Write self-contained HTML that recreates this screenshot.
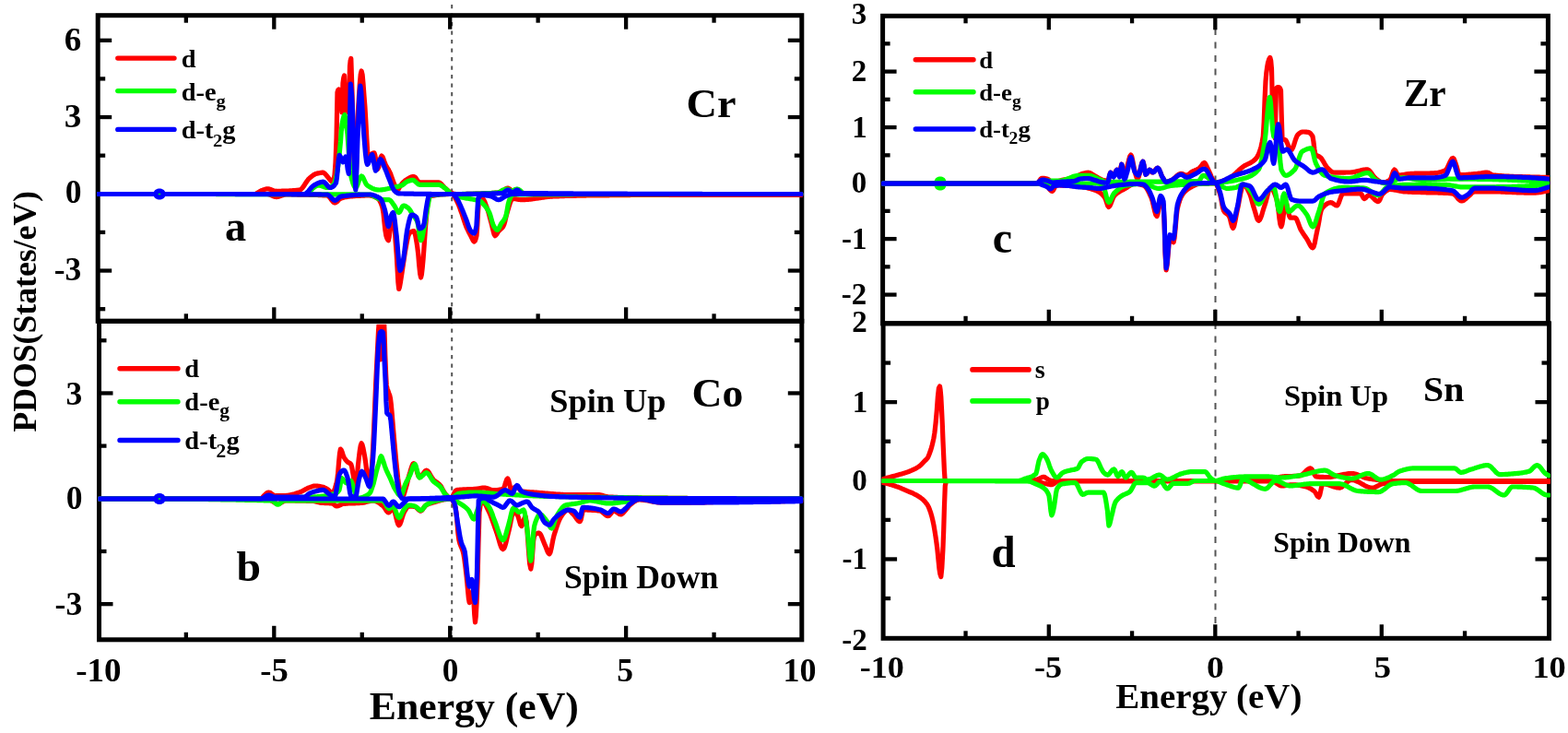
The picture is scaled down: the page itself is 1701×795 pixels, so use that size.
<!DOCTYPE html>
<html><head><meta charset="utf-8"><title>PDOS</title><style>html,body{margin:0;padding:0;background:#fff;}svg{display:block;}</style></head><body>
<svg width="1701" height="795" viewBox="0 0 1701 795" font-family="'Liberation Serif', serif" font-weight="bold">
<rect width="1701" height="795" fill="#fff"/>
<line x1="490.20" y1="5.00" x2="490.20" y2="694.00" stroke="#555" stroke-width="2.00" stroke-linecap="butt" stroke-dasharray="4.2,5.3"/>
<line x1="1318.50" y1="31.00" x2="1318.50" y2="692.00" stroke="#555" stroke-width="2.00" stroke-linecap="butt" stroke-dasharray="7,7.5"/>
<rect x="106.20" y="16.70" width="763.60" height="331.60" fill="none" stroke="#000" stroke-width="5.00"/>
<rect x="107.50" y="348.30" width="762.30" height="345.50" fill="none" stroke="#000" stroke-width="5.00"/>
<rect x="957.60" y="17.30" width="721.80" height="333.50" fill="none" stroke="#000" stroke-width="5.00"/>
<rect x="958.10" y="350.80" width="722.40" height="341.50" fill="none" stroke="#000" stroke-width="5.00"/>
<line x1="297.30" y1="16.70" x2="297.30" y2="31.70" stroke="#000" stroke-width="4.30" stroke-linecap="butt"/>
<line x1="297.30" y1="348.30" x2="297.30" y2="333.30" stroke="#000" stroke-width="4.30" stroke-linecap="butt"/>
<line x1="488.20" y1="16.70" x2="488.20" y2="31.70" stroke="#000" stroke-width="4.30" stroke-linecap="butt"/>
<line x1="488.20" y1="348.30" x2="488.20" y2="333.30" stroke="#000" stroke-width="4.30" stroke-linecap="butt"/>
<line x1="679.10" y1="16.70" x2="679.10" y2="31.70" stroke="#000" stroke-width="4.30" stroke-linecap="butt"/>
<line x1="679.10" y1="348.30" x2="679.10" y2="333.30" stroke="#000" stroke-width="4.30" stroke-linecap="butt"/>
<line x1="201.85" y1="16.70" x2="201.85" y2="24.70" stroke="#000" stroke-width="4.30" stroke-linecap="butt"/>
<line x1="201.85" y1="348.30" x2="201.85" y2="340.30" stroke="#000" stroke-width="4.30" stroke-linecap="butt"/>
<line x1="392.75" y1="16.70" x2="392.75" y2="24.70" stroke="#000" stroke-width="4.30" stroke-linecap="butt"/>
<line x1="392.75" y1="348.30" x2="392.75" y2="340.30" stroke="#000" stroke-width="4.30" stroke-linecap="butt"/>
<line x1="583.65" y1="16.70" x2="583.65" y2="24.70" stroke="#000" stroke-width="4.30" stroke-linecap="butt"/>
<line x1="583.65" y1="348.30" x2="583.65" y2="340.30" stroke="#000" stroke-width="4.30" stroke-linecap="butt"/>
<line x1="774.55" y1="16.70" x2="774.55" y2="24.70" stroke="#000" stroke-width="4.30" stroke-linecap="butt"/>
<line x1="774.55" y1="348.30" x2="774.55" y2="340.30" stroke="#000" stroke-width="4.30" stroke-linecap="butt"/>
<line x1="106.20" y1="43.80" x2="121.20" y2="43.80" stroke="#000" stroke-width="4.30" stroke-linecap="butt"/>
<line x1="869.80" y1="43.80" x2="854.80" y2="43.80" stroke="#000" stroke-width="4.30" stroke-linecap="butt"/>
<line x1="106.20" y1="127.05" x2="121.20" y2="127.05" stroke="#000" stroke-width="4.30" stroke-linecap="butt"/>
<line x1="869.80" y1="127.05" x2="854.80" y2="127.05" stroke="#000" stroke-width="4.30" stroke-linecap="butt"/>
<line x1="106.20" y1="210.30" x2="121.20" y2="210.30" stroke="#000" stroke-width="4.30" stroke-linecap="butt"/>
<line x1="869.80" y1="210.30" x2="854.80" y2="210.30" stroke="#000" stroke-width="4.30" stroke-linecap="butt"/>
<line x1="106.20" y1="293.55" x2="121.20" y2="293.55" stroke="#000" stroke-width="4.30" stroke-linecap="butt"/>
<line x1="869.80" y1="293.55" x2="854.80" y2="293.55" stroke="#000" stroke-width="4.30" stroke-linecap="butt"/>
<line x1="106.20" y1="85.43" x2="114.20" y2="85.43" stroke="#000" stroke-width="4.30" stroke-linecap="butt"/>
<line x1="869.80" y1="85.43" x2="861.80" y2="85.43" stroke="#000" stroke-width="4.30" stroke-linecap="butt"/>
<line x1="106.20" y1="168.68" x2="114.20" y2="168.68" stroke="#000" stroke-width="4.30" stroke-linecap="butt"/>
<line x1="869.80" y1="168.68" x2="861.80" y2="168.68" stroke="#000" stroke-width="4.30" stroke-linecap="butt"/>
<line x1="106.20" y1="251.93" x2="114.20" y2="251.93" stroke="#000" stroke-width="4.30" stroke-linecap="butt"/>
<line x1="869.80" y1="251.93" x2="861.80" y2="251.93" stroke="#000" stroke-width="4.30" stroke-linecap="butt"/>
<line x1="106.20" y1="335.18" x2="114.20" y2="335.18" stroke="#000" stroke-width="4.30" stroke-linecap="butt"/>
<line x1="869.80" y1="335.18" x2="861.80" y2="335.18" stroke="#000" stroke-width="4.30" stroke-linecap="butt"/>
<line x1="297.30" y1="693.80" x2="297.30" y2="678.80" stroke="#000" stroke-width="4.30" stroke-linecap="butt"/>
<line x1="488.20" y1="693.80" x2="488.20" y2="678.80" stroke="#000" stroke-width="4.30" stroke-linecap="butt"/>
<line x1="679.10" y1="693.80" x2="679.10" y2="678.80" stroke="#000" stroke-width="4.30" stroke-linecap="butt"/>
<line x1="201.85" y1="693.80" x2="201.85" y2="685.80" stroke="#000" stroke-width="4.30" stroke-linecap="butt"/>
<line x1="392.75" y1="693.80" x2="392.75" y2="685.80" stroke="#000" stroke-width="4.30" stroke-linecap="butt"/>
<line x1="583.65" y1="693.80" x2="583.65" y2="685.80" stroke="#000" stroke-width="4.30" stroke-linecap="butt"/>
<line x1="774.55" y1="693.80" x2="774.55" y2="685.80" stroke="#000" stroke-width="4.30" stroke-linecap="butt"/>
<line x1="107.50" y1="426.44" x2="122.50" y2="426.44" stroke="#000" stroke-width="4.30" stroke-linecap="butt"/>
<line x1="869.80" y1="426.44" x2="854.80" y2="426.44" stroke="#000" stroke-width="4.30" stroke-linecap="butt"/>
<line x1="107.50" y1="540.80" x2="122.50" y2="540.80" stroke="#000" stroke-width="4.30" stroke-linecap="butt"/>
<line x1="869.80" y1="540.80" x2="854.80" y2="540.80" stroke="#000" stroke-width="4.30" stroke-linecap="butt"/>
<line x1="107.50" y1="655.16" x2="122.50" y2="655.16" stroke="#000" stroke-width="4.30" stroke-linecap="butt"/>
<line x1="869.80" y1="655.16" x2="854.80" y2="655.16" stroke="#000" stroke-width="4.30" stroke-linecap="butt"/>
<line x1="107.50" y1="369.26" x2="115.50" y2="369.26" stroke="#000" stroke-width="4.30" stroke-linecap="butt"/>
<line x1="869.80" y1="369.26" x2="861.80" y2="369.26" stroke="#000" stroke-width="4.30" stroke-linecap="butt"/>
<line x1="107.50" y1="483.62" x2="115.50" y2="483.62" stroke="#000" stroke-width="4.30" stroke-linecap="butt"/>
<line x1="869.80" y1="483.62" x2="861.80" y2="483.62" stroke="#000" stroke-width="4.30" stroke-linecap="butt"/>
<line x1="107.50" y1="597.98" x2="115.50" y2="597.98" stroke="#000" stroke-width="4.30" stroke-linecap="butt"/>
<line x1="869.80" y1="597.98" x2="861.80" y2="597.98" stroke="#000" stroke-width="4.30" stroke-linecap="butt"/>
<line x1="1137.80" y1="17.30" x2="1137.80" y2="32.30" stroke="#000" stroke-width="4.30" stroke-linecap="butt"/>
<line x1="1137.80" y1="350.80" x2="1137.80" y2="335.80" stroke="#000" stroke-width="4.30" stroke-linecap="butt"/>
<line x1="1318.30" y1="17.30" x2="1318.30" y2="32.30" stroke="#000" stroke-width="4.30" stroke-linecap="butt"/>
<line x1="1318.30" y1="350.80" x2="1318.30" y2="335.80" stroke="#000" stroke-width="4.30" stroke-linecap="butt"/>
<line x1="1498.80" y1="17.30" x2="1498.80" y2="32.30" stroke="#000" stroke-width="4.30" stroke-linecap="butt"/>
<line x1="1498.80" y1="350.80" x2="1498.80" y2="335.80" stroke="#000" stroke-width="4.30" stroke-linecap="butt"/>
<line x1="1047.55" y1="17.30" x2="1047.55" y2="25.30" stroke="#000" stroke-width="4.30" stroke-linecap="butt"/>
<line x1="1047.55" y1="350.80" x2="1047.55" y2="342.80" stroke="#000" stroke-width="4.30" stroke-linecap="butt"/>
<line x1="1228.05" y1="17.30" x2="1228.05" y2="25.30" stroke="#000" stroke-width="4.30" stroke-linecap="butt"/>
<line x1="1228.05" y1="350.80" x2="1228.05" y2="342.80" stroke="#000" stroke-width="4.30" stroke-linecap="butt"/>
<line x1="1408.55" y1="17.30" x2="1408.55" y2="25.30" stroke="#000" stroke-width="4.30" stroke-linecap="butt"/>
<line x1="1408.55" y1="350.80" x2="1408.55" y2="342.80" stroke="#000" stroke-width="4.30" stroke-linecap="butt"/>
<line x1="1589.05" y1="17.30" x2="1589.05" y2="25.30" stroke="#000" stroke-width="4.30" stroke-linecap="butt"/>
<line x1="1589.05" y1="350.80" x2="1589.05" y2="342.80" stroke="#000" stroke-width="4.30" stroke-linecap="butt"/>
<line x1="957.60" y1="77.60" x2="972.60" y2="77.60" stroke="#000" stroke-width="4.30" stroke-linecap="butt"/>
<line x1="1679.40" y1="77.60" x2="1664.40" y2="77.60" stroke="#000" stroke-width="4.30" stroke-linecap="butt"/>
<line x1="957.60" y1="138.10" x2="972.60" y2="138.10" stroke="#000" stroke-width="4.30" stroke-linecap="butt"/>
<line x1="1679.40" y1="138.10" x2="1664.40" y2="138.10" stroke="#000" stroke-width="4.30" stroke-linecap="butt"/>
<line x1="957.60" y1="198.60" x2="972.60" y2="198.60" stroke="#000" stroke-width="4.30" stroke-linecap="butt"/>
<line x1="1679.40" y1="198.60" x2="1664.40" y2="198.60" stroke="#000" stroke-width="4.30" stroke-linecap="butt"/>
<line x1="957.60" y1="259.10" x2="972.60" y2="259.10" stroke="#000" stroke-width="4.30" stroke-linecap="butt"/>
<line x1="1679.40" y1="259.10" x2="1664.40" y2="259.10" stroke="#000" stroke-width="4.30" stroke-linecap="butt"/>
<line x1="957.60" y1="319.60" x2="972.60" y2="319.60" stroke="#000" stroke-width="4.30" stroke-linecap="butt"/>
<line x1="1679.40" y1="319.60" x2="1664.40" y2="319.60" stroke="#000" stroke-width="4.30" stroke-linecap="butt"/>
<line x1="957.60" y1="47.35" x2="965.60" y2="47.35" stroke="#000" stroke-width="4.30" stroke-linecap="butt"/>
<line x1="1679.40" y1="47.35" x2="1671.40" y2="47.35" stroke="#000" stroke-width="4.30" stroke-linecap="butt"/>
<line x1="957.60" y1="107.85" x2="965.60" y2="107.85" stroke="#000" stroke-width="4.30" stroke-linecap="butt"/>
<line x1="1679.40" y1="107.85" x2="1671.40" y2="107.85" stroke="#000" stroke-width="4.30" stroke-linecap="butt"/>
<line x1="957.60" y1="168.35" x2="965.60" y2="168.35" stroke="#000" stroke-width="4.30" stroke-linecap="butt"/>
<line x1="1679.40" y1="168.35" x2="1671.40" y2="168.35" stroke="#000" stroke-width="4.30" stroke-linecap="butt"/>
<line x1="957.60" y1="228.85" x2="965.60" y2="228.85" stroke="#000" stroke-width="4.30" stroke-linecap="butt"/>
<line x1="1679.40" y1="228.85" x2="1671.40" y2="228.85" stroke="#000" stroke-width="4.30" stroke-linecap="butt"/>
<line x1="957.60" y1="289.35" x2="965.60" y2="289.35" stroke="#000" stroke-width="4.30" stroke-linecap="butt"/>
<line x1="1679.40" y1="289.35" x2="1671.40" y2="289.35" stroke="#000" stroke-width="4.30" stroke-linecap="butt"/>
<line x1="1137.80" y1="692.30" x2="1137.80" y2="677.30" stroke="#000" stroke-width="4.30" stroke-linecap="butt"/>
<line x1="1318.30" y1="692.30" x2="1318.30" y2="677.30" stroke="#000" stroke-width="4.30" stroke-linecap="butt"/>
<line x1="1498.80" y1="692.30" x2="1498.80" y2="677.30" stroke="#000" stroke-width="4.30" stroke-linecap="butt"/>
<line x1="1047.55" y1="692.30" x2="1047.55" y2="684.30" stroke="#000" stroke-width="4.30" stroke-linecap="butt"/>
<line x1="1228.05" y1="692.30" x2="1228.05" y2="684.30" stroke="#000" stroke-width="4.30" stroke-linecap="butt"/>
<line x1="1408.55" y1="692.30" x2="1408.55" y2="684.30" stroke="#000" stroke-width="4.30" stroke-linecap="butt"/>
<line x1="1589.05" y1="692.30" x2="1589.05" y2="684.30" stroke="#000" stroke-width="4.30" stroke-linecap="butt"/>
<line x1="958.10" y1="436.14" x2="973.10" y2="436.14" stroke="#000" stroke-width="4.30" stroke-linecap="butt"/>
<line x1="1680.50" y1="436.14" x2="1665.50" y2="436.14" stroke="#000" stroke-width="4.30" stroke-linecap="butt"/>
<line x1="958.10" y1="521.30" x2="973.10" y2="521.30" stroke="#000" stroke-width="4.30" stroke-linecap="butt"/>
<line x1="1680.50" y1="521.30" x2="1665.50" y2="521.30" stroke="#000" stroke-width="4.30" stroke-linecap="butt"/>
<line x1="958.10" y1="606.46" x2="973.10" y2="606.46" stroke="#000" stroke-width="4.30" stroke-linecap="butt"/>
<line x1="1680.50" y1="606.46" x2="1665.50" y2="606.46" stroke="#000" stroke-width="4.30" stroke-linecap="butt"/>
<line x1="958.10" y1="393.56" x2="966.10" y2="393.56" stroke="#000" stroke-width="4.30" stroke-linecap="butt"/>
<line x1="1680.50" y1="393.56" x2="1672.50" y2="393.56" stroke="#000" stroke-width="4.30" stroke-linecap="butt"/>
<line x1="958.10" y1="478.72" x2="966.10" y2="478.72" stroke="#000" stroke-width="4.30" stroke-linecap="butt"/>
<line x1="1680.50" y1="478.72" x2="1672.50" y2="478.72" stroke="#000" stroke-width="4.30" stroke-linecap="butt"/>
<line x1="958.10" y1="563.88" x2="966.10" y2="563.88" stroke="#000" stroke-width="4.30" stroke-linecap="butt"/>
<line x1="1680.50" y1="563.88" x2="1672.50" y2="563.88" stroke="#000" stroke-width="4.30" stroke-linecap="butt"/>
<line x1="958.10" y1="649.04" x2="966.10" y2="649.04" stroke="#000" stroke-width="4.30" stroke-linecap="butt"/>
<line x1="1680.50" y1="649.04" x2="1672.50" y2="649.04" stroke="#000" stroke-width="4.30" stroke-linecap="butt"/>
<defs><clipPath id="ca"><rect x="105.2" y="19" width="766.3" height="327"/></clipPath><clipPath id="cb"><rect x="106.5" y="351.8" width="765" height="340"/></clipPath><clipPath id="cc"><rect x="956" y="19.5" width="725" height="329"/></clipPath><clipPath id="cd"><rect x="956.5" y="353" width="725.5" height="337"/></clipPath></defs>
<g clip-path="url(#ca)">
<polyline points="107.0,210.5 276.0,210.5 277.2,210.3 278.3,209.8 279.5,209.1 280.7,208.3 281.8,207.6 283.0,207.0 284.2,206.5 285.3,206.0 286.5,205.6 287.7,205.2 288.8,204.9 290.0,204.8 291.1,204.9 292.2,205.1 293.3,205.4 294.4,205.8 295.6,206.3 296.7,206.7 297.8,207.0 298.9,207.2 300.0,207.3 301.2,207.3 302.4,207.3 303.6,207.3 304.8,207.3 306.0,207.2 307.1,207.2 308.3,207.2 309.5,207.1 310.7,207.1 311.9,207.0 313.1,207.0 314.3,206.9 315.5,206.8 316.7,206.8 317.9,206.7 319.0,206.6 320.2,206.5 321.4,206.4 322.6,206.3 323.8,206.1 325.0,206.0 326.2,205.6 327.3,204.6 328.5,203.2 329.7,201.6 330.8,199.8 332.0,198.0 333.2,196.2 334.3,194.7 335.5,193.5 336.6,192.6 337.6,191.7 338.7,190.8 339.8,190.0 340.9,189.3 341.9,188.8 343.0,188.4 344.1,188.1 345.2,187.9 346.3,187.7 347.3,187.5 348.4,187.3 349.5,187.2 350.6,187.2 351.6,187.6 352.6,188.5 353.7,189.7 354.7,191.0 355.7,192.2 356.7,193.4 357.7,194.7 358.7,195.9 359.7,196.8 360.7,197.2 361.9,195.2 363.0,190.0 364.0,176.1 365.0,150.0 366.0,100.0 366.8,97.7 367.5,97.0 368.5,118.0 369.5,98.0 370.2,110.0 371.0,122.0 372.0,90.0 372.8,84.2 373.5,82.0 374.2,101.0 375.0,120.0 375.8,108.0 376.5,96.0 377.2,109.0 378.0,122.0 378.8,99.0 379.5,72.0 380.1,66.0 380.8,63.5 382.0,100.0 382.8,131.4 383.5,160.0 384.5,186.8 385.5,200.0 386.5,183.0 387.5,148.2 388.5,120.0 389.4,104.8 390.3,91.0 391.2,80.9 392.1,77.0 393.1,80.8 394.0,90.5 394.9,103.0 395.9,115.5 396.8,131.0 397.8,150.2 398.8,166.4 399.7,173.3 400.9,170.9 402.0,168.0 403.0,167.1 404.0,166.4 405.0,166.0 406.0,165.8 406.9,168.6 407.9,174.6 408.8,180.6 409.7,183.4 410.8,181.2 411.9,176.2 412.9,171.2 414.0,169.0 415.0,170.0 416.0,172.5 417.0,175.4 418.0,178.0 419.1,180.1 420.2,182.1 421.4,184.0 422.5,186.1 423.6,188.4 424.7,191.5 425.9,194.9 427.0,198.0 428.0,200.6 429.1,203.2 430.1,205.2 431.1,206.0 432.1,205.3 433.1,203.7 434.2,201.9 435.2,200.3 436.2,199.1 437.2,198.0 438.3,197.0 439.3,196.0 440.3,195.3 441.4,194.6 442.5,193.9 443.6,193.3 444.6,192.7 445.7,192.2 446.8,191.8 447.9,191.6 449.0,191.5 450.1,192.0 451.1,193.1 452.1,194.6 453.2,196.2 454.2,197.3 455.3,197.8 456.4,197.8 457.5,197.8 458.7,197.8 459.8,197.8 460.9,197.8 462.0,197.8 463.2,197.8 464.3,197.8 465.4,197.8 466.5,197.8 467.6,197.8 468.8,197.8 469.9,197.8 471.0,197.8 472.1,197.8 473.3,197.8 474.4,197.8 475.5,197.8 476.6,198.0 477.6,198.7 478.7,199.6 479.8,200.8 480.9,202.0 481.9,203.1 483.0,204.1 484.1,205.0 485.1,206.0 486.1,206.9 487.2,207.8 488.2,208.6 489.3,209.1 490.4,209.5 491.6,209.9 492.7,210.2 493.9,210.4 495.0,210.5 496.2,210.5 497.4,210.5 498.6,210.5 499.7,210.5 500.9,210.5 502.1,210.5 503.3,210.5 504.5,210.5 505.7,210.4 506.8,210.4 508.0,210.4 509.2,210.4 510.4,210.4 511.6,210.3 512.8,210.3 513.9,210.3 515.1,210.3 516.3,210.2 517.5,210.2 518.7,210.2 519.9,210.1 521.1,210.1 522.2,210.0 523.4,210.0 524.6,209.9 525.8,209.9 527.0,209.8 528.2,209.8 529.3,209.7 530.5,209.6 531.7,209.6 532.9,209.5 534.1,209.4 535.3,209.3 536.4,209.3 537.6,209.2 538.8,209.1 540.0,209.0 541.0,208.8 542.0,208.4 543.0,208.0 544.0,207.5 545.0,207.0 546.2,206.4 547.4,205.6 548.5,204.9 549.7,204.3 550.9,204.1 551.9,204.4 552.9,205.1 554.0,206.0 555.0,206.7 556.0,207.0 557.0,206.8 558.0,206.4 559.0,205.9 560.0,205.5 561.0,205.3 562.0,205.7 563.0,206.5 564.0,207.5 565.0,208.5 566.0,209.0 567.2,209.2 568.3,209.5 569.5,209.7 570.7,209.8 571.8,210.0 573.0,210.1 574.2,210.2 575.3,210.3 576.5,210.4 577.7,210.5 578.8,210.5 580.0,210.5 869.0,210.5" fill="none" stroke="#ff0000" stroke-width="5.20" stroke-linejoin="round" stroke-linecap="round"/>
</g>
<g clip-path="url(#ca)">
<polyline points="107.0,210.5 290.0,210.5 291.1,210.6 292.2,210.9 293.3,211.3 294.4,211.8 295.6,212.3 296.7,212.8 297.8,213.2 298.9,213.5 300.0,213.6 301.1,213.5 302.2,213.3 303.3,212.9 304.4,212.5 305.6,212.1 306.7,211.7 307.8,211.3 308.9,211.1 310.0,211.0 311.2,211.0 312.4,211.0 313.6,211.0 314.7,211.0 315.9,211.0 317.1,211.0 318.3,211.0 319.5,211.0 320.7,211.0 321.8,211.0 323.0,211.1 324.2,211.1 325.4,211.1 326.6,211.1 327.8,211.1 328.9,211.1 330.1,211.1 331.3,211.2 332.5,211.2 333.7,211.2 334.9,211.2 336.1,211.3 337.2,211.3 338.4,211.3 339.6,211.4 340.8,211.4 342.0,211.4 343.2,211.5 344.3,211.5 345.5,211.6 346.7,211.6 347.9,211.7 349.1,211.7 350.3,211.8 351.4,211.8 352.6,211.9 353.8,211.9 355.0,212.0 356.2,212.5 357.3,213.7 358.5,215.2 359.7,216.9 360.9,218.4 362.0,219.6 363.2,220.0 364.3,219.7 365.5,218.9 366.6,217.8 367.7,216.6 368.9,215.6 370.0,215.0 371.1,214.7 372.2,214.3 373.3,214.1 374.4,213.8 375.6,213.6 376.7,213.4 377.8,213.2 378.9,213.1 380.0,213.0 381.2,212.9 382.4,212.8 383.5,212.7 384.7,212.6 385.9,212.5 387.1,212.5 388.2,212.4 389.4,212.3 390.6,212.3 391.8,212.2 392.9,212.1 394.1,212.1 395.3,212.1 396.5,212.0 397.6,212.0 398.8,212.0 400.0,212.0 401.1,212.0 402.2,212.2 403.3,212.4 404.4,212.7 405.6,213.1 406.7,213.6 407.8,214.1 408.9,214.7 410.0,215.4 411.0,216.3 412.0,217.8 413.0,219.9 414.0,222.4 415.0,225.5 416.0,231.5 416.9,240.7 417.9,249.9 418.9,255.7 419.7,258.1 420.6,260.0 421.4,260.7 422.2,256.9 423.1,249.1 423.9,243.0 424.7,239.5 425.6,236.7 426.4,235.5 427.3,239.6 428.3,249.7 429.2,262.8 430.2,275.8 431.0,290.2 431.9,306.1 432.7,313.5 433.5,311.3 434.4,306.3 435.2,301.0 436.2,294.8 437.2,287.8 438.3,280.7 439.3,273.9 440.3,268.2 441.2,263.4 442.1,258.8 443.1,255.1 444.0,253.1 445.0,252.2 446.0,251.6 447.0,251.0 448.0,250.7 449.0,250.6 449.9,252.3 450.9,256.5 451.9,262.2 452.8,268.2 453.8,276.5 454.7,287.5 455.7,296.9 456.6,301.0 457.4,297.7 458.3,289.8 459.1,280.8 459.9,270.0 460.8,257.1 461.6,245.6 462.5,235.5 463.3,226.5 464.2,220.4 465.0,216.8 465.9,214.1 466.7,212.9 467.9,212.6 469.1,212.3 470.3,212.1 471.5,211.9 472.7,211.7 473.9,211.5 475.1,211.3 476.3,211.2 477.5,211.0 478.6,210.9 479.8,210.8 481.0,210.7 482.2,210.7 483.4,210.6 484.6,210.6 485.8,210.6 487.0,210.5 488.2,210.5 489.4,210.5 490.6,210.5 491.6,211.0 492.6,212.2 493.6,214.0 494.6,216.0 495.6,218.0 496.6,220.1 497.6,222.4 498.6,225.0 499.6,227.8 500.6,230.5 501.6,233.4 502.6,236.6 503.7,239.8 504.7,242.9 505.7,245.6 506.7,247.9 507.7,250.0 508.7,252.0 509.7,253.9 510.7,255.7 511.6,257.7 512.6,259.7 513.5,261.3 514.5,262.0 515.3,261.2 516.2,258.9 517.0,255.7 517.8,244.6 518.7,227.5 519.5,218.0 520.5,216.8 521.4,216.0 522.3,215.6 523.3,215.4 524.3,216.0 525.3,217.7 526.3,220.1 527.3,222.8 528.3,225.5 529.3,228.4 530.3,231.9 531.3,235.6 532.3,239.4 533.3,243.0 534.2,246.8 535.2,251.0 536.1,254.3 537.1,255.7 538.0,255.1 539.0,253.7 540.0,252.0 540.9,250.6 541.9,249.6 542.9,248.8 543.9,247.9 544.9,246.9 545.9,245.6 546.9,243.2 547.9,239.7 548.9,235.5 549.9,231.4 550.9,228.0 551.9,224.8 552.9,221.4 554.0,218.4 555.0,216.2 556.0,215.4 557.1,215.4 558.2,215.6 559.3,215.7 560.4,215.9 561.6,216.2 562.7,216.4 563.8,216.5 564.9,216.7 566.0,216.7 567.2,216.7 568.3,216.7 569.5,216.6 570.7,216.5 571.9,216.4 573.0,216.3 574.2,216.2 575.4,216.1 576.6,215.9 577.7,215.8 578.9,215.6 580.1,215.5 581.2,215.3 582.4,215.1 583.6,214.9 584.8,214.8 585.9,214.6 587.1,214.4 588.3,214.2 589.4,214.1 590.6,213.9 591.8,213.7 593.0,213.6 594.1,213.5 595.3,213.3 596.5,213.2 597.7,213.1 598.8,213.1 600.0,213.0 601.2,213.0 602.4,212.9 603.5,212.9 604.7,212.8 605.9,212.8 607.1,212.7 608.2,212.7 609.4,212.7 610.6,212.6 611.8,212.6 612.9,212.5 614.1,212.5 615.3,212.5 616.5,212.4 617.6,212.4 618.8,212.4 620.0,212.4 621.2,212.3 622.4,212.3 623.5,212.3 624.7,212.3 625.9,212.2 627.1,212.2 628.2,212.2 629.4,212.2 630.6,212.1 631.8,212.1 632.9,212.1 634.1,212.1 635.3,212.1 636.5,212.0 637.6,212.0 638.8,212.0 640.0,212.0 641.2,212.0 642.4,212.0 643.6,212.0 644.8,211.9 646.0,211.9 647.2,211.9 648.4,211.9 649.6,211.9 650.8,211.9 652.0,211.8 653.2,211.8 654.4,211.8 655.6,211.8 656.8,211.8 658.0,211.8 659.2,211.8 660.4,211.8 661.6,211.7 662.8,211.7 664.0,211.7 665.2,211.7 666.4,211.7 667.6,211.7 668.8,211.7 670.0,211.7 671.2,211.6 672.4,211.6 673.6,211.6 674.8,211.6 676.0,211.6 677.2,211.6 678.4,211.6 679.6,211.6 680.8,211.6 682.0,211.6 683.2,211.6 684.4,211.5 685.6,211.5 686.8,211.5 688.0,211.5 689.2,211.5 690.4,211.5 691.6,211.5 692.8,211.5 694.0,211.5 695.2,211.5 696.4,211.5 697.6,211.5 698.8,211.5 700.0,211.5 869.0,211.5" fill="none" stroke="#ff0000" stroke-width="5.20" stroke-linejoin="round" stroke-linecap="round"/>
</g>
<g clip-path="url(#ca)">
<polyline points="107.0,210.5 330.0,210.5 331.1,210.4 332.2,210.0 333.3,209.4 334.5,208.6 335.6,207.7 336.7,206.8 337.8,205.8 338.9,204.7 340.0,203.8 341.1,202.9 342.3,202.1 343.4,201.5 344.5,201.1 345.6,201.0 346.8,201.1 348.0,201.4 349.1,201.8 350.3,202.2 351.5,202.7 352.6,203.1 353.8,203.4 355.0,203.5 356.2,203.4 357.3,203.1 358.5,202.6 359.7,201.9 360.8,201.0 362.0,200.0 363.0,198.1 364.0,194.7 365.0,190.2 366.0,185.0 367.2,176.7 368.3,165.5 369.5,153.2 370.2,143.2 371.0,135.0 372.0,129.7 373.0,125.9 374.0,124.5 374.8,128.4 375.5,135.0 376.2,139.9 377.0,145.7 378.0,160.0 379.0,175.0 379.9,184.5 380.8,191.0 381.8,195.0 382.8,198.5 383.8,201.2 384.8,202.9 385.8,203.5 386.9,202.6 387.9,200.3 389.0,197.2 390.0,194.2 391.1,191.9 392.1,191.0 393.2,191.6 394.2,193.3 395.2,195.5 396.3,197.8 397.3,199.8 398.4,201.0 399.5,201.8 400.7,202.5 401.8,203.1 403.0,203.8 404.1,204.3 405.3,204.8 406.4,205.2 407.6,205.6 408.7,205.8 409.9,205.9 411.0,206.0 412.2,206.0 413.3,205.9 414.5,205.8 415.6,205.6 416.8,205.5 417.9,205.2 419.1,205.0 420.2,204.8 421.4,204.5 422.5,204.3 423.7,204.0 424.8,203.7 426.0,203.5 427.1,203.3 428.2,203.1 429.3,202.8 430.4,202.6 431.6,202.4 432.7,202.1 433.8,201.8 434.9,201.4 436.0,201.0 437.0,200.4 438.1,199.6 439.1,198.7 440.2,197.8 441.2,197.2 442.3,196.7 443.4,196.3 444.5,195.9 445.6,195.6 446.7,195.4 447.8,195.3 448.9,195.6 449.9,196.3 451.0,197.3 452.1,198.3 453.2,199.3 454.2,200.0 455.3,200.3 475.5,200.3 476.6,200.4 477.7,200.8 478.8,201.3 479.9,202.0 481.0,202.8 482.1,203.6 483.2,204.5 484.3,205.3 485.4,206.4 486.6,207.7 487.7,209.1 488.9,210.1 490.0,210.5 491.2,210.5 492.4,210.5 493.6,210.5 494.8,210.5 496.0,210.5 497.1,210.5 498.3,210.5 499.5,210.5 500.7,210.5 501.9,210.4 503.1,210.4 504.3,210.4 505.5,210.4 506.7,210.4 507.9,210.4 509.0,210.3 510.2,210.3 511.4,210.3 512.6,210.3 513.8,210.2 515.0,210.2 516.2,210.2 517.4,210.1 518.6,210.1 519.8,210.1 521.0,210.0 522.1,210.0 523.3,209.9 524.5,209.9 525.7,209.8 526.9,209.8 528.1,209.7 529.3,209.7 530.5,209.6 531.7,209.5 532.9,209.5 534.0,209.4 535.2,209.3 536.4,209.2 537.6,209.2 538.8,209.1 540.0,209.0 541.2,208.7 542.4,208.1 543.6,207.3 544.8,206.5 546.0,206.0 547.0,205.7 548.0,205.3 549.0,205.1 550.0,205.0 551.0,205.2 552.0,205.7 553.0,206.3 554.0,206.8 555.0,207.0 556.2,206.8 557.4,206.3 558.6,205.7 559.8,205.2 561.0,205.0 562.1,205.2 563.2,205.9 564.4,206.7 565.5,207.8 566.6,208.8 567.8,209.6 568.9,210.3 570.0,210.5 869.0,210.5" fill="none" stroke="#00ff00" stroke-width="5.20" stroke-linejoin="round" stroke-linecap="round"/>
</g>
<g clip-path="url(#ca)">
<polyline points="107.0,210.5 108.2,210.5 109.4,210.5 110.6,210.5 111.8,210.5 113.0,210.5 114.2,210.5 115.4,210.5 116.6,210.5 117.8,210.5 119.0,210.5 120.2,210.5 121.4,210.5 122.5,210.5 123.7,210.5 124.9,210.5 126.1,210.5 127.3,210.5 128.5,210.5 129.7,210.5 130.9,210.5 132.1,210.5 133.3,210.5 134.5,210.5 135.7,210.5 136.9,210.5 138.1,210.5 139.3,210.5 140.5,210.5 141.7,210.5 142.9,210.5 144.1,210.5 145.3,210.5 146.5,210.5 147.7,210.5 148.9,210.5 150.1,210.5 151.2,210.5 152.4,210.5 153.6,210.5 154.8,210.5 156.0,210.5 157.2,210.5 158.4,210.5 159.6,210.5 160.8,210.5 162.0,210.5 163.2,210.5 164.4,210.5 165.6,210.5 166.8,210.5 168.0,210.5 169.2,210.5 170.4,210.5 171.6,210.5 172.8,210.5 174.0,210.5 175.2,210.5 176.4,210.5 177.6,210.5 178.8,210.5 180.0,210.5 181.1,210.5 182.3,210.5 183.5,210.5 184.7,210.5 185.9,210.5 187.1,210.5 188.3,210.5 189.5,210.5 190.7,210.5 191.9,210.5 193.1,210.5 194.3,210.5 195.5,210.5 196.7,210.5 197.9,210.5 199.1,210.5 200.3,210.5 201.5,210.5 202.7,210.5 203.9,210.5 205.1,210.5 206.3,210.5 207.5,210.5 208.7,210.5 209.8,210.5 211.0,210.5 212.2,210.5 213.4,210.5 214.6,210.5 215.8,210.5 217.0,210.5 218.2,210.5 219.4,210.5 220.6,210.5 221.8,210.5 223.0,210.5 224.2,210.5 225.4,210.5 226.6,210.5 227.8,210.5 229.0,210.5 230.2,210.5 231.4,210.5 232.6,210.5 233.8,210.5 235.0,210.6 236.2,210.6 237.4,210.6 238.6,210.6 239.7,210.6 240.9,210.6 242.1,210.6 243.3,210.6 244.5,210.6 245.7,210.6 246.9,210.6 248.1,210.6 249.3,210.6 250.5,210.6 251.7,210.6 252.9,210.6 254.1,210.6 255.3,210.6 256.5,210.6 257.7,210.6 258.9,210.6 260.1,210.6 261.3,210.6 262.5,210.6 263.7,210.6 264.9,210.6 266.1,210.6 267.3,210.6 268.4,210.6 269.6,210.6 270.8,210.6 272.0,210.6 273.2,210.6 274.4,210.6 275.6,210.6 276.8,210.6 278.0,210.6 279.2,210.6 280.4,210.6 281.6,210.6 282.8,210.6 284.0,210.6 285.2,210.6 286.4,210.6 287.6,210.6 288.8,210.6 290.0,210.6 291.2,210.6 292.4,210.6 293.6,210.6 294.8,210.6 296.0,210.6 297.2,210.6 298.3,210.7 299.5,210.7 300.7,210.7 301.9,210.7 303.1,210.7 304.3,210.7 305.5,210.7 306.7,210.7 307.9,210.7 309.1,210.7 310.3,210.7 311.5,210.7 312.7,210.7 313.9,210.7 315.1,210.7 316.3,210.7 317.5,210.7 318.7,210.7 319.9,210.7 321.1,210.7 322.3,210.7 323.5,210.7 324.7,210.7 325.9,210.7 327.0,210.7 328.2,210.7 329.4,210.7 330.6,210.7 331.8,210.7 333.0,210.7 334.2,210.7 335.4,210.7 336.6,210.8 337.8,210.8 339.0,210.8 340.2,210.8 341.4,210.8 342.6,210.8 343.8,210.8 345.0,210.8 346.2,210.8 347.4,210.8 348.6,210.8 349.8,210.8 351.0,210.8 352.2,210.8 353.4,210.8 354.6,210.8 355.8,210.8 356.9,210.8 358.1,210.8 359.3,210.8 360.5,210.8 361.7,210.8 362.9,210.8 364.1,210.8 365.3,210.9 366.5,210.9 367.7,210.9 368.9,210.9 370.1,210.9 371.3,210.9 372.5,210.9 373.7,210.9 374.9,210.9 376.1,210.9 377.3,210.9 378.5,210.9 379.7,210.9 380.9,210.9 382.1,210.9 383.3,210.9 384.5,210.9 385.6,210.9 386.8,210.9 388.0,210.9 389.2,210.9 390.4,211.0 391.6,211.0 392.8,211.0 394.0,211.0 395.2,211.0 396.4,211.0 397.6,211.0 398.8,211.0 400.0,211.0 401.2,211.1 402.3,211.4 403.5,211.8 404.6,212.3 405.8,212.9 406.9,213.5 408.1,214.2 409.2,214.8 410.4,215.4 411.5,215.9 412.7,216.3 413.8,216.6 415.0,216.7 416.2,216.7 417.3,216.7 418.5,216.7 419.7,216.7 420.8,216.7 422.0,216.7 423.1,217.1 424.3,218.2 425.4,219.7 426.6,221.4 427.7,223.0 428.7,224.6 429.7,226.6 430.7,228.5 431.7,229.9 432.7,230.5 433.7,229.7 434.7,227.9 435.7,225.6 436.7,223.8 437.7,223.0 438.7,223.1 439.7,223.5 440.8,224.1 441.8,224.8 442.8,225.5 443.8,226.5 444.8,227.9 445.8,229.6 446.8,231.4 447.8,233.0 448.8,234.4 449.8,235.6 450.8,236.9 451.8,238.5 452.8,240.6 453.8,245.0 454.7,251.8 455.7,258.0 456.6,260.7 457.6,259.2 458.5,255.4 459.4,250.5 460.4,245.6 461.3,240.4 462.3,234.4 463.2,228.4 464.2,223.0 465.0,218.3 465.9,214.0 466.7,212.0 467.9,211.8 469.1,211.6 470.3,211.5 471.5,211.3 472.7,211.2 473.9,211.1 475.1,211.0 476.3,210.9 477.5,210.8 478.6,210.7 479.8,210.7 481.0,210.6 482.2,210.6 483.4,210.6 484.6,210.5 485.8,210.5 487.0,210.5 488.2,210.5 489.4,210.5 490.6,210.5 491.7,210.6 492.8,210.8 493.9,211.2 495.0,211.7 496.2,212.2 497.3,212.7 498.4,213.2 499.5,213.7 500.6,214.0 501.8,214.3 502.9,214.5 504.1,214.7 505.2,214.9 506.4,215.1 507.6,215.3 508.7,215.5 509.9,215.7 511.1,215.8 512.2,216.0 513.4,216.2 514.5,216.5 515.7,216.7 516.9,217.0 518.1,217.2 519.3,217.6 520.5,218.0 521.6,218.6 522.6,219.5 523.7,220.6 524.7,221.8 525.8,223.0 526.8,224.2 527.8,225.5 528.8,227.0 529.8,228.6 530.8,230.5 531.8,233.1 532.8,236.6 533.8,240.2 534.8,243.4 535.8,245.6 536.8,247.0 537.7,248.2 538.6,249.1 539.6,249.4 540.5,248.7 541.5,247.0 542.5,244.9 543.4,243.0 544.4,241.6 545.4,240.3 546.4,239.0 547.4,237.5 548.4,235.5 549.4,232.0 550.3,226.9 551.2,221.7 552.2,218.0 553.2,215.5 554.1,213.3 555.0,211.6 556.0,211.0 557.2,211.0 558.4,211.0 559.6,211.0 560.8,211.0 562.0,211.0 563.2,211.0 564.4,211.0 565.6,211.0 566.8,211.0 568.0,210.9 569.2,210.9 570.4,210.9 571.6,210.9 572.8,210.9 574.0,210.9 575.2,210.9 576.4,210.9 577.6,210.9 578.8,210.9 580.0,210.9 581.2,210.9 582.4,210.9 583.6,210.9 584.8,210.9 586.0,210.9 587.2,210.9 588.4,210.9 589.6,210.9 590.8,210.9 592.0,210.8 593.2,210.8 594.4,210.8 595.6,210.8 596.8,210.8 598.0,210.8 599.2,210.8 600.4,210.8 601.6,210.8 602.8,210.8 604.0,210.8 605.2,210.8 606.4,210.8 607.6,210.8 608.8,210.8 610.0,210.8 611.2,210.8 612.4,210.8 613.6,210.8 614.8,210.8 616.0,210.8 617.2,210.8 618.4,210.8 619.6,210.8 620.8,210.8 622.0,210.7 623.2,210.7 624.4,210.7 625.6,210.7 626.8,210.7 628.0,210.7 629.2,210.7 630.4,210.7 631.6,210.7 632.8,210.7 634.0,210.7 635.1,210.7 636.3,210.7 637.5,210.7 638.7,210.7 639.9,210.7 641.1,210.7 642.3,210.7 643.5,210.7 644.7,210.7 645.9,210.7 647.1,210.7 648.3,210.7 649.5,210.7 650.7,210.7 651.9,210.7 653.1,210.7 654.3,210.7 655.5,210.7 656.7,210.7 657.9,210.7 659.1,210.7 660.3,210.7 661.5,210.6 662.7,210.6 663.9,210.6 665.1,210.6 666.3,210.6 667.5,210.6 668.7,210.6 669.9,210.6 671.1,210.6 672.3,210.6 673.5,210.6 674.7,210.6 675.9,210.6 677.1,210.6 678.3,210.6 679.5,210.6 680.7,210.6 681.9,210.6 683.1,210.6 684.3,210.6 685.5,210.6 686.7,210.6 687.9,210.6 689.1,210.6 690.3,210.6 691.5,210.6 692.7,210.6 693.9,210.6 695.1,210.6 696.3,210.6 697.5,210.6 698.7,210.6 699.9,210.6 701.1,210.6 702.3,210.6 703.5,210.6 704.7,210.6 705.9,210.6 707.1,210.6 708.3,210.6 709.5,210.6 710.7,210.6 711.9,210.6 713.1,210.6 714.3,210.6 715.5,210.6 716.7,210.6 717.9,210.6 719.1,210.6 720.3,210.6 721.5,210.6 722.7,210.6 723.9,210.6 725.1,210.6 726.3,210.5 727.5,210.5 728.7,210.5 729.9,210.5 731.1,210.5 732.3,210.5 733.5,210.5 734.7,210.5 735.9,210.5 737.1,210.5 738.3,210.5 739.5,210.5 740.7,210.5 741.9,210.5 743.1,210.5 744.3,210.5 745.5,210.5 746.7,210.5 747.9,210.5 749.1,210.5 750.3,210.5 751.5,210.5 752.7,210.5 753.9,210.5 755.1,210.5 756.3,210.5 757.5,210.5 758.7,210.5 759.9,210.5 761.1,210.5 762.3,210.5 763.5,210.5 764.7,210.5 765.9,210.5 767.1,210.5 768.3,210.5 769.5,210.5 770.7,210.5 771.9,210.5 773.1,210.5 774.3,210.5 775.5,210.5 776.7,210.5 777.9,210.5 779.1,210.5 780.3,210.5 781.5,210.5 782.7,210.5 783.9,210.5 785.1,210.5 786.3,210.5 787.5,210.5 788.7,210.5 789.9,210.5 791.0,210.5 792.2,210.5 793.4,210.5 794.6,210.5 795.8,210.5 797.0,210.5 798.2,210.5 799.4,210.5 800.6,210.5 801.8,210.5 803.0,210.5 804.2,210.5 805.4,210.5 806.6,210.5 807.8,210.5 809.0,210.5 810.2,210.5 811.4,210.5 812.6,210.5 813.8,210.5 815.0,210.5 816.2,210.5 817.4,210.5 818.6,210.5 819.8,210.5 821.0,210.5 822.2,210.5 823.4,210.5 824.6,210.5 825.8,210.5 827.0,210.5 828.2,210.5 829.4,210.5 830.6,210.5 831.8,210.5 833.0,210.5 834.2,210.5 835.4,210.5 836.6,210.5 837.8,210.5 839.0,210.5 840.2,210.5 841.4,210.5 842.6,210.5 843.8,210.5 845.0,210.5 846.2,210.5 847.4,210.5 848.6,210.5 849.8,210.5 851.0,210.5 852.2,210.5 853.4,210.5 854.6,210.5 855.8,210.5 857.0,210.5 858.2,210.5 859.4,210.5 860.6,210.5 861.8,210.5 863.0,210.5 864.2,210.5 865.4,210.5 866.6,210.5 867.8,210.5 869.0,210.5" fill="none" stroke="#00ff00" stroke-width="5.20" stroke-linejoin="round" stroke-linecap="round"/>
</g>
<g clip-path="url(#ca)">
<polyline points="107.0,210.5 168.0,210.5 169.0,209.4 170.0,208.0 171.0,207.5 172.0,207.1 173.0,207.0 174.0,207.1 175.0,207.5 176.0,208.0 177.0,209.4 178.0,210.5 330.0,210.5 331.2,210.2 332.4,209.5 333.5,208.5 334.7,207.2 335.9,205.7 337.1,204.3 338.2,203.0 339.4,201.8 340.6,201.0 341.7,200.4 342.8,199.8 343.9,199.2 345.0,198.7 346.2,198.2 347.3,197.8 348.4,197.5 349.5,197.3 350.6,197.2 351.7,197.5 352.8,198.4 353.9,199.7 354.9,201.0 356.0,202.3 357.1,203.2 358.2,203.5 359.2,203.4 360.3,202.9 361.4,202.2 362.4,201.3 363.4,200.0 364.5,198.5 365.4,193.0 366.4,182.7 367.3,172.7 368.2,168.3 369.1,169.5 370.1,172.1 371.1,174.6 372.0,175.8 373.0,174.3 374.0,171.5 375.0,170.0 376.1,174.8 377.2,183.6 378.3,188.4 379.3,139.7 380.3,91.0 381.4,100.8 382.5,120.0 383.6,150.7 384.7,187.9 385.8,206.0 386.9,184.1 388.0,150.0 389.0,125.6 389.9,103.0 390.9,93.0 391.8,99.3 392.8,114.2 393.8,131.7 394.7,145.7 395.6,156.4 396.5,167.0 397.5,175.2 398.4,178.4 399.5,177.3 400.6,174.6 401.6,171.4 402.7,168.7 403.8,167.6 404.7,170.4 405.6,176.4 406.6,182.4 407.5,185.2 408.5,183.9 409.5,180.8 410.6,177.0 411.6,173.9 412.6,172.6 413.6,173.3 414.6,175.1 415.6,177.5 416.6,180.2 417.6,182.7 418.6,185.1 419.6,187.6 420.6,190.2 421.6,192.8 422.6,195.3 423.6,197.8 424.6,200.5 425.7,203.0 426.7,205.1 427.7,206.6 428.7,207.6 429.7,208.5 430.7,209.2 431.7,209.7 432.7,209.9 433.9,209.9 435.1,210.0 436.3,210.0 437.5,210.0 438.7,210.1 439.9,210.1 441.1,210.1 442.2,210.1 443.4,210.2 444.6,210.2 445.8,210.2 447.0,210.2 448.2,210.2 449.4,210.3 450.6,210.3 451.8,210.3 453.0,210.3 454.2,210.3 455.4,210.3 456.6,210.4 457.8,210.4 459.0,210.4 460.2,210.4 461.4,210.4 462.5,210.4 463.7,210.4 464.9,210.4 466.1,210.4 467.3,210.4 468.5,210.5 469.7,210.5 470.9,210.5 472.1,210.5 473.3,210.5 474.5,210.5 475.7,210.5 476.9,210.5 478.1,210.5 479.3,210.5 480.4,210.5 481.6,210.5 482.8,210.5 484.0,210.5 485.2,210.5 486.4,210.5 487.6,210.5 488.8,210.5 490.0,210.5 491.2,210.5 492.4,210.5 493.6,210.5 494.8,210.5 496.0,210.5 497.2,210.5 498.4,210.5 499.6,210.5 500.8,210.5 502.0,210.5 503.2,210.5 504.3,210.5 505.5,210.5 506.7,210.4 507.9,210.4 509.1,210.4 510.3,210.4 511.5,210.4 512.7,210.4 513.9,210.4 515.1,210.4 516.3,210.3 517.5,210.3 518.7,210.3 519.9,210.3 521.1,210.3 522.3,210.2 523.5,210.2 524.7,210.2 525.9,210.2 527.1,210.1 528.3,210.1 529.5,210.1 530.7,210.0 531.8,210.0 533.0,210.0 534.2,209.9 535.4,209.9 536.6,209.8 537.8,209.8 539.0,209.8 540.2,209.7 541.4,209.7 542.6,209.6 543.8,209.6 545.0,209.5 546.2,209.1 547.4,208.2 548.6,207.2 549.8,206.4 551.0,206.0 552.0,206.3 553.0,207.1 554.0,207.9 555.0,208.7 556.0,209.0 557.0,208.7 558.0,207.9 559.0,207.1 560.0,206.3 561.0,206.0 562.0,206.4 563.0,207.2 564.0,208.3 565.0,209.1 566.0,209.5 567.2,209.5 568.4,209.5 569.6,209.5 570.8,209.5 572.0,209.6 573.2,209.6 574.4,209.6 575.6,209.6 576.8,209.6 578.0,209.6 579.2,209.6 580.4,209.6 581.6,209.6 582.8,209.7 584.0,209.7 585.2,209.7 586.4,209.7 587.6,209.7 588.8,209.7 590.0,209.7 591.2,209.7 592.3,209.7 593.5,209.7 594.7,209.8 595.9,209.8 597.1,209.8 598.3,209.8 599.5,209.8 600.7,209.8 601.9,209.8 603.1,209.8 604.3,209.8 605.5,209.8 606.7,209.8 607.9,209.9 609.1,209.9 610.3,209.9 611.5,209.9 612.7,209.9 613.9,209.9 615.1,209.9 616.3,209.9 617.5,209.9 618.7,209.9 619.9,209.9 621.1,209.9 622.3,210.0 623.5,210.0 624.7,210.0 625.9,210.0 627.1,210.0 628.3,210.0 629.5,210.0 630.7,210.0 631.9,210.0 633.1,210.0 634.3,210.0 635.5,210.0 636.7,210.0 637.9,210.0 639.1,210.1 640.3,210.1 641.5,210.1 642.6,210.1 643.8,210.1 645.0,210.1 646.2,210.1 647.4,210.1 648.6,210.1 649.8,210.1 651.0,210.1 652.2,210.1 653.4,210.1 654.6,210.1 655.8,210.1 657.0,210.1 658.2,210.2 659.4,210.2 660.6,210.2 661.8,210.2 663.0,210.2 664.2,210.2 665.4,210.2 666.6,210.2 667.8,210.2 669.0,210.2 670.2,210.2 671.4,210.2 672.6,210.2 673.8,210.2 675.0,210.2 676.2,210.2 677.4,210.2 678.6,210.2 679.8,210.2 681.0,210.3 682.2,210.3 683.4,210.3 684.6,210.3 685.8,210.3 687.0,210.3 688.2,210.3 689.4,210.3 690.6,210.3 691.8,210.3 692.9,210.3 694.1,210.3 695.3,210.3 696.5,210.3 697.7,210.3 698.9,210.3 700.1,210.3 701.3,210.3 702.5,210.3 703.7,210.3 704.9,210.3 706.1,210.3 707.3,210.3 708.5,210.3 709.7,210.3 710.9,210.3 712.1,210.4 713.3,210.4 714.5,210.4 715.7,210.4 716.9,210.4 718.1,210.4 719.3,210.4 720.5,210.4 721.7,210.4 722.9,210.4 724.1,210.4 725.3,210.4 726.5,210.4 727.7,210.4 728.9,210.4 730.1,210.4 731.3,210.4 732.5,210.4 733.7,210.4 734.9,210.4 736.1,210.4 737.3,210.4 738.5,210.4 739.7,210.4 740.9,210.4 742.1,210.4 743.2,210.4 744.4,210.4 745.6,210.4 746.8,210.4 748.0,210.4 749.2,210.4 750.4,210.4 751.6,210.4 752.8,210.4 754.0,210.4 755.2,210.4 756.4,210.4 757.6,210.4 758.8,210.4 760.0,210.4 761.2,210.4 762.4,210.5 763.6,210.5 764.8,210.5 766.0,210.5 767.2,210.5 768.4,210.5 769.6,210.5 770.8,210.5 772.0,210.5 773.2,210.5 774.4,210.5 775.6,210.5 776.8,210.5 778.0,210.5 779.2,210.5 780.4,210.5 781.6,210.5 782.8,210.5 784.0,210.5 785.2,210.5 786.4,210.5 787.6,210.5 788.8,210.5 790.0,210.5 791.2,210.5 792.4,210.5 793.5,210.5 794.7,210.5 795.9,210.5 797.1,210.5 798.3,210.5 799.5,210.5 800.7,210.5 801.9,210.5 803.1,210.5 804.3,210.5 805.5,210.5 806.7,210.5 807.9,210.5 809.1,210.5 810.3,210.5 811.5,210.5 812.7,210.5 813.9,210.5 815.1,210.5 816.3,210.5 817.5,210.5 818.7,210.5 819.9,210.5 821.1,210.5 822.3,210.5 823.5,210.5 824.7,210.5 825.9,210.5 827.1,210.5 828.3,210.5 829.5,210.5 830.7,210.5 831.9,210.5 833.1,210.5 834.3,210.5 835.5,210.5 836.7,210.5 837.9,210.5 839.1,210.5 840.3,210.5 841.5,210.5 842.7,210.5 843.8,210.5 845.0,210.5 846.2,210.5 847.4,210.5 848.6,210.5 849.8,210.5 851.0,210.5 852.2,210.5 853.4,210.5 854.6,210.5 855.8,210.5 857.0,210.5 858.2,210.5 859.4,210.5 860.6,210.5 861.8,210.5 863.0,210.5 864.2,210.5 865.4,210.5 866.6,210.5 867.8,210.5 869.0,210.5" fill="none" stroke="#0000ff" stroke-width="5.20" stroke-linejoin="round" stroke-linecap="round"/>
</g>
<g clip-path="url(#ca)">
<polyline points="107.0,210.5 168.0,210.5 169.0,211.6 170.0,213.0 171.0,213.5 172.0,213.9 173.0,214.0 174.0,213.9 175.0,213.5 176.0,213.0 177.0,211.6 178.0,210.5 179.2,210.5 180.4,210.5 181.6,210.5 182.8,210.5 184.0,210.5 185.2,210.5 186.4,210.5 187.6,210.5 188.8,210.5 190.0,210.5 191.2,210.5 192.4,210.5 193.5,210.5 194.7,210.5 195.9,210.5 197.1,210.5 198.3,210.5 199.5,210.5 200.7,210.5 201.9,210.5 203.1,210.5 204.3,210.5 205.5,210.5 206.7,210.5 207.9,210.5 209.1,210.5 210.3,210.5 211.5,210.5 212.7,210.5 213.9,210.5 215.1,210.5 216.3,210.5 217.5,210.5 218.7,210.5 219.9,210.5 221.1,210.5 222.2,210.5 223.4,210.5 224.6,210.5 225.8,210.5 227.0,210.5 228.2,210.5 229.4,210.5 230.6,210.5 231.8,210.5 233.0,210.5 234.2,210.5 235.4,210.5 236.6,210.5 237.8,210.5 239.0,210.5 240.2,210.5 241.4,210.5 242.6,210.5 243.8,210.5 245.0,210.5 246.2,210.5 247.4,210.5 248.6,210.5 249.8,210.5 251.0,210.5 252.1,210.5 253.3,210.5 254.5,210.5 255.7,210.6 256.9,210.6 258.1,210.6 259.3,210.6 260.5,210.6 261.7,210.6 262.9,210.6 264.1,210.6 265.3,210.6 266.5,210.6 267.7,210.6 268.9,210.6 270.1,210.6 271.3,210.6 272.5,210.6 273.7,210.6 274.9,210.6 276.1,210.6 277.3,210.6 278.5,210.6 279.7,210.6 280.9,210.6 282.0,210.6 283.2,210.6 284.4,210.6 285.6,210.6 286.8,210.6 288.0,210.6 289.2,210.6 290.4,210.6 291.6,210.6 292.8,210.6 294.0,210.7 295.2,210.7 296.4,210.7 297.6,210.7 298.8,210.7 300.0,210.7 301.2,210.7 302.4,210.7 303.6,210.7 304.8,210.7 306.0,210.7 307.2,210.7 308.4,210.7 309.6,210.7 310.8,210.7 311.9,210.7 313.1,210.7 314.3,210.7 315.5,210.7 316.7,210.8 317.9,210.8 319.1,210.8 320.3,210.8 321.5,210.8 322.7,210.8 323.9,210.8 325.1,210.8 326.3,210.8 327.5,210.8 328.7,210.8 329.9,210.8 331.1,210.8 332.3,210.8 333.5,210.8 334.7,210.9 335.9,210.9 337.1,210.9 338.3,210.9 339.5,210.9 340.6,210.9 341.8,210.9 343.0,210.9 344.2,210.9 345.4,210.9 346.6,210.9 347.8,210.9 349.0,211.0 350.2,211.0 351.4,211.0 352.6,211.0 353.8,211.0 355.0,211.0 356.2,211.4 357.3,212.3 358.5,213.5 359.7,214.9 360.9,216.1 362.0,217.0 363.2,217.4 364.3,217.1 365.5,216.3 366.6,215.3 367.7,214.3 368.9,213.4 370.0,213.0 371.2,212.8 372.4,212.7 373.6,212.5 374.8,212.4 376.0,212.2 377.2,212.1 378.4,212.0 379.6,211.9 380.8,211.8 382.0,211.7 383.2,211.6 384.4,211.5 385.6,211.4 386.8,211.3 388.0,211.3 389.2,211.2 390.4,211.2 391.6,211.1 392.8,211.1 394.0,211.1 395.2,211.0 396.4,211.0 397.6,211.0 398.8,211.0 400.0,211.0 401.1,211.0 402.3,211.1 403.4,211.3 404.6,211.6 405.7,211.9 406.9,212.3 408.0,212.8 409.2,213.3 410.3,214.0 411.5,214.6 412.6,215.4 413.6,216.6 414.6,218.7 415.6,221.5 416.6,224.7 417.6,228.0 418.6,232.5 419.5,238.4 420.4,243.4 421.4,245.6 422.2,243.5 423.1,239.1 423.9,235.5 424.7,233.2 425.6,231.3 426.4,230.5 427.3,233.0 428.3,239.3 429.2,247.5 430.2,255.7 431.1,265.8 432.1,278.3 433.1,288.9 434.0,293.4 434.9,292.3 435.9,289.3 436.8,285.2 437.7,280.8 438.6,274.4 439.6,265.8 440.6,257.1 441.5,250.6 442.5,245.6 443.5,240.8 444.5,236.8 445.5,234.0 446.5,233.0 447.5,233.1 448.5,233.4 449.6,234.0 450.6,234.7 451.6,235.5 452.5,237.9 453.5,242.2 454.4,246.2 455.3,248.0 456.2,247.8 457.2,247.3 458.2,246.6 459.1,245.6 460.1,242.4 461.0,236.2 461.9,229.1 462.9,223.0 463.7,218.2 464.6,213.7 465.4,211.6 466.5,211.5 467.7,211.4 468.8,211.2 470.0,211.1 471.1,211.1 472.3,211.0 473.4,210.9 474.6,210.8 475.7,210.8 476.9,210.7 478.0,210.7 479.1,210.6 480.3,210.6 481.4,210.6 482.6,210.6 483.7,210.5 484.9,210.5 486.0,210.5 487.2,210.5 488.3,210.5 489.5,210.5 490.6,210.5 491.6,210.8 492.6,211.6 493.6,212.7 494.6,214.0 495.6,215.4 496.6,216.9 497.6,218.8 498.6,221.0 499.6,223.2 500.6,225.5 501.6,227.8 502.6,230.3 503.7,232.9 504.7,235.4 505.7,238.0 506.7,240.7 507.7,243.7 508.7,246.6 509.7,249.0 510.7,250.6 511.6,251.5 512.6,252.3 513.5,252.9 514.5,253.1 515.7,250.8 516.9,245.0 517.8,229.3 518.7,215.4 519.8,213.6 520.9,212.4 521.9,211.7 523.0,211.5 524.1,211.5 525.2,211.6 526.3,211.7 527.4,211.9 528.6,212.1 529.7,212.3 530.8,212.5 531.9,212.7 533.0,213.0 534.1,213.4 535.3,214.0 536.4,214.7 537.5,215.4 538.6,216.1 539.8,216.5 540.9,216.7 542.0,216.5 543.0,216.1 544.1,215.5 545.2,214.8 546.3,214.1 547.3,213.4 548.4,212.9 549.5,212.5 550.6,212.0 551.7,211.5 552.7,211.1 553.8,210.8 554.9,210.6 556.0,210.5 869.0,210.5" fill="none" stroke="#0000ff" stroke-width="5.20" stroke-linejoin="round" stroke-linecap="round"/>
</g>
<g clip-path="url(#cb)">
<polyline points="108.0,541.0 283.0,541.0 284.1,540.4 285.2,539.0 286.3,537.7 287.3,536.8 288.3,535.8 289.3,534.9 290.3,534.2 291.3,534.0 292.4,534.2 293.5,534.7 294.6,535.5 295.6,536.2 296.7,537.0 297.8,537.5 298.9,537.7 300.0,537.7 301.1,537.7 302.2,537.7 303.3,537.7 304.4,537.6 305.6,537.6 306.7,537.6 307.8,537.6 308.9,537.5 310.0,537.5 311.2,537.4 312.4,537.3 313.6,537.1 314.7,536.9 315.9,536.6 317.1,536.3 318.3,536.0 319.5,535.7 320.7,535.3 321.8,534.9 323.0,534.5 324.2,534.1 325.4,533.7 326.5,533.3 327.6,532.8 328.7,532.2 329.8,531.6 330.9,531.0 332.0,530.4 333.1,529.9 334.2,529.3 335.3,528.9 336.4,528.5 337.4,528.1 338.5,527.7 339.5,527.3 340.6,527.1 341.6,527.0 342.7,527.0 343.8,527.1 344.9,527.2 346.0,527.4 347.1,527.6 348.2,527.8 349.3,528.0 350.4,528.3 351.4,528.6 352.4,529.1 353.5,529.6 354.5,530.2 355.5,530.8 356.5,531.6 357.5,532.6 358.5,533.5 359.5,534.3 360.5,534.6 361.5,533.9 362.6,531.9 363.6,529.0 364.7,525.3 365.7,521.1 366.6,513.6 367.5,502.2 368.5,491.7 369.4,487.1 370.3,488.2 371.3,490.7 372.2,493.7 373.2,496.0 374.1,497.5 375.1,498.9 376.1,500.1 377.0,501.0 377.9,501.6 378.9,502.1 379.9,502.6 380.8,503.5 381.6,506.2 382.5,511.0 383.3,516.0 384.1,522.0 385.0,528.3 385.8,531.2 386.6,526.2 387.5,515.5 388.3,506.0 389.2,497.7 390.2,489.5 391.2,483.3 392.1,480.8 393.0,482.3 394.0,486.1 394.9,491.0 395.8,496.0 396.8,502.6 397.7,511.0 398.7,518.1 399.6,521.1 400.6,520.0 401.5,516.8 402.4,512.1 403.4,506.0 404.4,490.6 405.5,468.0 406.5,444.3 407.5,420.0 408.5,399.1 409.5,380.0 410.6,357.7 411.6,345.0 412.3,367.5 413.0,390.0 414.2,345.0 415.3,345.0 416.4,345.0 417.1,360.6 417.8,385.0 418.6,405.0 419.3,418.0 420.1,421.6 421.0,424.0 421.8,426.4 422.7,428.7 423.5,432.0 424.3,438.6 425.2,448.3 426.0,458.2 426.9,469.0 427.9,480.3 428.9,491.3 429.8,501.0 430.8,510.1 431.7,519.0 432.7,526.5 433.6,531.2 434.7,534.6 435.9,537.0 437.0,538.0 438.0,536.6 439.0,533.4 440.0,530.0 441.0,526.5 442.0,522.5 443.0,518.5 444.0,515.0 445.0,511.8 445.9,508.5 446.9,505.5 447.8,503.4 448.8,502.6 449.9,503.7 450.9,506.5 452.0,510.2 453.0,513.8 454.1,516.6 455.1,517.7 456.2,517.3 457.2,516.2 458.3,514.7 459.4,513.2 460.5,511.7 461.5,510.6 462.6,510.2 463.7,510.6 464.8,511.8 465.9,513.4 466.9,515.2 468.0,517.2 469.1,518.9 470.2,520.3 471.3,521.3 472.3,522.1 473.4,522.9 474.5,523.7 475.6,524.5 476.6,525.4 477.7,526.5 478.7,528.0 479.7,529.9 480.8,531.9 481.8,533.8 482.8,535.3 483.8,536.5 484.9,537.7 485.9,538.7 486.9,539.6 488.0,540.2 489.0,540.4 490.1,539.8 491.1,538.2 492.1,536.1 493.2,534.0 494.2,532.4 495.3,531.6 496.5,531.4 497.7,531.3 498.9,531.2 500.1,531.1 501.2,531.0 502.4,530.9 503.6,530.9 504.8,530.8 506.0,530.8 507.2,530.7 508.4,530.7 509.6,530.6 510.7,530.6 511.9,530.5 513.1,530.5 514.3,530.4 515.5,530.3 516.6,530.2 517.7,530.0 518.8,529.9 519.9,529.7 521.1,529.5 522.2,529.3 523.3,529.2 524.4,529.1 525.5,529.1 526.6,529.2 527.7,529.4 528.9,529.7 530.0,530.1 531.1,530.6 532.2,531.0 533.4,531.3 534.5,531.5 535.6,531.6 536.7,531.6 537.8,531.5 539.0,531.5 540.1,531.4 541.2,531.2 542.3,531.0 543.5,530.8 544.6,530.6 545.7,530.3 546.7,529.0 547.7,526.1 548.7,522.8 549.7,520.1 550.7,519.0 551.7,520.8 552.6,524.7 553.5,528.5 554.5,530.3 555.5,530.1 556.6,529.7 557.6,529.0 558.7,528.4 559.8,528.0 560.8,527.8 561.8,528.3 562.8,529.5 563.8,530.9 564.8,532.2 565.8,532.8 567.0,533.0 568.1,533.2 569.3,533.3 570.4,533.4 571.6,533.5 572.8,533.6 573.9,533.7 575.1,533.8 576.3,533.8 577.4,533.9 578.6,533.9 579.7,534.0 580.9,534.1 582.1,534.2 583.3,534.3 584.5,534.4 585.6,534.5 586.8,534.6 588.0,534.7 589.2,534.8 590.4,534.9 591.6,535.0 592.7,535.1 593.9,535.2 595.1,535.3 596.3,535.4 597.5,535.5 598.7,535.6 599.9,535.7 601.0,535.8 602.2,535.9 603.4,536.0 604.6,536.1 605.8,536.2 607.0,536.2 608.2,536.3 609.3,536.4 610.5,536.4 611.7,536.5 612.9,536.6 614.1,536.6 615.3,536.6 616.4,536.7 617.6,536.7 618.8,536.7 620.0,536.7 650.0,536.7 651.1,536.8 652.2,537.0 653.3,537.3 654.4,537.6 655.6,538.0 656.7,538.3 657.8,538.6 658.9,538.9 660.0,539.0 661.2,539.1 662.4,539.1 663.5,539.2 664.7,539.2 665.9,539.3 667.1,539.3 668.2,539.4 669.4,539.4 670.6,539.5 671.8,539.5 672.9,539.5 674.1,539.6 675.3,539.6 676.5,539.6 677.6,539.7 678.8,539.7 680.0,539.7 681.2,539.7 682.4,539.8 683.5,539.8 684.7,539.8 685.9,539.8 687.1,539.8 688.2,539.9 689.4,539.9 690.6,539.9 691.8,539.9 692.9,539.9 694.1,539.9 695.3,539.9 696.5,540.0 697.6,540.0 698.8,540.0 700.0,540.0 701.2,540.0 702.4,540.0 703.6,540.0 704.8,540.1 706.0,540.1 707.2,540.1 708.4,540.1 709.6,540.1 710.8,540.1 712.0,540.1 713.2,540.1 714.4,540.2 715.6,540.2 716.8,540.2 718.0,540.2 719.2,540.2 720.4,540.2 721.6,540.2 722.8,540.2 724.0,540.2 725.2,540.3 726.4,540.3 727.6,540.3 728.8,540.3 730.0,540.3 731.2,540.3 732.4,540.3 733.6,540.3 734.8,540.3 736.0,540.4 737.2,540.4 738.4,540.4 739.6,540.4 740.8,540.4 742.0,540.4 743.1,540.4 744.3,540.4 745.5,540.4 746.7,540.5 747.9,540.5 749.1,540.5 750.3,540.5 751.5,540.5 752.7,540.5 753.9,540.5 755.1,540.5 756.3,540.5 757.5,540.5 758.7,540.6 759.9,540.6 761.1,540.6 762.3,540.6 763.5,540.6 764.7,540.6 765.9,540.6 767.1,540.6 768.3,540.6 769.5,540.6 770.7,540.6 771.9,540.6 773.1,540.7 774.3,540.7 775.5,540.7 776.7,540.7 777.9,540.7 779.1,540.7 780.3,540.7 781.5,540.7 782.7,540.7 783.9,540.7 785.1,540.7 786.3,540.7 787.5,540.7 788.7,540.8 789.9,540.8 791.1,540.8 792.3,540.8 793.5,540.8 794.7,540.8 795.9,540.8 797.1,540.8 798.3,540.8 799.5,540.8 800.7,540.8 801.9,540.8 803.1,540.8 804.3,540.8 805.5,540.8 806.7,540.9 807.9,540.9 809.1,540.9 810.3,540.9 811.5,540.9 812.7,540.9 813.9,540.9 815.1,540.9 816.3,540.9 817.5,540.9 818.7,540.9 819.9,540.9 821.1,540.9 822.3,540.9 823.5,540.9 824.7,540.9 825.9,540.9 827.0,540.9 828.2,540.9 829.4,540.9 830.6,540.9 831.8,540.9 833.0,540.9 834.2,541.0 835.4,541.0 836.6,541.0 837.8,541.0 839.0,541.0 840.2,541.0 841.4,541.0 842.6,541.0 843.8,541.0 845.0,541.0 846.2,541.0 847.4,541.0 848.6,541.0 849.8,541.0 851.0,541.0 852.2,541.0 853.4,541.0 854.6,541.0 855.8,541.0 857.0,541.0 858.2,541.0 859.4,541.0 860.6,541.0 861.8,541.0 863.0,541.0 864.2,541.0 865.4,541.0 866.6,541.0 867.8,541.0 869.0,541.0" fill="none" stroke="#ff0000" stroke-width="5.20" stroke-linejoin="round" stroke-linecap="round"/>
</g>
<g clip-path="url(#cb)">
<polyline points="108.0,541.0 290.0,541.0 291.0,541.2 292.0,541.6 293.1,542.2 294.1,542.8 295.1,543.4 296.2,544.0 297.2,544.7 298.2,545.3 299.3,545.9 300.3,546.3 301.4,546.5 302.5,546.3 303.5,546.0 304.6,545.4 305.7,544.8 306.8,544.1 307.9,543.5 308.9,543.2 310.0,543.0 311.2,543.0 312.4,543.0 313.6,543.0 314.8,543.0 316.0,543.0 317.2,543.0 318.4,543.0 319.6,543.0 320.8,543.1 322.0,543.1 323.2,543.1 324.4,543.1 325.6,543.1 326.8,543.1 328.0,543.2 329.2,543.2 330.4,543.2 331.6,543.2 332.8,543.3 334.0,543.3 335.2,543.3 336.4,543.4 337.6,543.4 338.8,543.5 340.0,543.5 341.1,543.6 342.3,543.9 343.4,544.2 344.5,544.5 345.6,544.8 346.8,545.1 347.9,545.3 349.0,545.4 350.1,545.5 351.2,545.5 352.3,545.6 353.4,545.6 354.5,545.6 355.6,545.7 356.7,545.7 357.8,545.8 358.9,545.9 360.0,546.0 361.1,546.4 362.2,547.1 363.3,548.0 364.4,548.7 365.5,549.0 366.6,548.8 367.7,548.4 368.8,547.8 369.8,547.3 370.9,546.8 372.0,546.5 373.2,546.4 374.4,546.3 375.5,546.2 376.7,546.1 377.9,546.0 379.1,546.0 380.2,545.9 381.4,545.9 382.6,545.8 383.8,545.8 385.0,545.8 386.1,545.7 387.3,545.7 388.5,545.6 389.7,545.6 390.8,545.5 392.0,545.4 393.2,545.3 394.4,545.1 395.6,544.9 396.7,544.6 397.9,544.3 399.1,544.0 400.3,543.7 401.5,543.4 402.6,543.2 403.8,543.1 405.0,543.0 406.1,543.1 407.2,543.3 408.2,543.8 409.3,544.3 410.4,544.9 411.5,545.7 412.6,546.4 413.6,547.3 414.7,548.1 415.8,549.0 416.9,550.3 418.1,552.1 419.2,554.0 420.4,555.4 421.5,556.0 422.5,555.5 423.5,554.5 424.5,553.1 425.5,552.1 426.5,551.6 427.6,552.9 428.6,556.3 429.6,560.7 430.7,565.1 431.8,568.5 432.8,569.8 433.9,568.6 435.1,565.6 436.2,561.8 437.4,558.0 438.5,555.3 439.5,553.6 440.5,551.9 441.5,550.4 442.5,549.4 443.5,549.0 444.6,549.0 445.7,549.1 446.8,549.1 447.8,549.2 448.9,549.4 450.0,549.5 451.1,550.0 452.1,550.9 453.2,552.0 454.3,553.0 455.3,553.9 456.4,554.2 457.5,553.7 458.6,552.3 459.8,550.6 460.9,549.1 462.0,548.0 463.1,547.4 464.3,546.9 465.4,546.4 466.6,546.0 467.7,545.7 468.9,545.3 470.0,545.0 471.2,544.7 472.4,544.3 473.6,544.0 474.8,543.6 475.9,543.3 477.1,543.0 478.3,542.6 479.5,542.3 480.7,542.1 481.9,541.8 483.1,541.6 484.2,541.4 485.4,541.2 486.6,541.1 487.8,541.0 489.0,541.0 490.0,541.5 491.0,542.8 492.1,544.8 493.1,547.3 494.1,550.4 495.1,556.8 496.0,567.3 496.9,578.3 497.9,585.7 498.9,589.5 499.9,592.2 500.9,594.5 501.9,597.1 502.9,600.8 503.8,606.4 504.8,614.0 505.8,622.5 506.7,631.0 507.5,640.0 508.4,649.3 509.2,653.6 510.1,651.6 511.1,647.3 512.0,643.0 513.0,641.0 513.8,649.8 514.7,666.2 515.5,675.0 516.3,668.1 517.2,651.4 518.0,631.0 519.0,589.1 520.0,555.5 521.0,548.7 522.0,544.5 523.0,543.0 524.1,543.4 525.2,544.6 526.3,546.3 527.3,548.4 528.4,550.8 529.5,553.2 530.6,555.5 531.7,557.9 532.7,560.6 533.8,563.5 534.9,566.5 536.0,569.6 537.0,572.7 538.1,575.6 539.2,578.8 540.3,582.5 541.4,586.3 542.4,589.9 543.5,592.9 544.6,594.9 545.7,595.7 546.8,594.7 547.8,592.2 548.9,588.5 549.9,584.1 551.0,579.7 552.0,575.6 553.0,571.2 554.0,566.0 555.0,560.9 556.0,557.0 557.0,555.5 558.0,555.7 559.0,556.3 560.0,557.1 561.0,558.0 562.2,560.6 563.4,564.9 564.6,568.9 565.8,570.6 566.8,568.9 567.9,565.3 569.0,561.7 570.0,560.0 571.2,565.9 572.3,580.1 573.5,597.0 574.6,611.2 575.8,617.1 576.8,611.6 577.7,599.3 578.6,586.8 579.6,580.6 580.6,579.7 581.6,579.0 582.7,578.5 583.7,578.2 584.7,578.1 585.8,578.7 586.8,580.4 587.9,582.8 588.9,585.6 590.0,588.3 591.0,590.7 592.0,593.0 593.0,595.7 594.0,598.2 595.0,600.1 596.0,600.8 597.0,599.2 598.0,595.2 599.0,590.0 600.0,584.8 601.0,580.6 602.1,577.1 603.2,573.7 604.3,570.4 605.3,567.4 606.4,564.7 607.5,562.3 608.6,560.5 609.7,558.9 610.7,557.4 611.8,556.0 612.9,554.8 614.0,553.9 615.0,553.2 616.1,553.0 617.3,553.3 618.5,554.2 619.6,555.4 620.8,556.8 622.0,558.0 623.0,559.1 624.1,560.5 625.1,562.0 626.1,563.4 627.1,564.6 628.2,565.4 629.2,565.7 630.2,563.7 631.1,559.3 632.0,555.0 633.0,553.0 634.2,553.0 635.3,553.0 636.5,553.0 637.7,553.1 638.9,553.1 640.0,553.2 641.2,553.2 642.4,553.3 643.6,553.4 644.7,553.4 645.9,553.5 647.1,553.6 648.3,553.8 649.4,553.9 650.6,554.0 651.7,554.3 652.9,555.0 654.0,555.9 655.2,556.9 656.3,557.9 657.4,558.8 658.6,559.4 659.7,559.6 660.8,559.2 661.8,558.1 662.9,556.8 663.9,555.5 665.0,554.4 666.0,554.0 667.1,554.2 668.1,554.8 669.2,555.6 670.3,556.4 671.4,557.2 672.4,557.8 673.5,558.0 674.6,557.6 675.8,556.6 676.9,555.3 678.0,554.0 679.0,552.9 680.1,551.6 681.1,550.3 682.1,549.1 683.2,547.9 684.2,547.0 685.4,546.1 686.5,545.2 687.6,544.4 688.8,543.6 690.0,543.0 691.1,542.5 692.2,542.1 693.4,542.0 694.6,542.0 695.7,542.1 696.9,542.2 698.0,542.3 699.2,542.4 700.4,542.6 701.5,542.8 702.7,543.0 703.9,543.2 705.0,543.4 706.2,543.7 707.3,543.9 708.5,544.1 709.7,544.3 710.8,544.5 712.0,544.7 713.2,544.8 714.3,544.9 715.5,545.0 716.6,545.1 717.8,545.1 742.3,545.1 743.5,545.1 744.7,545.1 745.8,545.1 747.0,545.1 748.2,545.1 749.4,545.1 750.5,545.0 751.7,545.0 752.9,545.0 754.1,545.0 755.3,545.0 756.4,545.0 757.6,544.9 758.8,544.9 760.0,544.9 761.1,544.9 762.3,544.8 763.5,544.8 764.7,544.8 765.9,544.8 767.0,544.7 768.2,544.7 769.4,544.7 770.6,544.6 771.7,544.6 772.9,544.6 774.1,544.5 775.3,544.5 776.4,544.5 777.6,544.5 778.8,544.4 780.0,544.4 781.2,544.4 782.3,544.3 783.5,544.3 784.7,544.3 785.9,544.3 787.0,544.2 788.2,544.2 789.4,544.2 790.6,544.1 791.8,544.1 792.9,544.1 794.1,544.1 795.3,544.1 796.5,544.0 797.6,544.0 798.8,544.0 800.0,544.0 801.2,544.0 802.4,544.0 803.6,544.0 804.8,543.9 805.9,543.9 807.1,543.9 808.3,543.9 809.5,543.9 810.7,543.9 811.9,543.9 813.1,543.9 814.3,543.9 815.5,543.8 816.7,543.8 817.8,543.8 819.0,543.8 820.2,543.8 821.4,543.8 822.6,543.8 823.8,543.8 825.0,543.7 826.2,543.7 827.4,543.7 828.6,543.7 829.7,543.7 830.9,543.7 832.1,543.7 833.3,543.7 834.5,543.7 835.7,543.7 836.9,543.6 838.1,543.6 839.3,543.6 840.4,543.6 841.6,543.6 842.8,543.6 844.0,543.6 845.2,543.6 846.4,543.6 847.6,543.6 848.8,543.6 850.0,543.6 851.2,543.6 852.3,543.5 853.5,543.5 854.7,543.5 855.9,543.5 857.1,543.5 858.3,543.5 859.5,543.5 860.7,543.5 861.9,543.5 863.1,543.5 864.2,543.5 865.4,543.5 866.6,543.5 867.8,543.5 869.0,543.5" fill="none" stroke="#ff0000" stroke-width="5.20" stroke-linejoin="round" stroke-linecap="round"/>
</g>
<g clip-path="url(#cb)">
<polyline points="108.0,541.0 283.0,541.0 284.2,541.0 285.4,541.0 286.6,540.9 287.8,540.9 289.0,540.8 290.2,540.7 291.4,540.6 292.6,540.5 293.8,540.4 295.0,540.4 296.2,540.3 297.4,540.2 298.6,540.1 299.8,540.1 301.0,540.0 302.2,540.0 303.4,539.9 304.5,539.9 305.7,539.8 306.9,539.8 308.1,539.8 309.3,539.8 310.5,539.7 311.6,539.7 312.8,539.7 314.0,539.7 315.2,539.6 316.4,539.6 317.5,539.6 318.7,539.6 319.9,539.6 321.1,539.5 322.3,539.5 323.5,539.5 324.6,539.5 325.8,539.5 327.0,539.4 328.2,539.4 329.4,539.4 330.5,539.3 331.7,539.3 332.9,539.3 334.1,539.2 335.3,539.2 336.5,539.2 337.6,539.1 338.8,539.1 340.0,539.0 341.2,538.9 342.4,538.9 343.6,538.8 344.8,538.7 346.0,538.6 347.2,538.5 348.4,538.3 349.6,538.2 350.8,538.0 352.0,537.9 353.2,537.7 354.4,537.5 355.6,537.2 356.8,537.0 358.0,536.7 359.2,536.4 360.4,536.1 361.6,535.8 362.8,535.4 364.0,535.0 365.0,534.5 366.0,533.8 367.0,532.8 368.0,531.4 368.9,527.4 369.8,521.6 370.7,518.6 371.5,519.1 372.3,520.3 373.1,521.4 374.1,522.5 375.0,523.5 376.0,524.0 377.1,523.6 378.3,522.7 379.5,521.8 380.6,521.4 381.7,523.3 382.9,527.3 384.0,531.0 385.1,533.9 386.1,537.0 387.1,539.3 388.2,540.3 389.3,540.3 390.5,540.1 391.6,539.9 392.8,539.6 393.9,539.2 395.1,538.7 396.2,538.2 397.4,537.6 398.5,536.9 399.7,536.1 400.8,535.2 401.9,533.7 402.9,531.3 403.9,528.3 405.0,525.0 406.1,520.7 407.3,515.7 408.4,511.0 409.2,508.2 410.0,505.6 410.8,503.0 411.7,499.6 412.6,496.2 413.5,494.7 414.2,495.9 415.0,498.0 416.2,501.4 417.3,505.1 418.5,508.5 419.5,510.8 420.5,512.9 421.4,514.9 422.4,516.8 423.4,518.9 424.4,521.2 425.4,523.7 426.4,526.1 427.4,528.4 428.4,530.2 429.4,531.9 430.5,533.6 431.5,535.2 432.6,536.5 433.6,537.4 434.7,537.7 435.7,536.8 436.7,534.4 437.7,531.2 438.7,527.9 439.7,525.2 440.7,523.0 441.7,521.0 442.8,519.1 443.8,517.2 444.8,515.1 445.8,512.5 446.9,509.4 447.9,506.5 449.0,504.4 450.0,503.5 451.0,505.0 452.0,508.6 453.1,512.9 454.1,516.5 455.1,518.0 456.2,517.7 457.2,516.9 458.3,515.9 459.4,514.8 460.5,513.8 461.5,513.0 462.6,512.7 463.7,513.1 464.8,514.1 465.9,515.6 466.9,517.3 468.0,519.1 469.1,520.7 470.2,522.0 471.3,523.0 472.3,523.8 473.4,524.5 474.5,525.3 475.6,526.1 476.6,527.0 477.7,528.0 478.8,529.4 479.8,531.1 480.9,533.0 481.9,534.7 483.0,536.0 484.2,537.2 485.4,538.4 486.6,539.4 487.8,540.1 489.0,540.4 490.1,540.2 491.2,539.7 492.3,538.9 493.4,538.0 494.6,537.1 495.7,536.3 496.8,535.6 497.9,535.3 499.0,535.1 500.2,535.0 501.3,534.8 502.5,534.7 503.6,534.6 504.7,534.5 505.9,534.4 507.0,534.3 508.2,534.2 509.3,534.2 510.4,534.1 511.6,534.1 512.7,534.0 513.9,534.0 515.0,534.0 516.2,534.0 517.4,534.0 518.6,534.1 519.8,534.1 521.0,534.2 522.2,534.2 523.4,534.3 524.6,534.4 525.8,534.5 527.0,534.5 528.2,534.6 529.4,534.7 530.6,534.8 531.8,535.0 533.0,535.1 534.2,535.2 535.4,535.3 536.6,535.4 537.8,535.5 539.0,535.6 540.2,535.7 541.4,535.8 542.6,535.9 543.8,535.9 545.0,536.0 546.2,536.1 547.4,536.1 548.6,536.2 549.8,536.3 551.0,536.3 552.2,536.4 553.4,536.5 554.6,536.5 555.8,536.6 557.0,536.7 558.2,536.7 559.3,536.8 560.5,536.9 561.7,536.9 562.9,537.0 564.1,537.1 565.3,537.1 566.5,537.2 567.7,537.3 568.9,537.3 570.1,537.4 571.3,537.4 572.5,537.5 573.7,537.6 574.9,537.6 576.1,537.7 577.3,537.7 578.5,537.8 579.7,537.8 580.9,537.9 582.1,537.9 583.3,538.0 584.5,538.0 585.7,538.1 586.8,538.1 588.0,538.2 589.2,538.2 590.4,538.3 591.6,538.3 592.8,538.3 594.0,538.4 595.2,538.4 596.4,538.4 597.6,538.5 598.8,538.5 600.0,538.5 601.2,538.5 602.4,538.5 603.6,538.6 604.8,538.6 606.0,538.6 607.2,538.6 608.4,538.6 609.6,538.7 610.8,538.7 612.0,538.7 613.2,538.7 614.3,538.8 615.5,538.8 616.7,538.8 617.9,538.8 619.1,538.8 620.3,538.9 621.5,538.9 622.7,538.9 623.9,538.9 625.1,538.9 626.3,539.0 627.5,539.0 628.7,539.0 629.9,539.0 631.1,539.0 632.3,539.1 633.5,539.1 634.7,539.1 635.9,539.1 637.1,539.1 638.3,539.1 639.5,539.2 640.6,539.2 641.8,539.2 643.0,539.2 644.2,539.2 645.4,539.3 646.6,539.3 647.8,539.3 649.0,539.3 650.2,539.3 651.4,539.3 652.6,539.4 653.8,539.4 655.0,539.4 656.2,539.4 657.4,539.4 658.6,539.5 659.8,539.5 661.0,539.5 662.2,539.5 663.4,539.5 664.6,539.5 665.8,539.6 667.0,539.6 668.1,539.6 669.3,539.6 670.5,539.6 671.7,539.6 672.9,539.7 674.1,539.7 675.3,539.7 676.5,539.7 677.7,539.7 678.9,539.7 680.1,539.7 681.3,539.8 682.5,539.8 683.7,539.8 684.9,539.8 686.1,539.8 687.3,539.8 688.5,539.9 689.7,539.9 690.9,539.9 692.1,539.9 693.3,539.9 694.4,539.9 695.6,539.9 696.8,540.0 698.0,540.0 699.2,540.0 700.4,540.0 701.6,540.0 702.8,540.0 704.0,540.0 705.2,540.1 706.4,540.1 707.6,540.1 708.8,540.1 710.0,540.1 711.2,540.1 712.4,540.1 713.6,540.1 714.8,540.2 716.0,540.2 717.2,540.2 718.4,540.2 719.6,540.2 720.8,540.2 721.9,540.2 723.1,540.2 724.3,540.3 725.5,540.3 726.7,540.3 727.9,540.3 729.1,540.3 730.3,540.3 731.5,540.3 732.7,540.3 733.9,540.4 735.1,540.4 736.3,540.4 737.5,540.4 738.7,540.4 739.9,540.4 741.1,540.4 742.3,540.4 743.5,540.4 744.7,540.4 745.9,540.5 747.1,540.5 748.2,540.5 749.4,540.5 750.6,540.5 751.8,540.5 753.0,540.5 754.2,540.5 755.4,540.5 756.6,540.5 757.8,540.6 759.0,540.6 760.2,540.6 761.4,540.6 762.6,540.6 763.8,540.6 765.0,540.6 766.2,540.6 767.4,540.6 768.6,540.6 769.8,540.6 771.0,540.7 772.2,540.7 773.4,540.7 774.6,540.7 775.7,540.7 776.9,540.7 778.1,540.7 779.3,540.7 780.5,540.7 781.7,540.7 782.9,540.7 784.1,540.7 785.3,540.7 786.5,540.8 787.7,540.8 788.9,540.8 790.1,540.8 791.3,540.8 792.5,540.8 793.7,540.8 794.9,540.8 796.1,540.8 797.3,540.8 798.5,540.8 799.7,540.8 800.9,540.8 802.0,540.8 803.2,540.8 804.4,540.8 805.6,540.9 806.8,540.9 808.0,540.9 809.2,540.9 810.4,540.9 811.6,540.9 812.8,540.9 814.0,540.9 815.2,540.9 816.4,540.9 817.6,540.9 818.8,540.9 820.0,540.9 821.2,540.9 822.4,540.9 823.6,540.9 824.8,540.9 826.0,540.9 827.2,540.9 828.4,540.9 829.5,540.9 830.7,540.9 831.9,541.0 833.1,541.0 834.3,541.0 835.5,541.0 836.7,541.0 837.9,541.0 839.1,541.0 840.3,541.0 841.5,541.0 842.7,541.0 843.9,541.0 845.1,541.0 846.3,541.0 847.5,541.0 848.7,541.0 849.9,541.0 851.1,541.0 852.3,541.0 853.5,541.0 854.7,541.0 855.8,541.0 857.0,541.0 858.2,541.0 859.4,541.0 860.6,541.0 861.8,541.0 863.0,541.0 864.2,541.0 865.4,541.0 866.6,541.0 867.8,541.0 869.0,541.0" fill="none" stroke="#00ff00" stroke-width="5.20" stroke-linejoin="round" stroke-linecap="round"/>
</g>
<g clip-path="url(#cb)">
<polyline points="108.0,541.0 109.2,541.0 110.4,541.0 111.6,541.0 112.8,541.0 114.0,541.0 115.2,541.0 116.4,541.0 117.6,541.0 118.8,541.0 120.0,541.0 121.2,541.0 122.4,541.0 123.6,541.0 124.8,541.0 126.0,541.0 127.2,541.0 128.4,541.0 129.6,541.0 130.8,541.0 132.0,541.0 133.2,541.0 134.4,541.0 135.6,541.0 136.8,541.0 138.0,541.0 139.2,541.0 140.4,541.0 141.6,541.0 142.8,541.0 144.0,541.0 145.2,541.0 146.4,541.0 147.6,541.0 148.8,541.0 150.0,541.0 151.2,541.0 152.4,541.0 153.6,541.0 154.8,541.0 155.9,541.1 157.1,541.1 158.3,541.1 159.5,541.1 160.7,541.1 161.9,541.1 163.1,541.1 164.3,541.1 165.5,541.1 166.7,541.1 167.9,541.1 169.1,541.1 170.3,541.1 171.5,541.1 172.7,541.1 173.9,541.1 175.1,541.1 176.3,541.1 177.5,541.1 178.7,541.1 179.9,541.1 181.1,541.2 182.3,541.2 183.5,541.2 184.7,541.2 185.9,541.2 187.1,541.2 188.3,541.2 189.5,541.2 190.7,541.2 191.9,541.2 193.1,541.2 194.3,541.2 195.5,541.2 196.7,541.3 197.9,541.3 199.1,541.3 200.3,541.3 201.5,541.3 202.7,541.3 203.9,541.3 205.1,541.3 206.3,541.3 207.5,541.3 208.7,541.4 209.9,541.4 211.1,541.4 212.3,541.4 213.5,541.4 214.7,541.4 215.9,541.4 217.1,541.4 218.3,541.5 219.5,541.5 220.7,541.5 221.9,541.5 223.1,541.5 224.3,541.5 225.5,541.5 226.7,541.6 227.9,541.6 229.1,541.6 230.3,541.6 231.5,541.6 232.7,541.6 233.9,541.7 235.1,541.7 236.3,541.7 237.5,541.7 238.7,541.7 239.9,541.8 241.1,541.8 242.3,541.8 243.5,541.8 244.7,541.8 245.9,541.9 247.1,541.9 248.2,541.9 249.4,541.9 250.6,541.9 251.8,542.0 253.0,542.0 254.2,542.0 255.4,542.0 256.6,542.1 257.8,542.1 259.0,542.1 260.2,542.1 261.4,542.1 262.6,542.2 263.8,542.2 265.0,542.2 266.2,542.3 267.4,542.3 268.6,542.3 269.8,542.3 271.0,542.4 272.2,542.4 273.4,542.4 274.6,542.4 275.8,542.5 277.0,542.5 278.2,542.5 279.4,542.6 280.6,542.6 281.8,542.6 283.0,542.7 284.2,542.7 285.4,542.7 286.6,542.8 287.8,542.8 289.0,542.8 290.2,542.9 291.4,542.9 292.6,542.9 293.8,543.0 295.0,543.0 296.1,543.3 297.1,544.1 298.2,545.1 299.3,546.1 300.3,546.9 301.4,547.2 302.5,546.9 303.6,546.1 304.7,545.1 305.8,544.1 306.9,543.3 308.0,543.0 415.0,543.0 416.2,543.6 417.4,545.2 418.6,547.3 419.7,549.4 420.9,551.0 422.1,551.6 423.2,551.2 424.3,550.3 425.4,549.4 426.5,549.0 427.6,549.9 428.6,552.3 429.6,555.3 430.7,558.3 431.8,560.7 432.8,561.6 433.9,560.8 435.1,558.8 436.2,556.3 437.4,553.8 438.5,552.0 439.5,550.9 440.5,549.8 441.5,548.9 442.5,548.2 443.5,548.0 444.6,548.0 445.7,548.1 446.8,548.3 447.8,548.5 448.9,548.7 450.0,549.0 451.1,549.5 452.2,550.4 453.4,551.5 454.5,552.5 455.6,553.2 456.7,553.5 457.8,553.0 458.8,551.9 459.9,550.5 460.9,549.0 462.0,548.0 463.1,547.2 464.3,546.5 465.4,545.9 466.6,545.3 467.7,544.8 468.9,544.3 470.0,544.0 471.2,543.7 472.4,543.4 473.6,543.1 474.8,542.8 475.9,542.6 477.1,542.3 478.3,542.1 479.5,541.9 480.7,541.7 481.9,541.5 483.1,541.4 484.2,541.2 485.4,541.1 486.6,541.1 487.8,541.0 489.0,541.0 490.1,541.1 491.2,541.4 492.3,541.9 493.4,542.5 494.6,543.2 495.7,544.0 496.8,544.7 497.9,545.4 499.0,546.1 500.1,546.8 501.2,547.5 502.3,548.2 503.5,549.0 504.6,549.9 505.7,550.9 506.8,551.9 507.9,553.0 508.9,554.5 510.0,556.6 511.1,558.8 512.1,560.9 513.2,562.4 514.2,563.0 515.2,561.8 516.1,559.1 517.0,555.8 518.0,553.0 519.0,550.5 520.0,547.8 521.0,545.4 522.0,543.7 523.0,543.0 524.1,543.2 525.2,543.8 526.3,544.7 527.3,545.8 528.4,547.1 529.5,548.5 530.6,550.0 531.6,551.8 532.7,554.2 533.8,556.9 534.8,559.9 535.9,562.8 536.9,565.5 538.0,568.4 539.1,571.6 540.2,575.0 541.3,578.2 542.4,581.1 543.5,583.5 544.6,585.1 545.7,585.7 546.8,584.8 547.8,582.6 548.9,579.3 549.9,575.5 551.0,571.6 552.0,568.0 553.0,564.3 554.0,559.8 555.0,555.5 556.0,552.3 557.0,551.0 558.0,551.3 559.1,552.2 560.1,553.2 561.2,554.3 562.2,555.2 563.3,555.5 564.5,555.1 565.6,554.2 566.8,553.4 568.0,553.0 569.0,555.2 570.0,560.8 571.1,568.1 572.1,575.6 573.0,584.3 574.0,595.1 574.9,604.4 575.8,608.3 576.8,603.0 577.7,591.1 578.6,578.4 579.6,570.6 580.6,567.1 581.7,564.0 582.8,561.5 583.8,559.6 584.9,558.4 585.9,558.0 587.0,558.3 588.1,558.9 589.2,560.0 590.2,561.3 591.3,562.7 592.4,564.1 593.5,565.5 594.5,567.1 595.5,569.0 596.5,571.0 597.5,572.5 598.5,573.1 599.5,572.1 600.5,569.5 601.5,566.2 602.5,562.9 603.5,560.5 604.6,558.6 605.7,556.7 606.9,554.8 608.0,553.2 609.1,551.6 610.2,550.3 611.4,549.2 612.5,548.4 613.6,547.9 614.7,547.6 615.9,547.4 617.0,547.2 618.1,547.0 619.2,546.9 620.4,546.7 621.5,546.6 622.6,546.5 623.7,546.3 624.9,546.2 626.0,546.0 627.2,545.8 628.3,545.5 629.5,545.2 630.7,544.9 631.8,544.5 633.0,544.2 634.2,543.9 635.3,543.6 636.5,543.4 637.7,543.2 638.8,543.0 640.0,543.0 641.2,543.0 642.3,543.1 643.5,543.2 644.6,543.4 645.8,543.6 647.0,543.8 648.1,544.1 649.3,544.3 650.4,544.6 651.6,544.8 652.7,545.1 653.9,545.3 655.1,545.5 656.2,545.7 657.4,545.8 658.5,545.9 659.7,545.9 660.9,545.9 662.1,545.9 663.3,545.8 664.5,545.8 665.7,545.7 666.9,545.6 668.1,545.5 669.3,545.4 670.4,545.2 671.6,545.1 672.8,545.0 674.0,544.8 675.2,544.6 676.4,544.5 677.6,544.3 678.8,544.2 680.0,544.0 681.2,543.8 682.4,543.5 683.5,543.2 684.7,542.8 685.9,542.5 687.1,542.1 688.3,541.8 689.5,541.5 690.6,541.2 691.8,541.1 693.0,541.0 869.0,541.0" fill="none" stroke="#00ff00" stroke-width="5.20" stroke-linejoin="round" stroke-linecap="round"/>
</g>
<g clip-path="url(#cb)">
<polyline points="108.0,541.0 168.0,541.0 169.0,539.9 170.0,538.5 171.0,538.0 172.0,537.6 173.0,537.5 174.0,537.6 175.0,538.0 176.0,538.5 177.0,539.9 178.0,541.0 283.0,541.0 284.2,540.8 285.4,540.2 286.6,539.5 287.7,538.6 288.9,537.9 290.1,537.3 291.3,537.1 292.4,537.2 293.5,537.6 294.6,538.0 295.8,538.5 296.9,538.9 298.0,539.0 330.0,539.0 331.2,538.7 332.4,537.9 333.6,536.8 334.8,535.8 336.0,535.0 337.1,534.5 338.3,534.1 339.4,533.7 340.6,533.3 341.8,533.0 342.9,532.7 344.0,532.4 345.0,532.2 346.1,531.9 347.2,531.7 348.3,531.6 349.3,531.4 350.4,531.4 351.5,531.6 352.6,532.2 353.7,533.0 354.7,533.9 355.8,534.9 356.9,535.8 358.0,536.5 359.0,537.1 360.0,537.8 361.0,538.4 362.0,538.8 363.0,539.0 364.0,536.8 365.0,531.6 366.0,525.0 367.0,518.9 368.0,515.0 368.9,513.2 369.8,511.9 370.7,511.0 371.5,510.5 372.3,510.1 373.1,510.0 374.1,510.7 375.0,512.4 375.9,514.8 376.9,517.6 377.8,522.2 378.8,528.8 379.7,534.8 380.6,537.7 381.6,538.2 382.6,538.5 383.7,538.8 384.7,538.9 385.7,539.0 386.6,536.7 387.5,531.2 388.5,524.9 389.4,520.1 390.5,516.1 391.5,512.7 392.6,511.3 393.7,512.1 394.8,514.0 395.9,516.5 397.0,518.9 397.9,521.3 398.9,524.2 399.9,526.7 400.8,527.7 401.8,524.9 402.8,517.5 403.7,507.4 404.7,496.0 405.6,481.8 406.5,462.6 407.5,441.2 408.4,420.5 409.4,395.3 410.5,375.0 411.4,365.8 412.2,361.0 413.1,359.9 414.0,359.5 414.8,359.9 415.5,361.0 416.4,374.1 417.2,395.0 418.2,415.4 418.9,435.4 419.7,448.1 420.8,449.3 421.9,449.7 423.0,450.7 424.0,456.4 425.0,467.2 426.0,478.3 426.9,488.1 427.9,498.4 428.9,508.1 429.8,516.0 430.8,522.5 431.7,528.3 432.7,533.1 433.6,536.2 434.7,538.6 435.9,540.3 437.0,541.0 438.2,541.0 439.4,541.0 440.6,541.0 441.8,541.0 442.9,541.0 444.1,541.0 445.3,540.9 446.5,540.9 447.7,540.9 448.9,540.9 450.1,540.9 451.3,540.9 452.5,540.8 453.6,540.8 454.8,540.8 456.0,540.8 457.2,540.7 458.4,540.7 459.6,540.7 460.8,540.6 462.0,540.6 463.2,540.6 464.3,540.5 465.5,540.5 466.7,540.4 467.9,540.4 469.1,540.4 470.3,540.3 471.5,540.3 472.7,540.2 473.8,540.2 475.0,540.1 476.2,540.1 477.4,540.0 478.6,540.0 479.8,539.9 481.0,539.9 482.2,539.8 483.4,539.8 484.5,539.7 485.7,539.7 486.9,539.6 488.1,539.6 489.3,539.5 490.5,539.4 491.7,539.4 492.9,539.3 494.1,539.3 495.2,539.2 496.4,539.2 497.6,539.1 498.8,539.1 500.0,539.0 501.2,538.9 502.4,538.8 503.6,538.8 504.8,538.6 506.0,538.5 507.2,538.4 508.3,538.3 509.5,538.2 510.7,538.1 511.9,538.0 513.1,538.0 514.3,537.9 515.5,537.9 516.7,537.9 517.9,537.9 519.0,538.0 520.2,538.1 521.4,538.2 522.6,538.2 523.8,538.3 525.0,538.4 526.1,538.6 527.3,538.7 528.5,538.8 529.7,538.8 530.9,538.9 532.1,539.0 533.2,539.1 534.4,539.1 535.6,539.1 536.7,538.9 537.9,538.4 539.0,537.7 540.2,536.8 541.3,535.9 542.5,534.8 543.6,533.9 544.8,533.0 545.9,532.3 547.1,531.8 548.2,531.6 549.3,531.8 550.3,532.3 551.4,533.1 552.5,533.8 553.6,534.6 554.6,535.1 555.7,535.3 556.7,534.4 557.7,532.2 558.8,529.6 559.8,527.4 560.8,526.5 561.8,527.1 562.8,528.5 563.8,530.2 564.8,531.8 565.8,532.8 567.0,533.3 568.1,533.8 569.3,534.2 570.4,534.6 571.6,534.9 572.8,535.2 573.9,535.4 575.1,535.7 576.3,535.9 577.4,536.1 578.6,536.3 579.7,536.4 580.9,536.6 582.1,536.8 583.3,536.9 584.5,537.1 585.7,537.2 586.9,537.4 588.1,537.5 589.3,537.7 590.5,537.8 591.6,537.9 592.8,538.0 594.0,538.1 595.2,538.2 596.4,538.3 597.6,538.4 598.8,538.4 600.0,538.5 601.2,538.5 602.4,538.6 603.5,538.6 604.7,538.7 605.9,538.7 607.1,538.8 608.2,538.8 609.4,538.8 610.6,538.9 611.8,538.9 612.9,538.9 614.1,539.0 615.3,539.0 616.5,539.0 617.6,539.1 618.8,539.1 620.0,539.1 621.2,539.1 622.4,539.2 623.5,539.2 624.7,539.2 625.9,539.2 627.1,539.3 628.2,539.3 629.4,539.3 630.6,539.3 631.8,539.3 632.9,539.4 634.1,539.4 635.3,539.4 636.5,539.4 637.6,539.5 638.8,539.5 640.0,539.5 641.2,539.5 642.4,539.5 643.6,539.6 644.8,539.6 646.0,539.6 647.2,539.6 648.4,539.7 649.6,539.7 650.8,539.7 652.0,539.8 653.2,539.8 654.4,539.8 655.6,539.8 656.8,539.9 658.0,539.9 659.2,539.9 660.4,539.9 661.6,540.0 662.8,540.0 664.0,540.0 665.2,540.0 666.4,540.1 667.6,540.1 668.8,540.1 670.0,540.1 671.2,540.1 672.4,540.2 673.6,540.2 674.8,540.2 676.0,540.2 677.2,540.3 678.4,540.3 679.6,540.3 680.8,540.3 682.0,540.3 683.2,540.3 684.4,540.4 685.6,540.4 686.8,540.4 688.0,540.4 689.2,540.4 690.4,540.4 691.6,540.4 692.8,540.5 694.0,540.5 695.2,540.5 696.4,540.5 697.6,540.5 698.8,540.5 700.0,540.5 701.2,540.5 702.4,540.5 703.6,540.5 704.8,540.5 706.0,540.5 707.2,540.5 708.4,540.5 709.6,540.5 710.8,540.5 712.0,540.5 713.2,540.5 714.4,540.6 715.6,540.6 716.8,540.6 718.0,540.6 719.2,540.6 720.4,540.6 721.6,540.6 722.8,540.6 724.0,540.6 725.2,540.6 726.4,540.6 727.6,540.6 728.8,540.6 730.0,540.6 731.2,540.6 732.4,540.6 733.6,540.6 734.8,540.6 736.0,540.6 737.2,540.6 738.4,540.6 739.6,540.6 740.8,540.6 742.0,540.6 743.1,540.6 744.3,540.6 745.5,540.6 746.7,540.6 747.9,540.6 749.1,540.7 750.3,540.7 751.5,540.7 752.7,540.7 753.9,540.7 755.1,540.7 756.3,540.7 757.5,540.7 758.7,540.7 759.9,540.7 761.1,540.7 762.3,540.7 763.5,540.7 764.7,540.7 765.9,540.7 767.1,540.7 768.3,540.7 769.5,540.7 770.7,540.7 771.9,540.7 773.1,540.7 774.3,540.7 775.5,540.7 776.7,540.7 777.9,540.7 779.1,540.7 780.3,540.7 781.5,540.7 782.7,540.7 783.9,540.7 785.1,540.7 786.3,540.7 787.5,540.7 788.7,540.7 789.9,540.7 791.1,540.7 792.3,540.7 793.5,540.7 794.7,540.7 795.9,540.7 797.1,540.7 798.3,540.7 799.5,540.8 800.7,540.8 801.9,540.8 803.1,540.8 804.3,540.8 805.5,540.8 806.7,540.8 807.9,540.8 809.1,540.8 810.3,540.8 811.5,540.8 812.7,540.8 813.9,540.8 815.1,540.8 816.3,540.8 817.5,540.8 818.7,540.8 819.9,540.8 821.1,540.8 822.3,540.8 823.5,540.8 824.7,540.8 825.9,540.8 827.0,540.8 828.2,540.8 829.4,540.8 830.6,540.8 831.8,540.8 833.0,540.8 834.2,540.8 835.4,540.8 836.6,540.8 837.8,540.8 839.0,540.8 840.2,540.8 841.4,540.8 842.6,540.8 843.8,540.8 845.0,540.8 846.2,540.8 847.4,540.8 848.6,540.8 849.8,540.8 851.0,540.8 852.2,540.8 853.4,540.8 854.6,540.8 855.8,540.8 857.0,540.8 858.2,540.8 859.4,540.8 860.6,540.8 861.8,540.8 863.0,540.8 864.2,540.8 865.4,540.8 866.6,540.8 867.8,540.8 869.0,540.8" fill="none" stroke="#0000ff" stroke-width="5.20" stroke-linejoin="round" stroke-linecap="round"/>
</g>
<g clip-path="url(#cb)">
<polyline points="108.0,541.0 168.0,541.0 169.0,542.1 170.0,543.5 171.0,544.0 172.0,544.4 173.0,544.5 174.0,544.4 175.0,544.0 176.0,543.5 177.0,542.1 178.0,541.0 415.0,541.0 416.2,541.5 417.4,542.9 418.6,544.7 419.7,546.5 420.9,547.9 422.1,548.4 423.2,547.7 424.3,546.2 425.4,544.7 426.5,544.0 427.6,544.4 428.6,545.5 429.6,546.9 430.7,548.2 431.8,549.3 432.8,549.7 433.9,549.4 435.1,548.5 436.2,547.3 437.4,546.1 438.5,545.0 439.5,544.1 440.5,543.0 441.5,542.0 442.5,541.3 443.5,541.0 489.0,541.0 489.9,541.3 490.9,542.3 491.9,543.7 492.8,545.4 493.8,549.0 494.7,555.0 495.7,561.8 496.6,568.0 497.6,573.5 498.5,579.1 499.4,584.2 500.4,588.2 501.3,590.9 502.3,592.9 503.2,595.0 504.2,598.2 505.0,604.3 505.9,613.1 506.7,620.9 507.5,627.5 508.4,633.4 509.2,636.0 510.0,634.0 510.9,630.4 511.7,628.4 512.6,632.3 513.6,641.0 514.5,649.7 515.5,653.6 516.5,643.0 517.5,620.0 518.4,576.4 519.2,542.9 520.4,541.7 521.5,540.9 522.7,540.4 523.8,540.1 525.0,540.0 526.2,540.2 527.3,540.6 528.5,541.2 529.6,542.0 530.8,542.8 531.9,543.5 533.1,544.2 534.2,544.7 535.2,545.3 536.3,545.8 537.4,546.3 538.5,546.8 539.5,547.4 540.6,547.9 541.6,548.5 542.6,549.1 543.7,549.8 544.7,550.2 545.7,550.4 546.8,550.0 547.8,548.9 548.9,547.4 550.0,545.9 551.1,544.4 552.1,543.3 553.2,542.9 554.3,543.2 555.4,543.9 556.5,544.9 557.5,545.9 558.6,546.9 559.7,547.6 560.8,547.9 561.8,547.8 562.9,547.4 563.9,546.9 564.9,546.3 566.0,545.8 567.0,545.4 568.0,545.0 569.0,544.7 570.0,544.3 571.0,544.1 572.0,544.0 573.0,544.5 574.0,545.8 575.1,547.5 576.1,549.2 577.1,550.4 578.2,551.3 579.3,552.0 580.4,552.6 581.4,553.2 582.5,553.8 583.6,554.5 584.7,555.5 585.8,556.9 586.8,559.0 587.9,561.3 588.9,563.6 590.0,565.5 591.0,566.8 592.0,567.5 593.0,568.2 594.0,568.8 595.0,569.2 596.0,569.3 597.0,568.8 598.0,567.6 599.0,565.9 600.0,564.3 601.0,563.0 602.1,561.9 603.2,560.9 604.3,559.9 605.3,559.0 606.4,558.2 607.5,557.4 608.6,556.7 609.7,556.0 610.7,555.3 611.8,554.6 612.9,554.0 614.0,553.5 615.0,553.1 616.1,553.0 617.3,553.1 618.5,553.2 619.6,553.4 620.8,553.7 622.0,554.0 623.0,554.6 624.1,555.7 625.1,557.1 626.1,558.5 627.1,559.8 628.2,560.7 629.2,561.1 630.2,558.3 631.2,553.2 632.2,550.4 633.4,550.4 634.5,550.4 635.7,550.5 636.8,550.6 638.0,550.7 639.1,550.8 640.2,550.9 641.4,551.1 642.6,551.2 643.7,551.4 644.9,551.6 646.0,551.8 647.1,552.0 648.3,552.2 649.5,552.5 650.6,552.7 651.7,553.0 652.9,553.6 654.0,554.2 655.2,554.9 656.3,555.5 657.4,556.1 658.6,556.5 659.7,556.6 660.7,556.3 661.8,555.4 662.8,554.3 663.8,553.2 664.9,552.3 665.9,552.0 667.0,552.2 668.1,552.6 669.2,553.2 670.2,553.8 671.3,554.4 672.4,554.8 673.5,555.0 674.6,554.7 675.8,553.9 676.9,553.0 678.0,552.0 679.0,551.1 680.1,550.0 681.1,548.9 682.1,547.7 683.2,546.7 684.2,545.9 685.4,545.1 686.5,544.3 687.6,543.5 688.8,542.8 690.0,542.2 691.1,541.7 692.2,541.4 693.4,541.3 694.6,541.3 695.7,541.4 696.9,541.5 698.0,541.7 699.2,541.8 700.4,542.1 701.5,542.3 702.7,542.5 703.9,542.8 705.0,543.1 706.2,543.3 707.3,543.6 708.5,543.9 709.7,544.1 710.8,544.3 712.0,544.6 713.2,544.7 714.3,544.9 715.5,545.0 716.6,545.1 717.8,545.1 742.3,545.1 743.5,545.1 744.7,545.1 745.9,545.1 747.1,545.1 748.3,545.1 749.5,545.1 750.7,545.1 751.9,545.1 753.1,545.1 754.3,545.1 755.4,545.1 756.6,545.1 757.8,545.1 759.0,545.1 760.2,545.1 761.4,545.1 762.6,545.1 763.8,545.1 765.0,545.0 766.2,545.0 767.4,545.0 768.6,545.0 769.8,545.0 771.0,545.0 772.2,545.0 773.4,545.0 774.6,545.0 775.8,545.0 777.0,545.0 778.2,545.0 779.4,545.0 780.5,544.9 781.7,544.9 782.9,544.9 784.1,544.9 785.3,544.9 786.5,544.9 787.7,544.9 788.9,544.9 790.1,544.9 791.3,544.9 792.5,544.8 793.7,544.8 794.9,544.8 796.1,544.8 797.3,544.8 798.5,544.8 799.7,544.8 800.9,544.8 802.1,544.7 803.3,544.7 804.5,544.7 805.6,544.7 806.8,544.7 808.0,544.7 809.2,544.6 810.4,544.6 811.6,544.6 812.8,544.6 814.0,544.6 815.2,544.6 816.4,544.6 817.6,544.5 818.8,544.5 820.0,544.5 821.2,544.5 822.4,544.5 823.6,544.4 824.8,544.4 826.0,544.4 827.2,544.4 828.4,544.4 829.6,544.4 830.8,544.3 831.9,544.3 833.1,544.3 834.3,544.3 835.5,544.3 836.7,544.2 837.9,544.2 839.1,544.2 840.3,544.2 841.5,544.1 842.7,544.1 843.9,544.1 845.1,544.1 846.3,544.1 847.5,544.0 848.7,544.0 849.9,544.0 851.1,544.0 852.3,543.9 853.5,543.9 854.7,543.9 855.9,543.9 857.0,543.9 858.2,543.8 859.4,543.8 860.6,543.8 861.8,543.8 863.0,543.7 864.2,543.7 865.4,543.7 866.6,543.7 867.8,543.6 869.0,543.6" fill="none" stroke="#0000ff" stroke-width="5.20" stroke-linejoin="round" stroke-linecap="round"/>
</g>
<g clip-path="url(#cc)">
<polyline points="958.0,199.0 1125.0,199.0 1126.0,198.4 1127.1,197.0 1128.1,195.3 1129.2,193.9 1130.2,193.3 1131.4,193.3 1132.5,193.4 1133.7,193.6 1134.8,193.8 1136.0,194.0 1137.2,194.6 1138.4,195.6 1139.6,196.7 1140.8,197.6 1142.0,198.0 1143.1,197.9 1144.3,197.7 1145.4,197.5 1146.6,197.1 1147.7,196.7 1148.9,196.3 1150.0,195.9 1151.2,195.6 1152.3,195.3 1153.4,195.1 1154.5,194.9 1155.6,194.7 1156.7,194.6 1157.8,194.4 1158.9,194.3 1160.0,194.1 1161.1,194.0 1162.2,193.8 1163.3,193.6 1164.4,193.3 1165.5,192.9 1166.6,192.4 1167.8,191.8 1168.9,191.2 1170.0,190.5 1171.1,189.8 1172.3,189.2 1173.4,188.7 1174.5,188.3 1175.7,188.0 1176.9,187.7 1178.1,187.4 1179.3,187.3 1180.5,187.2 1181.7,187.4 1182.8,187.8 1184.0,188.4 1185.1,189.1 1186.3,189.9 1187.4,190.6 1188.6,191.3 1189.7,191.9 1190.9,192.6 1192.0,193.3 1193.2,193.9 1194.3,194.5 1195.5,195.0 1196.6,195.3 1197.7,195.5 1198.8,195.7 1199.8,195.9 1200.9,196.0 1202.0,196.0 1202.9,193.7 1203.8,189.5 1204.7,187.2 1205.8,187.9 1206.9,189.3 1208.0,190.0 1208.9,189.1 1209.8,187.1 1210.8,185.1 1211.7,184.2 1212.8,187.1 1214.0,190.0 1214.9,186.9 1215.9,181.3 1216.8,178.2 1217.8,181.8 1218.8,188.4 1219.8,192.0 1220.9,189.7 1221.9,184.7 1223.0,180.0 1224.0,176.3 1224.9,172.4 1225.8,169.3 1226.8,168.0 1227.8,170.0 1228.8,174.8 1229.9,180.4 1230.9,185.0 1231.9,188.9 1233.0,192.4 1234.0,194.0 1235.2,192.0 1236.4,187.4 1237.5,181.8 1238.7,177.2 1239.9,175.2 1240.9,178.9 1241.9,185.6 1242.9,189.3 1243.9,188.5 1245.0,186.8 1246.0,185.0 1247.0,184.2 1248.0,184.9 1249.0,186.3 1250.0,187.0 1251.2,186.5 1252.4,185.3 1253.6,183.9 1254.8,182.7 1256.0,182.2 1257.0,183.0 1258.0,185.0 1259.1,187.6 1260.1,190.3 1261.1,192.3 1262.1,193.9 1263.1,195.6 1264.1,196.8 1265.1,197.3 1266.3,197.2 1267.5,196.8 1268.7,196.4 1269.9,195.8 1271.1,195.3 1272.2,194.7 1273.3,193.8 1274.5,192.8 1275.6,191.8 1276.7,190.7 1277.8,189.8 1279.0,189.0 1280.1,188.5 1281.2,188.3 1282.4,188.5 1283.5,188.9 1284.7,189.4 1285.8,189.8 1287.0,190.0 1288.0,189.8 1289.1,189.3 1290.2,188.5 1291.2,187.7 1292.2,186.9 1293.3,186.2 1294.4,185.6 1295.6,185.1 1296.7,184.6 1297.9,184.1 1299.0,183.6 1300.2,182.9 1301.3,182.2 1302.3,181.1 1303.3,179.7 1304.4,178.2 1305.4,177.0 1306.4,176.5 1307.4,177.2 1308.4,179.0 1309.4,181.2 1310.4,183.2 1311.5,185.5 1312.7,188.2 1313.8,191.0 1315.0,193.6 1316.1,195.9 1317.3,197.4 1318.4,198.0 1319.6,198.0 1320.8,197.8 1322.0,197.6 1323.2,197.3 1324.4,197.0 1325.6,196.6 1326.7,196.1 1327.9,195.7 1329.1,195.2 1330.3,194.7 1331.5,194.1 1332.7,193.6 1333.9,193.0 1335.0,192.3 1336.2,191.5 1337.4,190.6 1338.5,189.7 1339.7,188.6 1340.8,187.6 1342.0,186.5 1343.2,185.4 1344.3,184.3 1345.5,183.3 1346.7,182.3 1347.8,181.4 1349.0,180.5 1350.2,179.7 1351.4,179.1 1352.6,178.5 1353.8,177.9 1355.0,177.4 1356.1,176.8 1357.3,176.2 1358.5,175.4 1359.7,174.6 1360.9,173.6 1362.1,172.4 1363.3,171.0 1364.4,169.1 1365.6,166.7 1366.8,163.5 1368.0,159.4 1369.1,154.2 1370.3,147.8 1371.2,132.2 1372.1,107.0 1373.0,88.0 1373.8,79.2 1374.7,72.4 1375.5,68.0 1376.7,64.2 1377.8,62.5 1378.7,66.0 1379.5,75.0 1380.2,104.6 1380.8,130.0 1381.4,117.5 1382.0,105.0 1382.6,127.5 1383.2,150.0 1383.8,123.2 1384.5,96.0 1385.3,95.1 1386.2,94.6 1387.0,94.5 1387.8,94.9 1388.7,96.0 1389.5,98.0 1390.2,124.3 1391.0,150.0 1391.9,150.8 1392.8,151.2 1393.8,151.5 1394.7,152.0 1395.8,153.7 1397.0,156.5 1398.1,159.6 1399.3,162.0 1400.4,163.0 1401.5,162.2 1402.6,160.0 1403.7,157.0 1404.7,153.7 1405.8,150.4 1406.9,147.7 1408.0,146.0 1409.0,145.1 1410.0,144.3 1411.0,143.6 1412.0,143.2 1413.0,143.0 1414.0,143.0 1415.1,143.0 1416.1,143.1 1417.1,143.2 1418.2,143.3 1419.2,143.4 1420.4,143.8 1421.6,144.7 1422.8,146.1 1424.0,148.0 1424.9,153.4 1425.9,161.9 1426.8,167.0 1427.9,168.2 1429.1,168.9 1430.2,169.5 1431.4,170.0 1432.5,170.8 1433.6,172.0 1434.6,173.6 1435.7,175.4 1436.8,177.3 1437.9,179.1 1438.9,180.7 1440.0,182.0 1441.2,183.2 1442.4,184.3 1443.5,185.4 1444.7,186.3 1445.9,186.9 1447.1,187.1 1448.3,187.1 1449.5,187.1 1450.7,187.1 1451.9,187.1 1453.1,187.1 1454.3,187.1 1455.5,187.1 1456.6,187.1 1457.8,187.1 1459.0,187.1 1460.2,187.0 1461.4,187.0 1462.6,187.0 1463.8,187.0 1465.0,187.0 1466.2,186.9 1467.4,186.8 1468.6,186.6 1469.8,186.4 1471.0,186.1 1472.2,185.8 1473.4,185.5 1474.6,185.2 1475.8,184.9 1477.0,184.6 1478.2,184.4 1479.4,184.1 1480.6,184.0 1481.8,183.8 1483.0,183.8 1484.1,184.1 1485.2,184.8 1486.3,185.9 1487.4,187.3 1488.4,188.8 1489.5,190.3 1490.6,191.8 1491.7,193.0 1492.8,194.0 1493.8,194.8 1494.9,195.5 1495.9,196.3 1496.9,197.0 1497.9,197.5 1499.0,197.9 1500.0,198.0 1501.1,197.9 1502.3,197.7 1503.4,197.4 1504.6,197.0 1505.7,196.4 1506.9,195.7 1508.0,195.0 1509.2,192.8 1510.3,189.1 1511.5,185.6 1512.7,184.0 1513.8,184.9 1514.8,187.0 1515.9,189.1 1517.0,190.0 1518.1,190.0 1519.2,189.9 1520.3,189.8 1521.4,189.6 1522.5,189.5 1523.7,189.3 1524.8,189.1 1525.9,188.9 1527.0,188.7 1528.1,188.6 1529.2,188.5 1530.3,188.4 1531.4,188.4 1532.6,188.3 1533.7,188.3 1534.9,188.2 1536.0,188.2 1537.2,188.2 1538.3,188.2 1539.5,188.2 1540.6,188.1 1541.8,188.1 1542.9,188.1 1544.0,188.1 1545.2,188.1 1546.3,188.1 1547.5,188.0 1548.6,188.0 1549.8,188.0 1550.9,188.0 1552.1,187.9 1553.2,187.9 1554.4,187.9 1555.5,187.8 1556.6,187.7 1557.8,187.6 1558.9,187.5 1560.0,187.3 1561.2,187.0 1562.3,186.7 1563.5,186.4 1564.6,186.1 1565.7,185.6 1566.9,185.2 1568.0,184.7 1569.2,183.6 1570.3,181.5 1571.5,178.9 1572.7,176.2 1573.9,173.8 1575.0,172.1 1576.2,171.4 1577.2,172.3 1578.1,174.4 1579.0,177.2 1580.0,180.0 1581.0,183.7 1582.1,187.8 1583.1,189.7 1584.2,189.7 1585.4,189.7 1586.5,189.6 1587.7,189.6 1588.8,189.5 1590.0,189.5 1591.1,189.4 1592.3,189.3 1593.4,189.2 1594.5,189.1 1595.7,189.0 1596.8,188.9 1598.0,188.8 1599.1,188.7 1600.3,188.6 1601.4,188.5 1602.6,188.4 1603.7,188.2 1604.9,188.1 1606.0,188.0 1607.2,187.8 1608.3,187.6 1609.5,187.4 1610.7,187.2 1611.8,187.1 1613.0,187.0 1614.2,187.2 1615.3,187.7 1616.5,188.4 1617.7,189.1 1618.8,189.7 1620.0,190.0 1621.2,190.1 1622.4,190.2 1623.6,190.3 1624.8,190.4 1625.9,190.5 1627.1,190.6 1628.3,190.7 1629.5,190.8 1630.7,190.9 1631.9,191.0 1633.1,191.0 1634.3,191.1 1635.4,191.2 1636.6,191.2 1637.8,191.3 1639.0,191.3 1640.2,191.4 1641.4,191.4 1642.6,191.5 1643.8,191.5 1644.9,191.6 1646.1,191.6 1647.3,191.6 1648.5,191.7 1649.7,191.7 1650.9,191.7 1652.1,191.8 1653.3,191.8 1654.4,191.8 1655.6,191.9 1656.8,191.9 1658.0,191.9 1659.2,191.9 1660.4,192.0 1661.6,192.0 1662.8,192.0 1663.9,192.1 1665.1,192.1 1666.3,192.1 1667.5,192.2 1668.7,192.2 1669.8,192.2 1671.0,192.3 1672.1,192.3 1673.2,192.3 1674.3,192.4 1675.5,192.4 1676.6,192.4 1677.7,192.4 1678.9,192.5 1680.0,192.5" fill="none" stroke="#ff0000" stroke-width="5.20" stroke-linejoin="round" stroke-linecap="round"/>
</g>
<g clip-path="url(#cc)">
<polyline points="958.0,199.0 1128.0,199.0 1129.2,199.1 1130.3,199.3 1131.5,199.6 1132.7,200.0 1133.8,200.5 1135.0,201.0 1136.0,201.8 1137.1,203.1 1138.2,204.6 1139.2,206.0 1140.2,207.0 1141.3,207.4 1142.5,206.4 1143.7,204.2 1144.8,202.0 1146.0,201.0 1147.2,201.0 1148.3,201.0 1149.5,201.0 1150.7,201.1 1151.8,201.1 1153.0,201.1 1154.2,201.2 1155.3,201.2 1156.5,201.3 1157.7,201.3 1158.8,201.4 1160.0,201.5 1161.2,201.6 1162.3,201.6 1163.5,201.7 1164.7,201.8 1165.8,201.9 1167.0,202.0 1168.2,202.1 1169.3,202.2 1170.5,202.3 1171.7,202.4 1172.9,202.6 1174.0,202.7 1175.2,202.9 1176.4,203.1 1177.6,203.3 1178.8,203.6 1180.0,203.9 1181.1,204.2 1182.3,204.5 1183.5,204.8 1184.7,205.2 1185.9,205.6 1187.1,206.0 1188.2,206.4 1189.4,206.9 1190.6,207.4 1191.7,208.0 1192.9,208.7 1194.0,209.5 1195.2,210.5 1196.3,211.6 1197.5,212.9 1198.6,214.4 1199.6,216.8 1200.7,220.1 1201.7,223.2 1202.7,224.5 1203.9,223.4 1205.1,220.8 1206.3,217.6 1207.5,214.5 1208.7,212.4 1209.8,211.3 1210.9,210.3 1212.0,209.5 1213.1,208.7 1214.2,208.0 1215.3,207.3 1216.4,206.7 1217.5,206.2 1218.6,205.6 1219.7,205.0 1220.8,204.4 1221.9,203.7 1223.0,203.0 1224.2,202.2 1225.3,201.5 1226.4,200.8 1227.5,200.2 1228.7,199.7 1229.8,199.4 1230.9,199.3 1232.0,199.3 1233.1,199.4 1234.2,199.5 1235.3,199.7 1236.5,200.0 1237.6,200.2 1238.7,200.6 1239.8,200.9 1240.9,201.3 1242.1,202.0 1243.2,203.3 1244.4,205.0 1245.5,207.0 1246.7,209.4 1247.8,211.8 1249.0,214.4 1250.2,218.2 1251.4,223.4 1252.6,228.8 1253.8,232.9 1255.0,234.6 1256.0,231.8 1257.0,225.5 1258.0,219.2 1259.0,216.4 1260.0,217.1 1261.1,219.2 1262.1,222.5 1263.1,242.4 1264.1,275.5 1265.1,292.9 1266.1,287.6 1267.1,275.8 1268.1,264.0 1269.1,258.7 1270.1,259.3 1271.1,260.7 1272.1,262.1 1273.1,262.7 1274.1,257.9 1275.2,246.8 1276.2,234.6 1277.2,226.5 1278.4,221.8 1279.6,217.9 1280.8,214.7 1282.0,212.3 1283.2,210.4 1284.3,209.0 1285.4,207.8 1286.6,206.7 1287.7,205.8 1288.8,204.9 1289.9,204.2 1291.1,203.5 1292.2,202.9 1293.3,202.3 1294.4,201.7 1295.6,201.1 1296.7,200.6 1297.9,200.1 1299.0,199.7 1300.2,199.4 1301.3,199.3 1302.4,199.3 1303.6,199.2 1304.7,199.2 1305.9,199.2 1307.0,199.1 1308.1,199.1 1309.3,199.1 1310.4,199.1 1311.6,199.0 1312.7,199.0 1313.8,199.0 1315.0,199.0 1316.1,199.0 1317.3,199.0 1318.4,199.0 1319.4,199.7 1320.4,201.5 1321.5,204.2 1322.5,207.2 1323.5,210.4 1324.5,214.6 1325.5,220.1 1326.5,225.3 1327.5,228.5 1328.7,230.2 1329.9,231.2 1331.1,232.1 1332.3,233.1 1333.5,234.6 1334.5,237.5 1335.5,241.9 1336.6,245.8 1337.6,247.5 1338.7,245.5 1339.8,240.5 1340.9,234.5 1342.0,229.0 1343.2,223.5 1344.3,217.2 1345.5,210.9 1346.7,205.4 1347.8,201.6 1349.0,200.1 1350.1,200.5 1351.2,201.6 1352.3,203.3 1353.4,205.3 1354.5,207.6 1355.6,209.9 1356.6,212.5 1357.6,215.8 1358.5,219.4 1359.5,223.1 1360.5,226.3 1361.5,229.5 1362.5,233.0 1363.4,236.1 1364.4,238.4 1365.4,239.3 1366.5,238.5 1367.6,236.4 1368.7,233.4 1369.7,229.9 1370.8,226.3 1371.9,223.0 1373.0,219.5 1374.1,215.3 1375.2,211.0 1376.2,207.2 1377.3,204.4 1378.4,203.4 1379.5,203.9 1380.6,205.3 1381.7,207.4 1382.8,210.1 1383.9,213.2 1385.0,216.5 1386.0,221.5 1387.0,229.0 1387.9,237.0 1388.9,243.3 1389.9,245.9 1390.9,243.2 1391.9,236.7 1392.8,228.9 1393.8,222.4 1394.8,219.7 1395.8,221.4 1396.8,225.5 1397.7,230.3 1398.7,234.4 1399.7,236.1 1400.8,236.1 1401.8,236.1 1402.9,236.1 1403.9,236.1 1405.0,236.1 1406.0,236.8 1407.0,238.7 1408.0,241.3 1409.1,244.2 1410.1,247.0 1411.1,249.2 1412.2,251.0 1413.3,252.7 1414.3,254.3 1415.4,255.9 1416.5,257.4 1417.6,259.0 1418.7,260.9 1419.8,263.0 1420.9,265.1 1422.0,267.0 1423.1,268.3 1424.2,268.8 1425.2,267.4 1426.2,263.9 1427.1,259.1 1428.1,253.9 1429.1,249.2 1430.1,244.3 1431.1,238.7 1432.0,233.2 1433.0,228.8 1434.0,226.3 1435.1,225.0 1436.2,223.8 1437.3,222.7 1438.4,221.8 1439.4,221.1 1440.5,220.5 1441.6,220.0 1442.7,219.8 1443.8,219.7 1444.9,219.9 1446.0,220.6 1447.0,221.4 1448.1,222.1 1449.2,222.8 1450.3,223.0 1451.4,222.0 1452.5,219.6 1453.6,216.5 1454.7,213.3 1455.8,210.9 1456.9,209.9 1476.0,209.9 1477.0,210.8 1478.0,212.7 1479.0,214.6 1480.0,215.5 1481.0,215.1 1482.0,214.2 1483.0,213.0 1484.0,212.1 1485.0,211.7 1486.1,211.9 1487.2,212.6 1488.4,213.5 1489.5,214.6 1490.6,215.7 1491.7,216.8 1492.9,217.7 1494.0,218.4 1495.1,218.6 1496.1,217.9 1497.1,216.2 1498.0,214.0 1499.0,211.9 1500.0,210.4 1501.1,209.4 1502.2,208.4 1503.3,207.4 1504.4,206.7 1505.5,206.0 1506.6,205.6 1507.7,205.5 1508.9,205.5 1510.0,205.6 1511.2,205.7 1512.4,205.9 1513.5,206.1 1514.7,206.3 1515.8,206.6 1517.0,206.8 1518.2,207.1 1519.3,207.3 1520.5,207.5 1521.7,207.7 1522.8,207.8 1524.0,207.9 1525.2,208.0 1526.4,208.0 1527.6,208.1 1528.8,208.1 1529.9,208.2 1531.1,208.2 1532.3,208.3 1533.5,208.3 1534.7,208.3 1535.9,208.4 1537.1,208.4 1538.2,208.4 1539.4,208.5 1540.6,208.5 1541.8,208.6 1543.0,208.6 1544.2,208.6 1545.3,208.7 1546.5,208.7 1547.7,208.8 1548.8,208.8 1550.0,208.8 1551.2,208.8 1552.3,208.9 1553.5,208.9 1554.6,208.9 1555.8,208.9 1557.0,209.0 1558.1,209.0 1559.3,209.0 1560.5,209.1 1561.6,209.1 1562.8,209.1 1564.0,209.2 1565.1,209.2 1566.3,209.3 1567.4,209.3 1568.6,209.4 1569.8,209.5 1570.9,209.5 1572.1,209.6 1573.3,209.7 1574.4,209.8 1575.6,209.9 1576.7,210.3 1577.8,211.0 1579.0,212.1 1580.1,213.4 1581.2,214.7 1582.3,216.0 1583.5,217.0 1584.6,217.7 1585.7,218.0 1586.7,217.8 1587.8,217.3 1588.8,216.6 1589.9,215.7 1590.9,214.8 1592.0,213.8 1593.0,213.0 1594.1,212.1 1595.2,211.0 1596.2,209.9 1597.3,208.9 1598.4,208.2 1599.5,207.9 1618.0,207.9 1619.2,207.9 1620.4,207.9 1621.6,207.9 1622.8,207.9 1624.0,208.0 1625.2,208.0 1626.4,208.0 1627.6,208.0 1628.8,208.1 1630.0,208.1 1631.2,208.2 1632.4,208.2 1633.6,208.3 1634.8,208.3 1636.0,208.3 1637.2,208.4 1638.4,208.4 1639.6,208.5 1640.8,208.6 1642.0,208.6 1643.2,208.7 1644.4,208.7 1645.6,208.8 1646.8,208.8 1648.0,208.8 1649.2,208.9 1650.4,208.9 1651.6,209.0 1652.8,209.0 1654.0,209.1 1655.2,209.1 1656.4,209.1 1657.6,209.1 1658.8,209.2 1660.0,209.2 1661.2,209.2 1662.4,209.2 1663.6,209.2 1664.8,209.2 1665.9,209.1 1667.1,209.0 1668.3,208.9 1669.5,208.7 1670.6,208.6 1671.8,208.4 1673.0,208.1 1674.1,207.9 1675.3,207.7 1676.5,207.4 1677.7,207.2 1678.8,206.9 1680.0,206.7" fill="none" stroke="#ff0000" stroke-width="5.20" stroke-linejoin="round" stroke-linecap="round"/>
</g>
<g clip-path="url(#cc)">
<polyline points="958.0,199.0 1015.0,199.0 1016.0,197.2 1017.0,195.0 1018.0,194.5 1019.0,194.1 1020.0,194.0 1021.0,194.1 1022.0,194.5 1023.0,195.0 1024.0,197.2 1025.0,199.0 1128.0,199.0 1129.1,197.7 1130.2,196.3 1131.4,196.3 1132.5,196.2 1133.7,196.2 1134.9,196.2 1136.0,196.2 1137.2,196.1 1138.4,196.1 1139.5,196.1 1140.7,196.1 1141.8,196.1 1143.0,196.1 1144.2,196.1 1145.3,196.1 1146.5,196.1 1147.7,196.1 1148.8,196.0 1150.0,196.0 1151.1,195.9 1152.3,195.8 1153.4,195.5 1154.6,195.2 1155.7,194.8 1156.8,194.4 1158.0,194.0 1159.1,193.5 1160.2,193.1 1161.4,192.6 1162.5,192.2 1163.7,191.7 1164.8,191.3 1165.9,191.0 1167.1,190.7 1168.2,190.5 1169.4,190.3 1170.5,190.3 1171.6,190.3 1172.7,190.3 1173.8,190.3 1174.9,190.3 1176.1,190.3 1177.2,190.3 1178.3,190.3 1179.4,190.3 1180.5,190.3 1181.7,190.4 1182.8,190.5 1184.0,190.8 1185.2,191.2 1186.4,191.6 1187.5,192.1 1188.7,192.7 1189.9,193.2 1191.1,193.8 1192.2,194.3 1193.4,194.8 1194.6,195.3 1195.7,195.8 1196.8,196.4 1197.8,196.9 1198.9,197.3 1200.0,197.5 1201.2,197.5 1202.4,197.5 1203.5,197.5 1204.7,197.5 1205.9,197.5 1207.1,197.5 1208.2,197.4 1209.4,197.4 1210.6,197.4 1211.8,197.4 1212.9,197.4 1214.1,197.4 1215.3,197.4 1216.5,197.3 1217.6,197.3 1218.8,197.3 1220.0,197.3 1221.2,197.3 1222.4,197.3 1223.6,197.3 1224.8,197.3 1226.0,197.2 1227.2,197.2 1228.4,197.2 1229.6,197.2 1230.7,197.2 1231.9,197.2 1233.1,197.2 1234.3,197.2 1235.5,197.2 1236.7,197.2 1237.9,197.2 1239.1,197.2 1240.3,197.2 1241.5,197.2 1242.7,197.2 1243.9,197.2 1245.1,197.1 1246.3,197.1 1247.5,197.1 1248.7,197.1 1249.9,197.1 1251.0,197.1 1252.2,197.1 1253.4,197.1 1254.6,197.1 1255.8,197.1 1257.0,197.1 1258.2,197.1 1259.4,197.1 1260.6,197.1 1261.8,197.1 1263.0,197.1 1264.2,197.1 1265.4,197.0 1266.6,197.0 1267.8,197.0 1269.0,197.0 1270.1,197.0 1271.3,197.0 1272.5,197.0 1273.7,197.0 1274.9,197.0 1276.1,196.9 1277.3,196.9 1278.5,196.9 1279.7,196.9 1280.9,196.9 1282.1,196.9 1283.3,196.9 1284.5,196.8 1285.7,196.8 1286.9,196.8 1288.1,196.8 1289.3,196.8 1290.4,196.7 1291.6,196.7 1292.8,196.7 1294.0,196.7 1295.2,196.6 1296.4,196.6 1297.6,196.6 1298.8,196.5 1300.0,196.5 1301.1,195.8 1302.2,194.3 1303.2,192.5 1304.3,190.9 1305.4,190.3 1306.6,190.5 1307.8,191.0 1308.9,191.7 1310.1,192.6 1311.3,193.6 1312.5,194.7 1313.7,195.7 1314.9,196.6 1316.0,197.3 1317.2,197.8 1318.4,198.0 1319.6,198.0 1320.8,198.0 1321.9,197.9 1323.1,197.9 1324.3,197.8 1325.5,197.7 1326.6,197.6 1327.8,197.5 1329.0,197.4 1330.2,197.2 1331.3,197.1 1332.5,196.9 1333.7,196.7 1334.9,196.6 1336.1,196.4 1337.2,196.2 1338.4,195.9 1339.6,195.7 1340.8,195.5 1341.9,195.2 1343.1,195.0 1344.3,194.7 1345.5,194.4 1346.6,194.2 1347.8,193.9 1349.0,193.6 1350.2,193.3 1351.3,193.0 1352.5,192.6 1353.7,192.2 1354.9,191.7 1356.0,191.2 1357.2,190.6 1358.4,190.0 1359.5,189.2 1360.7,188.3 1361.9,187.4 1363.1,186.3 1364.2,185.1 1365.4,183.8 1366.5,181.6 1367.6,177.9 1368.7,173.0 1369.7,167.2 1370.8,160.9 1371.9,154.4 1373.0,145.0 1374.1,132.3 1375.3,119.4 1376.4,109.4 1377.5,105.4 1378.5,112.0 1379.6,126.6 1380.7,141.2 1381.7,147.8 1382.7,146.3 1383.7,142.9 1384.6,139.5 1385.6,138.0 1386.7,144.7 1387.8,159.6 1388.8,175.2 1389.9,183.8 1390.9,186.0 1391.9,187.8 1392.8,189.1 1393.8,190.0 1394.8,190.3 1395.9,190.2 1397.0,189.9 1398.1,189.4 1399.2,188.7 1400.2,187.9 1401.3,187.0 1402.4,186.0 1403.5,184.9 1404.6,183.8 1405.8,181.9 1406.9,178.9 1408.1,175.4 1409.2,171.7 1410.4,168.3 1411.5,165.7 1412.7,164.2 1413.8,163.6 1414.9,163.0 1416.0,162.5 1417.1,162.0 1418.1,161.6 1419.2,161.3 1420.3,161.1 1421.4,160.9 1422.5,160.9 1423.5,162.3 1424.5,165.7 1425.5,170.1 1426.5,174.3 1427.5,177.3 1428.6,179.4 1429.7,181.4 1430.8,183.4 1431.9,185.1 1432.9,186.6 1434.0,188.0 1435.1,189.1 1436.2,189.8 1437.3,190.3 1438.5,190.6 1439.6,190.9 1440.8,191.2 1442.0,191.4 1443.1,191.7 1444.3,191.9 1445.5,192.1 1446.6,192.3 1447.8,192.5 1449.0,192.7 1450.2,192.8 1451.3,192.9 1452.5,193.1 1453.7,193.2 1454.8,193.3 1456.0,193.4 1457.2,193.4 1458.3,193.5 1459.5,193.5 1460.7,193.6 1461.8,193.6 1463.0,193.6 1464.2,193.5 1465.3,193.4 1466.5,193.1 1467.6,192.8 1468.8,192.4 1469.9,192.0 1471.1,191.5 1472.2,191.1 1473.4,190.5 1474.6,190.0 1475.7,189.6 1476.9,189.1 1478.0,188.7 1479.2,188.3 1480.3,188.0 1481.5,187.7 1482.6,187.6 1483.8,187.5 1484.9,187.8 1486.0,188.5 1487.1,189.6 1488.2,190.9 1489.3,192.2 1490.4,193.5 1491.5,194.6 1492.6,195.3 1493.7,195.8 1494.9,196.3 1496.0,196.8 1497.1,197.3 1498.2,197.7 1499.4,198.0 1500.5,198.4 1501.6,198.6 1502.7,198.8 1503.9,199.0 1505.0,199.0 1506.2,198.9 1507.4,198.7 1508.5,198.3 1509.7,197.8 1510.9,197.2 1512.1,196.6 1513.2,195.9 1514.4,195.2 1515.6,194.6 1516.8,194.0 1518.0,193.5 1519.1,193.1 1520.3,192.9 1521.5,192.8 1522.7,192.8 1523.9,192.9 1525.1,193.0 1526.3,193.1 1527.5,193.3 1528.7,193.4 1529.9,193.6 1531.1,193.8 1532.2,194.1 1533.4,194.3 1534.6,194.5 1535.8,194.7 1537.0,194.8 1538.2,195.0 1539.4,195.1 1540.6,195.2 1541.8,195.3 1543.0,195.3 1544.2,195.3 1545.3,195.3 1546.5,195.3 1547.7,195.2 1548.8,195.2 1550.0,195.2 1551.2,195.1 1552.3,195.1 1553.5,195.0 1554.6,195.0 1555.8,194.9 1557.0,194.8 1558.1,194.8 1559.3,194.7 1560.5,194.6 1561.6,194.6 1562.8,194.5 1564.0,194.4 1565.1,194.4 1566.3,194.3 1567.4,194.3 1568.6,194.2 1569.8,194.2 1570.9,194.2 1572.1,194.1 1573.3,194.1 1574.4,194.1 1575.6,194.1 1576.8,194.1 1578.0,194.1 1579.2,194.1 1580.3,194.1 1581.5,194.1 1582.7,194.1 1583.9,194.1 1585.1,194.1 1586.3,194.1 1587.5,194.1 1588.6,194.1 1589.8,194.1 1591.0,194.1 1592.2,194.2 1593.4,194.2 1594.6,194.2 1595.8,194.2 1597.0,194.2 1598.1,194.2 1599.3,194.2 1600.5,194.2 1601.7,194.2 1602.9,194.3 1604.1,194.3 1605.3,194.3 1606.4,194.3 1607.6,194.3 1608.8,194.3 1610.0,194.4 1611.2,194.4 1612.4,194.4 1613.6,194.4 1614.8,194.5 1615.9,194.5 1617.1,194.5 1618.3,194.5 1619.5,194.6 1620.7,194.6 1621.9,194.6 1623.1,194.7 1624.2,194.7 1625.4,194.7 1626.6,194.8 1627.8,194.8 1629.0,194.8 1630.2,194.9 1631.4,194.9 1632.5,195.0 1633.7,195.0 1634.9,195.0 1636.1,195.1 1637.3,195.1 1638.5,195.2 1639.7,195.2 1640.8,195.3 1642.0,195.3 1643.2,195.4 1644.4,195.5 1645.6,195.5 1646.8,195.6 1648.0,195.6 1649.2,195.7 1650.3,195.8 1651.5,195.8 1652.7,195.9 1653.9,196.0 1655.1,196.0 1656.3,196.1 1657.5,196.2 1658.6,196.2 1659.8,196.3 1661.0,196.4 1662.2,196.5 1663.4,196.6 1664.6,196.6 1665.8,196.7 1667.0,196.8 1668.1,196.9 1669.3,197.0 1670.5,197.1 1671.7,197.2 1672.9,197.3 1674.1,197.4 1675.3,197.5 1676.4,197.6 1677.6,197.7 1678.8,197.8 1680.0,197.9" fill="none" stroke="#00ff00" stroke-width="5.20" stroke-linejoin="round" stroke-linecap="round"/>
</g>
<g clip-path="url(#cc)">
<polyline points="958.0,199.0 1015.0,199.0 1016.0,200.8 1017.0,203.0 1018.0,203.5 1019.0,203.9 1020.0,204.0 1021.0,203.9 1022.0,203.5 1023.0,203.0 1024.0,200.8 1025.0,199.0 1190.0,199.0 1191.1,199.1 1192.2,199.3 1193.3,199.6 1194.4,200.1 1195.5,200.6 1196.6,201.3 1197.6,203.1 1198.6,206.6 1199.7,210.9 1200.7,215.1 1201.7,218.2 1202.7,219.5 1203.9,218.6 1205.1,216.5 1206.3,213.8 1207.5,211.2 1208.7,209.4 1209.8,208.3 1210.9,207.3 1212.0,206.3 1213.1,205.4 1214.2,204.5 1215.3,203.7 1216.4,203.0 1217.5,202.4 1218.6,201.9 1219.7,201.6 1220.8,201.3 1222.0,201.1 1223.2,200.9 1224.3,200.7 1225.5,200.5 1226.7,200.3 1227.9,200.2 1229.1,200.0 1230.3,199.9 1231.4,199.8 1232.6,199.7 1233.8,199.6 1235.0,199.5 1236.2,199.4 1237.4,199.4 1238.5,199.3 1239.7,199.3 1240.9,199.3 1242.1,199.4 1243.2,199.6 1244.4,199.9 1245.5,200.3 1246.7,200.8 1247.8,201.3 1249.0,201.8 1250.1,202.4 1251.2,202.9 1252.4,203.4 1253.5,203.8 1254.7,204.1 1255.8,204.3 1257.0,204.4 1258.2,204.3 1259.3,204.2 1260.5,204.0 1261.7,203.7 1262.9,203.4 1264.0,203.0 1265.2,202.6 1266.4,202.3 1267.6,202.0 1268.8,201.7 1269.9,201.4 1271.1,201.3 1272.3,201.2 1273.5,201.1 1274.6,201.0 1275.8,200.9 1277.0,200.8 1278.2,200.7 1279.4,200.6 1280.6,200.5 1281.7,200.4 1282.9,200.3 1284.1,200.3 1285.3,200.2 1286.5,200.1 1287.7,200.0 1288.8,199.9 1290.0,199.9 1291.2,199.8 1292.4,199.7 1293.6,199.7 1294.8,199.6 1295.9,199.6 1297.1,199.5 1298.3,199.5 1299.5,199.4 1300.7,199.4 1301.8,199.3 1303.0,199.3 1304.2,199.2 1305.4,199.2 1306.6,199.2 1307.8,199.1 1308.9,199.1 1310.1,199.1 1311.3,199.1 1312.5,199.0 1313.7,199.0 1314.9,199.0 1316.0,199.0 1317.2,199.0 1318.4,199.0 1319.6,199.1 1320.8,199.5 1322.0,200.0 1323.2,200.6 1324.4,201.3 1325.5,202.1 1326.7,202.8 1327.9,203.4 1329.1,203.9 1330.3,204.3 1331.5,204.4 1332.6,204.4 1333.6,204.3 1334.7,204.2 1335.8,204.1 1336.8,204.0 1337.9,203.8 1338.9,203.7 1340.0,203.5 1341.1,203.2 1342.2,202.8 1343.4,202.2 1344.5,201.6 1345.6,201.0 1346.8,200.6 1347.9,200.2 1349.0,200.1 1350.1,200.3 1351.2,200.8 1352.3,201.7 1353.4,202.8 1354.4,204.1 1355.5,205.5 1356.6,207.0 1357.7,208.5 1358.8,209.9 1359.9,211.7 1361.0,214.1 1362.1,216.7 1363.2,219.1 1364.3,220.7 1365.4,221.4 1366.5,221.0 1367.6,219.8 1368.7,218.1 1369.8,216.1 1370.8,213.8 1371.9,211.6 1373.0,209.5 1374.1,207.8 1375.2,206.7 1376.3,205.9 1377.4,205.1 1378.5,204.5 1379.5,203.9 1380.6,203.5 1381.7,203.4 1382.8,205.3 1383.9,210.2 1385.0,216.4 1386.0,222.7 1387.1,227.6 1388.2,229.5 1389.4,226.4 1390.6,219.7 1391.8,213.0 1393.0,209.9 1394.0,211.9 1395.0,216.8 1396.0,222.6 1397.0,227.5 1398.0,229.5 1399.1,229.3 1400.2,228.7 1401.3,227.8 1402.4,226.8 1403.4,225.7 1404.5,224.7 1405.6,223.8 1406.7,223.2 1407.8,223.0 1408.9,223.2 1410.0,223.7 1411.1,224.6 1412.2,225.6 1413.2,226.9 1414.3,228.3 1415.4,229.8 1416.5,231.3 1417.6,232.8 1418.7,234.8 1419.8,237.5 1420.9,240.5 1422.0,243.2 1423.1,245.1 1424.2,245.9 1425.3,245.1 1426.4,243.0 1427.5,239.9 1428.5,236.4 1429.6,232.8 1430.7,229.5 1431.8,226.1 1432.9,222.1 1434.0,218.0 1435.1,214.3 1436.2,211.5 1437.3,209.9 1438.5,209.1 1439.6,208.4 1440.8,207.8 1441.9,207.1 1443.1,206.6 1444.2,206.1 1445.4,205.6 1446.5,205.2 1447.7,204.8 1448.8,204.5 1450.0,204.2 1451.1,203.9 1452.3,203.7 1453.4,203.6 1454.6,203.5 1455.7,203.4 1456.9,203.4 1458.1,203.4 1459.2,203.4 1460.4,203.4 1461.5,203.4 1462.7,203.4 1463.8,203.5 1465.0,203.5 1466.1,203.5 1467.3,203.5 1468.5,203.5 1469.6,203.6 1470.8,203.6 1471.9,203.7 1473.1,203.7 1474.2,203.7 1475.4,203.8 1476.5,203.8 1477.7,203.9 1478.8,203.9 1480.0,204.0 1481.2,204.2 1482.3,204.6 1483.5,205.1 1484.6,205.9 1485.8,206.7 1487.0,207.5 1488.1,208.4 1489.3,209.2 1490.5,210.0 1491.6,210.7 1492.8,211.2 1493.9,211.6 1495.1,211.7 1496.2,211.4 1497.3,210.7 1498.5,209.6 1499.6,208.3 1500.7,206.9 1501.8,205.6 1503.0,204.3 1504.1,203.4 1505.2,202.9 1506.4,202.6 1507.5,202.3 1508.7,202.1 1509.9,201.9 1511.1,201.6 1512.2,201.4 1513.4,201.2 1514.6,201.1 1515.8,200.9 1517.0,200.8 1518.1,200.7 1519.3,200.6 1520.5,200.5 1521.7,200.4 1522.8,200.4 1524.0,200.4 1568.0,200.4 1569.2,200.4 1570.4,200.5 1571.6,200.6 1572.8,200.8 1573.9,201.0 1575.1,201.2 1576.3,201.4 1577.5,201.7 1578.7,201.9 1579.9,202.1 1581.1,202.3 1582.2,202.5 1583.4,202.7 1584.6,202.8 1585.8,202.9 1587.0,202.9 1588.2,202.9 1589.4,202.9 1590.6,202.9 1591.8,202.9 1593.0,202.9 1594.2,202.9 1595.3,202.9 1596.5,202.9 1597.7,202.9 1598.9,202.9 1600.1,202.9 1601.3,202.9 1602.5,202.9 1603.7,202.9 1604.9,202.9 1606.1,202.9 1607.3,202.9 1608.5,202.9 1609.7,202.9 1610.8,202.9 1612.0,202.9 1613.2,202.8 1614.4,202.8 1615.6,202.8 1616.8,202.8 1618.0,202.8 1619.2,202.8 1620.4,202.8 1621.6,202.8 1622.8,202.8 1624.0,202.7 1625.2,202.7 1626.3,202.7 1627.5,202.7 1628.7,202.7 1629.9,202.7 1631.1,202.6 1632.3,202.6 1633.5,202.6 1634.7,202.6 1635.9,202.5 1637.1,202.5 1638.3,202.5 1639.5,202.5 1640.7,202.4 1641.8,202.4 1643.0,202.4 1644.2,202.3 1645.4,202.3 1646.6,202.2 1647.8,202.2 1649.0,202.2 1650.2,202.1 1651.4,202.1 1652.6,202.0 1653.8,202.0 1655.0,201.9 1656.2,201.9 1657.3,201.8 1658.5,201.8 1659.7,201.7 1660.9,201.6 1662.1,201.6 1663.3,201.5 1664.5,201.5 1665.7,201.4 1666.9,201.3 1668.1,201.2 1669.3,201.2 1670.5,201.1 1671.7,201.0 1672.8,200.9 1674.0,200.9 1675.2,200.8 1676.4,200.7 1677.6,200.6 1678.8,200.5 1680.0,200.4" fill="none" stroke="#00ff00" stroke-width="5.20" stroke-linejoin="round" stroke-linecap="round"/>
</g>
<g clip-path="url(#cc)">
<polyline points="958.0,199.0 1124.0,199.0 1125.0,198.7 1126.0,198.0 1127.0,197.2 1128.0,196.5 1129.0,195.9 1130.0,195.3 1131.0,195.0 1132.0,195.1 1133.0,195.2 1134.0,195.5 1135.0,195.7 1136.0,196.0 1137.2,196.4 1138.4,196.9 1139.6,197.4 1140.8,197.8 1142.0,198.0 1143.1,198.0 1144.2,197.9 1145.3,197.8 1146.4,197.7 1147.6,197.6 1148.7,197.5 1149.8,197.4 1150.9,197.3 1152.0,197.2 1153.2,197.1 1154.4,197.1 1155.5,197.0 1156.7,197.0 1157.9,196.9 1159.1,196.9 1160.3,196.8 1161.5,196.8 1162.6,196.7 1163.8,196.6 1165.0,196.5 1166.2,196.3 1167.3,195.8 1168.5,195.3 1169.7,194.7 1170.8,194.3 1172.0,194.0 1173.1,193.9 1174.3,193.8 1175.4,193.7 1176.6,193.6 1177.7,193.5 1178.9,193.5 1180.0,193.5 1181.1,193.6 1182.3,193.8 1183.4,194.1 1184.6,194.4 1185.7,194.8 1186.9,195.2 1188.0,195.5 1189.1,195.8 1190.3,196.2 1191.4,196.6 1192.6,197.0 1193.7,197.3 1194.9,197.6 1196.0,197.8 1197.1,197.9 1198.2,198.1 1199.3,198.2 1200.4,198.3 1201.5,198.3 1202.6,195.4 1203.6,190.1 1204.7,187.2 1205.8,188.4 1206.9,190.8 1208.0,192.0 1208.9,190.8 1209.8,188.1 1210.8,185.4 1211.7,184.2 1212.6,186.2 1213.6,190.0 1214.5,192.0 1215.7,185.1 1216.8,178.2 1217.8,182.4 1218.8,190.1 1219.8,194.3 1220.9,192.9 1221.9,189.6 1223.0,186.0 1224.0,181.9 1224.9,176.8 1225.8,172.4 1226.8,170.5 1227.8,172.7 1228.8,177.6 1229.9,182.9 1230.9,186.2 1231.9,187.6 1232.9,188.9 1233.9,189.7 1234.9,190.0 1235.9,188.5 1236.9,184.8 1237.9,180.4 1238.9,176.7 1239.9,175.2 1240.9,178.9 1241.9,185.6 1242.9,189.3 1243.9,188.5 1245.0,186.8 1246.0,185.0 1247.0,184.2 1248.0,184.6 1249.0,185.6 1250.0,186.6 1251.0,187.0 1252.0,186.5 1253.0,185.3 1254.0,183.9 1255.0,182.7 1256.0,182.2 1257.0,183.0 1258.0,185.0 1259.1,187.6 1260.1,190.3 1261.1,192.3 1262.1,193.9 1263.1,195.6 1264.1,196.8 1265.1,197.3 1266.3,197.2 1267.5,196.8 1268.7,196.4 1269.9,195.8 1271.1,195.3 1272.2,194.7 1273.3,194.0 1274.5,193.1 1275.6,192.2 1276.7,191.3 1277.8,190.5 1279.0,189.9 1280.1,189.5 1281.2,189.3 1282.4,189.6 1283.6,190.4 1284.8,191.2 1286.0,192.0 1287.2,192.3 1288.3,192.2 1289.4,192.0 1290.6,191.6 1291.7,191.1 1292.8,190.6 1293.9,190.0 1295.1,189.4 1296.2,188.8 1297.3,188.3 1298.4,187.7 1299.6,186.9 1300.7,186.1 1301.8,185.2 1303.0,184.4 1304.1,183.8 1305.3,183.4 1306.4,183.2 1307.6,183.6 1308.8,184.7 1310.0,186.4 1311.2,188.4 1312.4,190.6 1313.6,192.8 1314.8,194.8 1316.0,196.5 1317.2,197.6 1318.4,198.0 1319.6,198.0 1320.7,197.8 1321.9,197.6 1323.0,197.3 1324.2,197.0 1325.3,196.5 1326.5,196.1 1327.6,195.6 1328.8,195.1 1330.0,194.5 1331.1,193.9 1332.3,193.4 1333.4,192.8 1334.6,192.2 1335.7,191.7 1336.9,191.2 1338.0,190.7 1339.2,190.3 1340.4,189.9 1341.5,189.5 1342.7,189.2 1343.8,188.8 1345.0,188.5 1346.1,188.2 1347.3,187.8 1348.4,187.5 1349.6,187.2 1350.7,186.8 1351.9,186.5 1353.0,186.1 1354.2,185.7 1355.3,185.3 1356.5,184.8 1357.6,184.3 1358.8,183.8 1360.0,183.2 1361.2,182.7 1362.4,182.1 1363.6,181.4 1364.8,180.7 1365.9,179.9 1367.1,179.0 1368.3,178.0 1369.5,176.8 1370.7,175.5 1371.9,174.0 1373.1,171.0 1374.3,166.0 1375.4,160.5 1376.6,156.2 1377.8,154.4 1378.8,158.0 1379.8,165.9 1380.7,173.7 1381.7,177.3 1382.7,172.9 1383.7,162.3 1384.6,149.8 1385.6,139.2 1386.6,134.8 1387.6,137.9 1388.6,145.1 1389.5,153.9 1390.5,161.1 1391.5,164.2 1392.6,163.9 1393.8,163.1 1394.9,162.3 1396.0,162.0 1397.1,162.4 1398.2,163.5 1399.2,165.1 1400.3,167.0 1401.4,169.1 1402.4,171.0 1403.5,172.7 1404.6,174.0 1405.7,174.9 1406.8,175.8 1407.9,176.5 1409.0,177.2 1410.0,177.9 1411.1,178.5 1412.2,179.1 1413.3,179.8 1414.4,180.5 1415.5,181.3 1416.6,182.2 1417.7,183.2 1418.8,184.2 1419.8,185.1 1420.9,185.9 1422.0,186.5 1423.1,186.9 1424.2,187.1 1425.3,187.0 1426.4,186.7 1427.5,186.2 1428.6,185.7 1429.6,185.2 1430.7,184.7 1431.8,184.2 1432.9,183.9 1434.0,183.8 1435.1,184.1 1436.2,184.9 1437.3,186.1 1438.4,187.5 1439.4,189.1 1440.5,190.6 1441.6,191.9 1442.7,193.0 1443.8,193.6 1444.9,194.0 1446.1,194.3 1447.2,194.6 1448.3,194.9 1449.4,195.2 1450.6,195.5 1451.7,195.7 1452.8,196.0 1454.0,196.2 1455.1,196.4 1456.2,196.5 1457.4,196.7 1458.5,196.8 1459.6,196.9 1460.7,196.9 1461.9,197.0 1463.0,197.0 1464.1,197.0 1465.3,196.9 1466.4,196.8 1467.5,196.7 1468.7,196.6 1469.8,196.4 1470.9,196.2 1472.1,196.1 1473.2,195.9 1474.3,195.7 1475.5,195.6 1476.6,195.5 1477.7,195.4 1478.9,195.3 1480.0,195.3 1481.1,195.3 1482.3,195.4 1483.4,195.5 1484.6,195.7 1485.7,195.8 1486.9,196.0 1488.0,196.2 1489.2,196.4 1490.3,196.6 1491.5,196.8 1492.6,196.9 1493.8,197.0 1495.0,197.2 1496.2,197.3 1497.3,197.4 1498.5,197.6 1499.7,197.7 1500.9,197.8 1502.1,197.9 1503.3,198.0 1504.4,198.1 1505.6,198.1 1506.8,198.2 1508.0,198.2 1509.0,197.1 1510.0,194.5 1511.0,191.5 1512.0,188.9 1513.0,187.8 1514.2,188.8 1515.3,190.9 1516.5,193.1 1517.7,194.1 1518.8,194.1 1519.9,194.0 1521.1,193.9 1522.2,193.7 1523.3,193.5 1524.4,193.4 1525.5,193.2 1526.6,193.0 1527.8,192.9 1528.9,192.8 1530.0,192.8 1555.0,192.8 1556.2,192.8 1557.4,192.7 1558.5,192.6 1559.7,192.5 1560.9,192.3 1562.1,192.0 1563.3,191.8 1564.5,191.5 1565.6,191.1 1566.8,190.7 1568.0,190.3 1569.2,189.1 1570.3,186.9 1571.5,183.9 1572.7,180.8 1573.9,178.0 1575.0,176.0 1576.2,175.2 1577.3,176.7 1578.4,180.2 1579.5,184.4 1580.6,187.8 1581.4,190.0 1582.3,191.9 1583.1,192.8 1584.3,192.8 1585.4,192.8 1586.6,192.8 1587.8,192.7 1588.9,192.7 1590.1,192.7 1591.2,192.6 1592.4,192.6 1593.6,192.5 1594.7,192.5 1595.9,192.4 1597.1,192.4 1598.2,192.3 1599.4,192.3 1600.5,192.2 1601.7,192.1 1602.9,192.1 1604.0,192.0 1605.2,192.0 1606.4,191.9 1607.5,191.9 1608.7,191.8 1609.9,191.8 1611.0,191.7 1612.2,191.7 1613.3,191.7 1614.5,191.6 1615.7,191.6 1616.8,191.6 1618.0,191.6 1619.2,191.6 1620.4,191.6 1621.6,191.6 1622.8,191.6 1624.0,191.6 1625.2,191.6 1626.3,191.6 1627.5,191.6 1628.7,191.7 1629.9,191.7 1631.1,191.7 1632.3,191.7 1633.5,191.7 1634.7,191.8 1635.9,191.8 1637.1,191.8 1638.3,191.8 1639.5,191.9 1640.7,191.9 1641.8,191.9 1643.0,192.0 1644.2,192.0 1645.4,192.0 1646.6,192.1 1647.8,192.1 1649.0,192.2 1650.2,192.2 1651.4,192.3 1652.6,192.3 1653.8,192.4 1655.0,192.4 1656.2,192.5 1657.3,192.5 1658.5,192.6 1659.7,192.7 1660.9,192.7 1662.1,192.8 1663.3,192.9 1664.5,192.9 1665.7,193.0 1666.9,193.1 1668.1,193.2 1669.3,193.3 1670.5,193.3 1671.7,193.4 1672.8,193.5 1674.0,193.6 1675.2,193.7 1676.4,193.8 1677.6,193.9 1678.8,194.0 1680.0,194.1" fill="none" stroke="#0000ff" stroke-width="5.20" stroke-linejoin="round" stroke-linecap="round"/>
</g>
<g clip-path="url(#cc)">
<polyline points="958.0,199.0 1126.0,199.0 1127.2,199.1 1128.4,199.5 1129.6,200.0 1130.8,200.5 1132.0,201.0 1133.1,201.4 1134.2,201.9 1135.4,202.4 1136.5,203.0 1137.5,203.8 1138.5,204.6 1139.5,205.0 1140.7,204.3 1141.8,202.9 1143.0,202.0 1144.2,201.7 1145.3,201.5 1146.5,201.3 1147.7,201.1 1148.8,201.0 1150.0,201.0 1151.1,201.0 1152.2,201.0 1153.3,201.1 1154.4,201.1 1155.6,201.2 1156.7,201.3 1157.8,201.3 1158.9,201.4 1160.0,201.5 1161.1,201.6 1162.2,201.7 1163.3,201.9 1164.4,202.1 1165.6,202.2 1166.7,202.4 1167.8,202.6 1168.9,202.7 1170.0,202.8 1171.2,202.9 1172.4,203.0 1173.6,203.0 1174.8,203.1 1176.0,203.2 1177.2,203.2 1178.4,203.3 1179.6,203.3 1180.8,203.4 1182.0,203.5 1183.1,203.6 1184.2,203.7 1185.3,203.8 1186.4,204.0 1187.5,204.1 1188.6,204.2 1189.7,204.3 1190.8,204.4 1191.9,204.5 1193.0,204.5 1194.2,204.4 1195.3,204.3 1196.5,204.0 1197.7,203.7 1198.8,203.5 1200.0,203.2 1201.2,203.0 1202.4,202.7 1203.6,202.5 1204.8,202.2 1206.0,202.0 1207.1,201.8 1208.2,201.6 1209.3,201.4 1210.4,201.2 1211.6,201.1 1212.7,200.9 1213.8,200.7 1214.9,200.6 1216.0,200.5 1217.1,200.4 1218.3,200.3 1219.4,200.2 1220.6,200.1 1221.7,200.0 1222.9,199.9 1224.0,199.8 1225.1,199.7 1226.3,199.7 1227.4,199.6 1228.6,199.6 1229.7,199.5 1230.9,199.5 1232.0,199.5 1233.1,199.5 1234.3,199.5 1235.4,199.6 1236.6,199.7 1237.7,199.8 1238.9,199.9 1240.0,200.0 1241.0,200.3 1242.0,201.1 1243.0,202.0 1244.0,203.2 1245.0,204.4 1246.0,205.8 1247.0,207.6 1248.0,209.7 1249.0,212.0 1250.0,214.4 1251.0,217.5 1252.0,221.4 1253.0,225.3 1254.0,228.3 1255.0,229.5 1256.0,226.8 1257.0,221.0 1258.0,215.1 1259.0,212.4 1260.0,213.1 1261.1,215.2 1262.1,218.5 1263.1,238.9 1264.1,272.9 1265.1,290.9 1266.1,285.2 1267.1,272.8 1268.1,260.4 1269.1,254.7 1270.1,255.3 1271.1,256.7 1272.1,258.1 1273.1,258.7 1274.1,253.8 1275.2,242.6 1276.2,230.4 1277.2,222.5 1278.4,218.3 1279.6,215.0 1280.8,212.3 1282.0,210.2 1283.2,208.4 1284.3,206.9 1285.4,205.4 1286.6,204.1 1287.7,202.8 1288.8,201.7 1289.9,200.8 1291.1,200.0 1292.2,199.5 1293.3,199.3 1294.5,199.2 1295.7,199.1 1296.9,199.1 1298.1,199.0 1299.3,198.9 1300.5,198.9 1301.7,198.8 1302.9,198.8 1304.1,198.7 1305.3,198.7 1306.4,198.7 1307.6,198.6 1308.8,198.6 1310.0,198.6 1311.2,198.6 1312.4,198.5 1313.6,198.5 1314.8,198.5 1316.0,198.5 1317.2,198.5 1318.4,198.5 1319.4,199.1 1320.4,200.7 1321.5,203.0 1322.5,205.6 1323.5,208.4 1324.5,212.1 1325.5,216.8 1326.5,221.4 1327.5,224.5 1328.7,226.4 1329.8,227.7 1331.0,228.8 1332.2,229.8 1333.3,230.9 1334.5,232.5 1335.5,235.0 1336.6,237.9 1337.6,239.3 1338.7,238.0 1339.8,234.7 1340.9,230.4 1342.0,226.0 1343.1,220.8 1344.2,214.0 1345.2,207.3 1346.3,202.2 1347.4,200.1 1348.6,200.1 1349.7,200.3 1350.9,200.4 1352.1,200.7 1353.3,201.0 1354.4,201.3 1355.6,201.7 1356.7,202.5 1357.8,204.0 1358.9,206.0 1360.0,208.3 1361.0,210.7 1362.1,212.9 1363.2,214.8 1364.3,216.0 1365.4,216.5 1366.5,216.3 1367.6,215.6 1368.7,214.6 1369.8,213.4 1370.8,212.0 1371.9,210.5 1373.0,209.1 1374.1,207.8 1375.2,206.7 1376.4,205.6 1377.5,204.3 1378.7,203.1 1379.8,201.9 1381.0,201.0 1382.1,200.3 1383.3,200.1 1384.4,200.3 1385.5,201.0 1386.6,201.7 1387.7,202.5 1388.8,203.2 1389.9,203.4 1390.9,203.1 1391.9,202.2 1392.8,201.3 1393.8,200.4 1394.8,200.1 1395.9,201.3 1397.0,204.2 1398.0,208.0 1399.1,211.9 1400.2,215.0 1401.3,216.5 1402.4,216.8 1403.5,217.1 1404.6,217.4 1405.7,217.6 1406.7,217.8 1407.8,217.9 1408.9,218.0 1410.0,218.1 1411.1,218.1 1412.3,218.1 1413.5,218.1 1414.7,218.1 1415.9,218.1 1417.1,218.1 1418.2,218.1 1419.4,218.1 1420.6,218.1 1421.8,218.1 1423.0,218.1 1424.2,218.1 1425.3,217.8 1426.4,217.1 1427.5,216.1 1428.5,215.0 1429.6,214.0 1430.7,213.2 1431.9,212.6 1433.1,212.0 1434.3,211.5 1435.5,210.9 1436.7,210.4 1437.8,210.0 1439.0,209.6 1440.2,209.2 1441.4,208.8 1442.6,208.5 1443.8,208.3 1445.0,208.1 1446.2,207.9 1447.4,207.7 1448.6,207.6 1449.8,207.4 1450.9,207.3 1452.1,207.2 1453.3,207.0 1454.5,206.9 1455.7,206.8 1456.9,206.7 1458.1,206.6 1459.2,206.5 1460.4,206.3 1461.5,206.2 1462.7,206.1 1463.8,206.0 1465.0,205.8 1466.1,205.7 1467.3,205.6 1468.4,205.5 1469.6,205.4 1470.7,205.3 1471.9,205.2 1473.0,205.2 1474.2,205.1 1475.3,205.1 1476.5,205.1 1477.6,205.2 1478.7,205.3 1479.8,205.5 1480.9,205.8 1482.0,206.1 1483.1,206.5 1484.2,206.9 1485.3,207.2 1486.4,207.6 1487.5,207.9 1488.6,208.2 1489.7,208.6 1490.8,209.0 1492.0,209.4 1493.1,209.8 1494.2,210.1 1495.3,210.3 1496.4,210.4 1497.5,210.2 1498.7,209.6 1499.8,208.8 1500.9,207.8 1502.1,206.6 1503.2,205.5 1504.3,204.5 1505.4,203.7 1506.6,203.1 1507.7,202.9 1508.9,202.9 1510.0,203.0 1511.2,203.1 1512.4,203.2 1513.5,203.3 1514.7,203.4 1515.8,203.5 1517.0,203.7 1518.2,203.8 1519.3,203.9 1520.5,204.0 1521.7,204.1 1522.8,204.2 1524.0,204.2 1543.0,204.2 1544.2,204.2 1545.3,204.2 1546.5,204.2 1547.7,204.2 1548.8,204.3 1550.0,204.3 1551.2,204.3 1552.3,204.4 1553.5,204.4 1554.6,204.5 1555.8,204.6 1557.0,204.6 1558.1,204.7 1559.3,204.8 1560.5,204.9 1561.6,205.0 1562.8,205.1 1564.0,205.2 1565.1,205.3 1566.3,205.4 1567.4,205.6 1568.6,205.7 1569.8,205.9 1570.9,206.0 1572.1,206.2 1573.3,206.3 1574.4,206.5 1575.6,206.7 1576.7,207.1 1577.8,207.9 1579.0,208.9 1580.1,210.1 1581.2,211.3 1582.3,212.4 1583.5,213.3 1584.6,214.0 1585.7,214.2 1586.8,214.1 1587.8,213.7 1588.9,213.2 1590.0,212.6 1591.1,211.9 1592.1,211.1 1593.2,210.4 1594.2,209.4 1595.3,208.2 1596.3,206.8 1597.4,205.5 1598.5,204.6 1599.5,204.2 1618.0,204.2 1619.2,204.2 1620.4,204.2 1621.6,204.2 1622.8,204.3 1624.0,204.3 1625.2,204.4 1626.4,204.4 1627.6,204.5 1628.8,204.6 1630.0,204.6 1631.2,204.7 1632.4,204.8 1633.6,204.9 1634.8,205.0 1636.0,205.1 1637.2,205.2 1638.4,205.3 1639.6,205.4 1640.8,205.4 1642.0,205.5 1643.2,205.6 1644.4,205.7 1645.6,205.8 1646.8,205.9 1648.0,206.0 1649.2,206.1 1650.4,206.2 1651.6,206.3 1652.8,206.3 1654.0,206.4 1655.2,206.5 1656.4,206.5 1657.6,206.6 1658.8,206.6 1660.0,206.7 1661.2,206.7 1662.4,206.7 1663.6,206.7 1664.8,206.7 1665.9,206.6 1667.1,206.4 1668.3,206.2 1669.5,206.0 1670.6,205.7 1671.8,205.4 1673.0,205.1 1674.1,204.8 1675.3,204.4 1676.5,204.0 1677.7,203.6 1678.8,203.3 1680.0,202.9" fill="none" stroke="#0000ff" stroke-width="5.20" stroke-linejoin="round" stroke-linecap="round"/>
</g>
<g clip-path="url(#cd)">
<polyline points="958.0,519.5 959.1,519.2 960.2,518.9 961.3,518.6 962.4,518.3 963.5,518.0 964.6,517.7 965.7,517.4 966.8,517.1 967.9,516.8 969.0,516.5 970.1,516.2 971.3,515.9 972.4,515.6 973.6,515.2 974.7,514.9 975.9,514.6 977.1,514.3 978.2,514.0 979.4,513.6 980.6,513.3 981.7,512.9 982.9,512.5 984.0,512.1 985.2,511.7 986.3,511.3 987.4,510.8 988.5,510.4 989.6,509.9 990.7,509.4 991.8,508.9 992.9,508.4 994.0,507.8 995.1,507.1 996.2,506.4 997.3,505.7 998.4,504.8 999.6,503.7 1000.7,502.5 1001.9,501.2 1003.0,500.0 1004.1,499.0 1005.2,498.0 1006.3,496.6 1007.2,494.8 1008.1,492.5 1009.0,490.0 1009.9,487.5 1010.8,484.5 1011.8,480.4 1012.9,475.5 1013.9,469.4 1015.1,458.6 1016.3,445.3 1017.3,431.1 1018.4,421.0 1019.5,419.0 1020.1,422.7 1020.8,430.2 1021.5,443.4 1022.3,460.4 1023.0,478.7 1023.8,496.6 1024.4,510.3 1025.0,519.0 1026.0,521.5 1110.0,521.5 1111.2,521.5 1112.3,521.5 1113.5,521.4 1114.6,521.3 1115.8,521.2 1116.9,521.1 1118.1,521.0 1119.2,520.9 1120.4,520.7 1121.5,520.5 1122.7,520.4 1123.8,520.2 1125.0,520.0 1126.0,519.7 1127.1,519.3 1128.1,518.8 1129.2,518.2 1130.2,517.8 1131.3,517.4 1132.3,517.3 1133.5,517.6 1134.7,518.4 1135.8,519.3 1137.0,520.0 1138.0,520.5 1139.0,521.0 1140.0,521.4 1141.0,521.5 1380.0,521.5 1381.2,521.4 1382.3,521.0 1383.5,520.4 1384.6,519.7 1385.8,519.0 1386.9,518.3 1388.1,517.7 1389.2,517.2 1390.4,517.0 1391.6,516.9 1392.7,516.8 1393.9,516.7 1395.0,516.7 1396.2,516.6 1397.3,516.6 1398.5,516.6 1399.6,516.5 1400.8,516.5 1401.9,516.5 1403.1,516.4 1404.2,516.4 1405.4,516.3 1406.5,516.3 1407.7,516.2 1408.8,516.1 1410.0,516.0 1411.2,515.7 1412.3,515.0 1413.5,514.1 1414.7,513.0 1415.8,511.8 1417.0,510.6 1418.2,509.6 1419.4,508.7 1420.5,508.1 1421.7,507.9 1422.8,508.6 1423.8,510.2 1424.8,512.4 1425.9,514.6 1427.0,516.3 1428.0,517.0 1429.2,517.1 1430.4,517.2 1431.6,517.3 1432.8,517.3 1434.0,517.4 1435.2,517.4 1436.4,517.5 1437.6,517.5 1438.8,517.5 1440.0,517.5 1441.1,517.5 1442.3,517.4 1443.4,517.3 1444.6,517.2 1445.7,517.0 1446.9,516.8 1448.0,516.6 1449.2,516.4 1450.3,516.1 1451.5,515.9 1452.6,515.6 1453.8,515.4 1454.9,515.1 1456.1,514.9 1457.2,514.6 1458.4,514.4 1459.5,514.2 1460.7,514.0 1461.8,513.8 1463.0,513.7 1464.1,513.6 1465.3,513.5 1466.4,513.5 1467.6,513.6 1468.7,513.7 1469.9,514.0 1471.1,514.3 1472.3,514.7 1473.4,515.2 1474.6,515.7 1475.8,516.2 1477.0,516.7 1478.1,517.2 1479.3,517.7 1480.5,518.1 1481.7,518.5 1482.8,518.8 1484.0,519.0 1485.2,519.2 1486.4,519.4 1487.5,519.5 1488.7,519.7 1489.9,519.9 1491.1,520.0 1492.3,520.2 1493.5,520.3 1494.6,520.5 1495.8,520.6 1497.0,520.7 1498.2,520.9 1499.4,521.0 1500.5,521.1 1501.7,521.2 1502.9,521.3 1504.1,521.3 1505.3,521.4 1506.5,521.4 1507.6,521.5 1508.8,521.5 1510.0,521.5 1680.0,521.5" fill="none" stroke="#ff0000" stroke-width="5.20" stroke-linejoin="round" stroke-linecap="round"/>
</g>
<g clip-path="url(#cd)">
<polyline points="958.0,523.5 959.1,523.7 960.2,524.0 961.3,524.3 962.4,524.6 963.5,524.8 964.6,525.1 965.7,525.5 966.8,525.8 967.9,526.1 969.0,526.5 970.1,526.8 971.3,527.2 972.4,527.6 973.6,528.0 974.7,528.4 975.9,528.9 977.1,529.3 978.2,529.8 979.4,530.3 980.6,530.8 981.7,531.3 982.9,531.8 984.0,532.3 985.2,532.8 986.3,533.3 987.4,533.8 988.5,534.2 989.6,534.7 990.7,535.2 991.8,535.8 992.9,536.3 994.0,536.9 995.1,537.5 996.2,538.2 997.3,538.9 998.4,539.7 999.5,540.5 1000.7,541.4 1001.8,542.4 1002.9,543.6 1004.0,544.8 1005.2,546.3 1006.3,547.9 1007.4,550.0 1008.5,552.8 1009.7,556.2 1010.8,560.0 1011.8,564.2 1012.9,569.3 1013.9,575.1 1014.9,581.3 1015.9,588.3 1016.9,596.2 1018.0,607.4 1019.0,617.4 1019.9,622.8 1020.8,625.5 1021.8,616.0 1022.9,596.2 1023.7,575.3 1024.4,551.0 1025.3,526.8 1026.2,522.9 1027.0,521.5 1120.0,521.5 1121.2,521.5 1122.4,521.7 1123.6,521.9 1124.8,522.1 1126.0,522.4 1127.2,522.8 1128.4,523.1 1129.6,523.4 1130.8,523.7 1132.0,524.0 1133.1,524.2 1134.2,524.5 1135.3,524.8 1136.4,525.1 1137.5,525.3 1138.6,525.5 1139.7,525.7 1140.8,525.7 1141.8,525.5 1142.9,525.0 1143.9,524.2 1144.9,523.5 1145.9,522.7 1147.0,522.2 1148.0,522.0 1380.0,522.0 1381.2,522.2 1382.3,522.6 1383.5,523.3 1384.6,524.0 1385.8,524.9 1386.9,525.6 1388.1,526.3 1389.2,526.7 1390.4,526.9 1391.6,526.9 1392.7,526.8 1393.9,526.7 1395.0,526.5 1396.2,526.3 1397.4,526.2 1398.5,526.0 1399.7,525.9 1400.8,525.8 1402.0,525.8 1403.2,525.8 1404.3,525.9 1405.5,525.9 1406.6,526.1 1407.8,526.2 1408.9,526.4 1410.1,526.5 1411.2,526.7 1412.4,527.0 1413.5,527.2 1414.7,527.5 1415.8,527.7 1417.0,528.0 1418.1,528.3 1419.2,528.7 1420.4,529.3 1421.5,529.8 1422.6,530.5 1423.8,531.3 1424.9,532.1 1426.0,533.0 1427.2,534.5 1428.3,536.6 1429.4,538.4 1430.6,539.2 1431.7,536.9 1432.8,532.0 1433.9,527.0 1435.0,524.7 1436.2,524.8 1437.4,524.9 1438.6,525.2 1439.8,525.5 1441.0,525.8 1442.2,526.2 1443.4,526.7 1444.6,527.1 1445.8,527.6 1447.0,528.0 1448.2,528.3 1449.4,528.6 1450.6,528.9 1451.8,529.0 1453.0,529.1 1454.2,528.9 1455.4,528.4 1456.5,527.5 1457.7,526.5 1458.9,525.4 1460.1,524.2 1461.3,523.1 1462.5,522.1 1463.6,521.2 1464.8,520.7 1466.0,520.5 1467.2,520.6 1468.4,520.8 1469.6,521.1 1470.8,521.5 1472.0,522.0 1473.2,522.5 1474.4,523.1 1475.6,523.8 1476.8,524.5 1477.9,525.1 1479.1,525.8 1480.3,526.5 1481.5,527.1 1482.7,527.6 1483.9,528.1 1485.1,528.5 1486.3,528.8 1487.5,529.0 1488.7,529.1 1489.8,529.0 1491.0,528.7 1492.1,528.3 1493.2,527.7 1494.3,527.1 1495.5,526.5 1496.6,525.9 1497.7,525.4 1498.9,525.0 1500.0,524.7 1501.2,524.5 1502.4,524.3 1503.6,524.2 1504.8,524.0 1506.0,523.8 1507.1,523.7 1508.3,523.6 1509.5,523.4 1510.7,523.3 1511.9,523.2 1513.1,523.1 1514.3,523.0 1515.5,522.9 1516.7,522.8 1517.9,522.7 1519.0,522.6 1520.2,522.6 1521.4,522.6 1522.6,522.5 1523.8,522.5 1525.0,522.5 1680.0,522.5" fill="none" stroke="#ff0000" stroke-width="5.20" stroke-linejoin="round" stroke-linecap="round"/>
</g>
<g clip-path="url(#cd)">
<polyline points="958.0,521.5 1105.0,521.5 1106.0,521.4 1107.1,521.1 1108.1,520.7 1109.1,520.3 1110.2,519.8 1111.2,519.4 1112.4,519.0 1113.5,518.7 1114.7,518.3 1115.8,518.0 1117.0,517.7 1118.1,517.3 1119.3,516.8 1120.4,516.3 1121.6,515.6 1122.7,514.7 1123.9,513.7 1124.9,510.3 1126.0,504.6 1127.0,500.0 1128.0,497.4 1129.0,495.0 1129.9,493.3 1130.9,492.6 1132.0,493.0 1133.0,494.0 1134.0,495.3 1135.1,496.8 1136.2,499.0 1137.4,502.0 1138.5,505.3 1139.7,508.5 1140.8,510.9 1141.9,512.8 1143.0,514.7 1144.2,516.4 1145.3,517.6 1146.4,518.0 1147.6,517.6 1148.8,516.8 1150.0,515.5 1151.1,514.2 1152.3,513.1 1153.5,512.3 1154.7,511.8 1155.8,511.4 1157.0,511.1 1158.2,510.8 1159.3,510.5 1160.5,510.2 1161.6,509.9 1162.6,509.7 1163.7,509.5 1164.8,509.4 1165.8,509.1 1166.9,508.9 1167.9,508.5 1169.0,508.1 1170.0,506.9 1171.1,504.7 1172.2,502.5 1173.2,501.0 1174.4,500.1 1175.6,499.3 1176.8,498.5 1177.9,498.0 1179.1,497.6 1180.3,497.5 1181.4,497.5 1182.4,497.5 1183.5,497.6 1184.5,497.7 1185.6,497.8 1186.7,497.9 1187.7,498.0 1188.8,498.2 1189.8,498.8 1190.9,500.2 1192.0,502.2 1193.0,504.5 1194.0,506.9 1195.1,509.1 1196.2,511.0 1197.2,512.3 1198.3,513.3 1199.3,514.2 1200.4,514.8 1201.5,515.1 1202.7,514.6 1203.8,513.5 1205.0,511.9 1206.2,510.4 1207.3,509.3 1208.5,508.8 1209.5,510.0 1210.6,512.7 1211.7,515.4 1212.7,516.6 1213.8,515.8 1214.8,514.1 1215.9,512.4 1217.0,511.6 1218.0,512.6 1219.0,514.8 1220.0,517.0 1221.0,518.0 1222.1,517.6 1223.2,516.5 1224.3,515.1 1225.4,513.8 1226.5,512.7 1227.6,512.3 1228.7,513.2 1229.8,515.1 1230.9,517.1 1232.0,518.0 1233.1,518.0 1234.2,518.0 1235.3,518.0 1236.3,518.0 1237.4,518.0 1238.5,518.0 1239.6,518.0 1240.7,518.2 1241.8,518.7 1242.8,519.3 1243.9,519.8 1245.0,520.0 1246.2,519.9 1247.3,519.6 1248.5,519.1 1249.7,518.5 1250.9,517.9 1252.0,517.2 1253.2,516.6 1254.4,516.0 1255.6,515.5 1256.7,515.2 1257.9,515.1 1259.1,515.4 1260.2,516.1 1261.4,517.0 1262.5,518.1 1263.7,519.0 1264.8,519.7 1266.0,520.0 1267.1,519.9 1268.3,519.7 1269.4,519.4 1270.5,519.0 1271.7,518.5 1272.8,517.9 1274.0,517.3 1275.1,516.7 1276.2,516.1 1277.4,515.5 1278.5,515.0 1279.6,514.5 1280.8,514.0 1281.9,513.7 1283.0,513.4 1284.2,513.1 1285.3,512.8 1286.4,512.6 1287.6,512.3 1288.7,512.1 1289.8,511.9 1290.9,511.7 1292.1,511.6 1293.2,511.6 1294.4,511.6 1295.5,511.6 1296.7,511.6 1297.9,511.6 1299.1,511.6 1300.2,511.6 1301.4,511.6 1302.6,511.6 1303.8,511.6 1305.0,511.6 1306.1,511.6 1307.3,511.6 1308.4,512.1 1309.5,513.4 1310.7,515.1 1311.8,516.8 1312.9,518.0 1314.0,518.9 1315.2,519.9 1316.3,520.7 1317.5,521.3 1318.6,521.5 1319.8,521.4 1320.9,521.2 1322.1,520.8 1323.2,520.4 1324.4,520.0 1325.6,519.6 1326.7,519.2 1327.9,519.0 1329.1,518.8 1330.2,518.7 1331.4,518.5 1332.6,518.4 1333.7,518.2 1334.9,518.1 1336.1,517.9 1337.2,517.8 1338.4,517.7 1339.6,517.6 1340.7,517.5 1341.9,517.4 1343.1,517.3 1344.2,517.2 1345.4,517.1 1346.6,517.1 1347.7,517.0 1348.9,517.0 1350.1,516.9 1351.2,516.9 1352.4,516.9 1375.0,516.9 1376.2,516.9 1377.3,517.0 1378.5,517.0 1379.6,517.1 1380.8,517.3 1381.9,517.4 1383.1,517.5 1384.2,517.6 1385.4,517.8 1386.5,517.9 1387.7,517.9 1388.8,518.0 1390.0,518.0 1391.2,518.0 1392.4,517.9 1393.5,517.9 1394.7,517.8 1395.9,517.7 1397.1,517.6 1398.2,517.4 1399.4,517.3 1400.6,517.1 1401.8,517.0 1402.9,516.8 1404.1,516.6 1405.3,516.4 1406.5,516.2 1407.6,516.1 1408.8,515.9 1410.0,515.7 1411.2,515.5 1412.4,515.3 1413.6,515.1 1414.7,514.8 1415.9,514.5 1417.1,514.2 1418.3,513.9 1419.5,513.6 1420.7,513.3 1421.9,512.9 1423.1,512.6 1424.2,512.3 1425.4,512.0 1426.6,511.7 1427.8,511.4 1429.0,511.2 1430.2,510.9 1431.4,510.7 1432.6,510.5 1433.7,510.4 1434.9,510.3 1436.1,510.2 1437.3,510.2 1438.4,510.3 1439.5,510.7 1440.7,511.2 1441.8,511.8 1442.9,512.6 1444.0,513.3 1445.1,514.1 1446.3,514.7 1447.4,515.3 1448.5,515.7 1449.7,516.0 1450.9,516.4 1452.1,516.7 1453.3,517.0 1454.5,517.3 1455.7,517.6 1456.9,517.8 1458.0,518.1 1459.2,518.3 1460.4,518.5 1461.6,518.7 1462.8,518.8 1464.0,518.9 1465.2,519.0 1466.4,519.0 1467.6,518.9 1468.8,518.7 1470.0,518.4 1471.2,518.0 1472.4,517.6 1473.6,517.1 1474.8,516.5 1475.9,516.0 1477.1,515.4 1478.3,514.9 1479.5,514.5 1480.7,514.1 1481.9,513.8 1483.1,513.6 1484.3,513.5 1485.4,513.6 1486.5,514.0 1487.6,514.5 1488.7,515.2 1489.8,516.0 1490.9,516.8 1492.1,517.7 1493.2,518.5 1494.3,519.2 1495.4,519.7 1496.5,520.1 1497.6,520.2 1498.7,520.2 1499.8,520.0 1500.9,519.8 1502.1,519.5 1503.2,519.1 1504.3,518.7 1505.4,518.3 1506.5,517.8 1507.7,517.3 1508.8,516.7 1509.9,516.2 1511.0,515.7 1512.1,515.1 1513.3,514.3 1514.4,513.4 1515.5,512.6 1516.7,511.8 1517.8,511.3 1518.9,510.9 1520.0,510.5 1521.1,510.2 1522.3,509.8 1523.4,509.5 1524.5,509.2 1525.6,508.9 1526.7,508.7 1527.8,508.4 1528.9,508.3 1530.1,508.1 1531.2,508.0 1532.3,507.9 1533.4,507.9 1578.1,507.9 1579.2,508.2 1580.3,509.1 1581.4,510.1 1582.6,511.2 1583.7,512.1 1584.8,512.4 1585.9,512.3 1587.0,512.1 1588.2,511.9 1589.3,511.5 1590.4,511.1 1591.5,510.6 1592.6,510.2 1593.8,509.7 1594.9,509.3 1596.0,509.0 1597.2,508.7 1598.4,508.3 1599.6,507.9 1600.7,507.5 1601.9,507.1 1603.1,506.7 1604.3,506.4 1605.5,506.0 1606.7,505.7 1607.9,505.4 1609.1,505.1 1610.2,504.9 1611.4,504.7 1612.6,504.6 1613.8,504.6 1614.9,504.8 1616.0,505.3 1617.2,506.2 1618.3,507.2 1619.4,508.4 1620.5,509.6 1621.6,510.8 1622.7,512.0 1623.8,513.0 1625.0,513.9 1626.1,514.4 1627.2,514.6 1628.4,514.6 1629.6,514.6 1630.8,514.5 1631.9,514.5 1633.1,514.4 1634.3,514.4 1635.5,514.3 1636.7,514.2 1637.9,514.1 1639.1,514.0 1640.3,513.9 1641.4,513.8 1642.6,513.7 1643.8,513.6 1645.0,513.5 1646.1,513.4 1647.2,513.3 1648.4,513.2 1649.5,513.0 1650.6,512.9 1651.8,512.7 1652.9,512.5 1654.0,512.3 1655.1,512.1 1656.2,511.9 1657.4,511.6 1658.5,511.3 1659.6,510.8 1660.8,509.9 1661.9,508.8 1663.0,507.6 1664.1,506.5 1665.2,505.5 1666.4,504.9 1667.5,504.6 1668.6,504.9 1669.8,505.7 1670.9,506.8 1672.0,508.2 1673.1,509.7 1674.2,511.2 1675.4,512.5 1676.5,513.5 1677.7,514.3 1678.8,515.0 1680.0,515.7" fill="none" stroke="#00ff00" stroke-width="5.20" stroke-linejoin="round" stroke-linecap="round"/>
</g>
<g clip-path="url(#cd)">
<polyline points="958.0,521.5 959.2,521.5 960.4,521.5 961.6,521.5 962.8,521.5 964.0,521.5 965.2,521.5 966.4,521.5 967.6,521.5 968.8,521.5 970.0,521.5 971.2,521.5 972.4,521.5 973.6,521.5 974.8,521.5 976.0,521.5 977.2,521.5 978.4,521.5 979.6,521.5 980.8,521.5 982.0,521.5 983.2,521.5 984.4,521.5 985.6,521.5 986.8,521.5 988.0,521.5 989.2,521.5 990.4,521.5 991.6,521.5 992.8,521.5 994.0,521.5 995.2,521.5 996.4,521.5 997.5,521.5 998.7,521.5 999.9,521.5 1001.1,521.5 1002.3,521.5 1003.5,521.5 1004.7,521.5 1005.9,521.5 1007.1,521.5 1008.3,521.5 1009.5,521.5 1010.7,521.5 1011.9,521.5 1013.1,521.5 1014.3,521.5 1015.5,521.5 1016.7,521.5 1017.9,521.5 1019.1,521.5 1020.3,521.5 1021.5,521.5 1022.7,521.5 1023.9,521.5 1025.1,521.6 1026.3,521.6 1027.5,521.6 1028.7,521.6 1029.9,521.6 1031.1,521.6 1032.3,521.6 1033.5,521.6 1034.7,521.6 1035.9,521.6 1037.1,521.6 1038.3,521.6 1039.5,521.6 1040.7,521.6 1041.9,521.6 1043.1,521.6 1044.3,521.6 1045.5,521.6 1046.7,521.6 1047.9,521.6 1049.1,521.6 1050.3,521.6 1051.5,521.6 1052.7,521.6 1053.9,521.6 1055.1,521.6 1056.3,521.6 1057.5,521.6 1058.7,521.6 1059.9,521.7 1061.1,521.7 1062.3,521.7 1063.5,521.7 1064.7,521.7 1065.9,521.7 1067.1,521.7 1068.3,521.7 1069.5,521.7 1070.7,521.7 1071.9,521.7 1073.1,521.7 1074.3,521.7 1075.5,521.7 1076.6,521.7 1077.8,521.7 1079.0,521.7 1080.2,521.8 1081.4,521.8 1082.6,521.8 1083.8,521.8 1085.0,521.8 1086.2,521.8 1087.4,521.8 1088.6,521.8 1089.8,521.8 1091.0,521.8 1092.2,521.8 1093.4,521.8 1094.6,521.8 1095.8,521.8 1097.0,521.9 1098.2,521.9 1099.4,521.9 1100.6,521.9 1101.8,521.9 1103.0,521.9 1104.2,521.9 1105.4,521.9 1106.6,521.9 1107.8,521.9 1109.0,521.9 1110.2,522.0 1111.4,522.0 1112.6,522.0 1113.8,522.0 1115.0,522.0 1116.1,522.1 1117.3,522.3 1118.4,522.6 1119.6,523.1 1120.7,523.6 1121.9,524.1 1123.0,524.6 1124.2,525.2 1125.3,525.7 1126.5,526.2 1127.6,526.7 1128.8,527.2 1130.0,527.8 1131.1,528.5 1132.3,529.3 1133.4,530.3 1134.6,531.4 1135.7,533.0 1136.9,535.0 1138.0,537.7 1138.9,544.3 1139.9,554.0 1140.8,558.9 1141.7,557.3 1142.7,553.5 1143.6,549.0 1144.5,542.7 1145.5,535.3 1146.4,530.7 1147.5,528.8 1148.7,527.3 1149.8,526.1 1151.0,525.4 1152.1,525.0 1153.3,524.8 1154.4,524.6 1155.6,524.4 1156.8,524.2 1158.0,524.1 1159.2,523.9 1160.3,523.8 1161.5,523.7 1162.7,523.7 1163.8,523.6 1165.0,523.6 1166.2,523.6 1167.3,524.1 1168.3,525.6 1169.4,527.6 1170.5,530.0 1171.5,532.3 1172.6,534.3 1173.6,535.8 1174.7,536.3 1175.8,536.1 1176.9,535.6 1178.1,534.9 1179.2,534.4 1180.3,534.2 1197.2,534.2 1198.3,536.0 1199.3,540.6 1200.4,547.2 1201.5,554.7 1202.2,563.7 1202.9,570.2 1203.8,568.4 1204.8,564.4 1205.7,560.3 1206.8,556.1 1207.8,551.5 1208.9,547.5 1209.9,544.8 1211.1,543.0 1212.3,541.6 1213.5,540.4 1214.6,539.4 1215.8,538.5 1217.0,537.7 1218.0,537.1 1219.1,536.5 1220.2,536.1 1221.2,535.7 1222.2,535.2 1223.3,534.8 1224.4,534.2 1225.4,533.5 1226.6,532.2 1227.8,530.1 1229.0,527.9 1230.1,525.8 1231.3,524.2 1232.5,523.6 1233.6,523.6 1234.8,523.6 1235.9,523.6 1237.0,523.6 1238.2,523.6 1239.3,523.6 1240.5,523.6 1241.6,523.6 1242.7,523.6 1243.9,523.6 1245.0,523.6 1246.0,523.8 1247.1,524.3 1248.1,525.0 1249.2,525.7 1250.2,526.4 1251.3,526.9 1252.3,527.1 1253.4,526.7 1254.5,525.8 1255.7,524.5 1256.8,523.3 1257.9,522.4 1259.0,522.0 1260.1,522.4 1261.1,523.6 1262.2,525.1 1263.2,526.9 1264.3,528.4 1265.3,529.6 1266.4,530.0 1267.5,529.6 1268.6,528.5 1269.7,527.1 1270.8,525.8 1271.9,524.7 1273.0,524.3 1289.0,524.3 1290.2,524.1 1291.3,523.6 1292.5,522.9 1293.7,522.2 1294.8,521.7 1296.0,521.5 1318.6,521.5 1319.8,521.6 1320.9,521.9 1322.1,522.3 1323.2,522.7 1324.4,523.3 1325.6,523.8 1326.7,524.3 1327.9,524.7 1329.1,525.1 1330.3,525.5 1331.5,526.0 1332.7,526.4 1333.9,526.9 1335.1,527.3 1336.3,527.7 1337.5,528.1 1338.7,528.4 1339.9,528.7 1341.1,528.9 1342.3,529.1 1343.5,529.1 1344.6,527.7 1345.8,524.7 1346.9,521.6 1348.0,520.2 1349.2,520.3 1350.3,520.5 1351.5,520.8 1352.7,521.2 1353.9,521.6 1355.0,522.2 1356.2,522.8 1357.4,523.5 1358.5,524.2 1359.7,524.9 1360.9,525.6 1362.1,526.3 1363.2,527.0 1364.4,527.7 1365.6,528.3 1366.7,528.9 1367.9,529.3 1369.1,529.7 1370.3,530.0 1371.4,530.2 1372.6,530.3 1373.7,530.0 1374.8,529.4 1375.9,528.4 1377.0,527.1 1378.2,525.8 1379.3,524.5 1380.4,523.2 1381.5,522.2 1382.6,521.6 1383.7,521.3 1384.8,521.4 1385.9,521.6 1387.1,522.0 1388.2,522.4 1389.3,522.9 1390.4,523.5 1391.6,524.1 1392.7,524.7 1393.8,525.3 1394.9,525.8 1396.0,526.2 1397.2,526.6 1398.3,526.8 1399.4,526.9 1400.6,526.9 1401.7,526.8 1402.9,526.8 1404.1,526.6 1405.3,526.5 1406.4,526.4 1407.6,526.2 1408.8,526.1 1410.0,525.9 1411.1,525.7 1412.3,525.5 1413.5,525.4 1414.7,525.2 1415.8,525.1 1417.0,525.0 1418.2,524.8 1419.4,524.8 1420.5,524.7 1421.7,524.7 1453.0,524.7 1454.2,524.8 1455.4,525.0 1456.5,525.3 1457.7,525.7 1458.9,526.2 1460.1,526.8 1461.3,527.4 1462.5,528.0 1463.6,528.7 1464.8,529.4 1466.0,530.0 1467.2,530.6 1468.4,531.2 1469.6,531.6 1470.7,532.0 1471.9,532.3 1473.1,532.5 1474.3,532.6 1475.4,532.7 1476.6,532.8 1477.8,532.9 1479.0,533.0 1480.1,533.1 1481.3,533.1 1482.5,533.2 1483.7,533.3 1484.8,533.3 1486.0,533.4 1487.2,533.4 1488.4,533.5 1489.5,533.5 1490.7,533.5 1491.9,533.6 1493.1,533.6 1494.2,533.6 1495.4,533.6 1496.6,533.5 1497.8,533.1 1499.0,532.5 1500.2,531.7 1501.4,530.9 1502.6,529.9 1503.8,528.9 1505.0,528.0 1506.2,527.0 1507.4,526.2 1508.6,525.5 1509.8,525.0 1511.0,524.7 1512.1,524.5 1513.2,524.4 1514.4,524.3 1515.5,524.1 1516.6,524.0 1517.8,523.9 1518.9,523.8 1520.0,523.7 1521.1,523.7 1522.2,523.6 1523.4,523.6 1524.5,523.6 1525.7,523.7 1526.9,524.0 1528.1,524.5 1529.2,525.2 1530.4,525.9 1531.6,526.7 1532.8,527.6 1534.0,528.5 1535.2,529.4 1536.4,530.2 1537.6,530.9 1538.7,531.6 1539.9,532.1 1541.1,532.4 1542.3,532.5 1578.1,532.5 1579.3,532.5 1580.4,532.4 1581.6,532.2 1582.8,532.0 1584.0,531.7 1585.1,531.4 1586.3,531.1 1587.5,530.8 1588.7,530.4 1589.8,530.1 1591.0,529.7 1592.2,529.4 1593.4,529.1 1594.5,528.8 1595.7,528.5 1596.9,528.3 1598.1,528.1 1599.2,528.0 1600.4,528.0 1601.5,528.0 1602.6,528.0 1603.8,528.0 1604.9,528.0 1606.0,528.0 1607.1,528.0 1608.2,528.0 1609.3,528.0 1610.5,528.0 1611.6,528.0 1612.7,528.0 1613.8,528.0 1615.0,528.1 1616.2,528.4 1617.4,528.9 1618.6,529.6 1619.8,530.3 1621.0,531.2 1622.2,532.1 1623.3,532.9 1624.5,533.8 1625.7,534.7 1626.9,535.4 1628.1,536.1 1629.3,536.6 1630.5,536.9 1631.7,537.0 1632.8,536.6 1633.9,535.6 1635.0,534.2 1636.2,532.5 1637.3,530.8 1638.4,529.4 1639.5,528.4 1640.6,528.0 1641.8,528.0 1643.0,528.0 1644.1,528.0 1645.3,528.0 1646.5,528.1 1647.7,528.1 1648.9,528.1 1650.0,528.2 1651.2,528.2 1652.4,528.3 1653.6,528.3 1654.7,528.4 1655.9,528.5 1657.1,528.6 1658.3,528.6 1659.5,528.7 1660.6,528.8 1661.8,528.9 1663.0,529.0 1664.2,529.2 1665.4,529.7 1666.6,530.3 1667.8,531.0 1669.0,531.8 1670.2,532.7 1671.4,533.6 1672.6,534.5 1673.8,535.3 1675.0,536.0 1676.2,536.5 1677.4,536.9 1678.6,537.0 1679.3,537.0 1680.0,537.0" fill="none" stroke="#00ff00" stroke-width="5.20" stroke-linejoin="round" stroke-linecap="round"/>
</g>
<text transform="translate(69.80,54.85) scale(1.0463,1)" font-size="35.37" fill="#000">6</text>
<text transform="translate(69.70,138.25) scale(1.0564,1)" font-size="35.22" fill="#000">3</text>
<text x="70.87" y="220.33" font-size="35.50">0</text>
<text x="58.80" y="304.09" font-size="35.50">-3</text>
<text x="71.49" y="438.98" font-size="35.50">3</text>
<text x="71.67" y="552.43" font-size="35.50">0</text>
<text x="59.60" y="666.70" font-size="35.50">-3</text>
<text transform="translate(82.20,738.85) scale(1.0556,1)" font-size="35.11" fill="#000">-10</text>
<text transform="translate(282.22,738.84) scale(1.0270,1)" font-size="35.64" fill="#000">-5</text>
<text transform="translate(479.79,738.85) scale(1.0036,1)" font-size="35.11" fill="#000">0</text>
<text transform="translate(669.18,738.84) scale(0.9969,1)" font-size="35.64" fill="#000">5</text>
<text transform="translate(849.62,738.85) scale(1.0260,1)" font-size="35.11" fill="#000">10</text>
<text transform="translate(400.74,779.77) scale(1.0427,1)" font-size="41.97" fill="#000">Energy (eV)</text>
<text transform="translate(39.19,468.54) rotate(-90) scale(1.0088,1)" font-size="35.38">PDOS(States/eV)</text>
<text x="923.65" y="26.02" font-size="33.00">3</text>
<text x="923.82" y="88.49" font-size="33.00">2</text>
<text x="924.15" y="148.99" font-size="33.00">1</text>
<text x="923.82" y="209.41" font-size="33.00">0</text>
<text x="913.10" y="269.99" font-size="33.00">-1</text>
<text x="912.76" y="330.49" font-size="33.00">-2</text>
<text x="924.32" y="359.89" font-size="33.00">2</text>
<text x="924.65" y="447.03" font-size="33.00">1</text>
<text x="924.32" y="532.11" font-size="33.00">0</text>
<text x="913.60" y="617.35" font-size="33.00">-1</text>
<text x="913.26" y="705.39" font-size="33.00">-2</text>
<text transform="translate(932.74,734.86) scale(1.0644,1)" font-size="33.93" fill="#000">-10</text>
<text transform="translate(1122.03,734.86) scale(1.0515,1)" font-size="34.44" fill="#000">-5</text>
<text transform="translate(1309.00,734.86) scale(1.1089,1)" font-size="33.93" fill="#000">0</text>
<text transform="translate(1490.51,734.86) scale(1.0796,1)" font-size="34.44" fill="#000">5</text>
<text transform="translate(1662.39,734.86) scale(1.0719,1)" font-size="33.93" fill="#000">10</text>
<text transform="translate(1210.32,767.86) scale(1.0265,1)" font-size="37.92" fill="#000">Energy (eV)</text>
<text transform="translate(744.48,127.05) scale(1.0238,1)" font-size="45.22" fill="#000">Cr</text>
<text transform="translate(243.91,261.03) scale(0.9849,1)" font-size="47.08" fill="#000">a</text>
<text transform="translate(750.52,441.16) scale(1.0316,1)" font-size="44.18" fill="#000">Co</text>
<text transform="translate(256.52,629.83) scale(1.0134,1)" font-size="47.09" fill="#000">b</text>
<text transform="translate(596.30,447.44) scale(1.0332,1)" font-size="35.16" fill="#000">Spin Up</text>
<text transform="translate(612.04,638.24) scale(1.0133,1)" font-size="35.16" fill="#000">Spin Down</text>
<text transform="translate(1522.74,115.30) scale(0.9919,1)" font-size="41.68" fill="#000">Zr</text>
<text transform="translate(1076.82,273.71) scale(0.9857,1)" font-size="48.75" fill="#000">c</text>
<text transform="translate(1544.01,434.52) scale(1.0584,1)" font-size="37.61" fill="#000">Sn</text>
<text transform="translate(1075.52,615.21) scale(0.9618,1)" font-size="48.79" fill="#000">d</text>
<text transform="translate(1393.11,440.42) scale(1.0310,1)" font-size="31.54" fill="#000">Spin Up</text>
<text transform="translate(1381.25,599.34) scale(1.0256,1)" font-size="30.99" fill="#000">Spin Down</text>
<line x1="127.80" y1="63.10" x2="189.00" y2="63.10" stroke="#ff0000" stroke-width="5.40" stroke-linecap="round"/>
<line x1="127.80" y1="98.60" x2="189.00" y2="98.60" stroke="#00ff00" stroke-width="5.40" stroke-linecap="round"/>
<line x1="127.80" y1="140.40" x2="189.00" y2="140.40" stroke="#0000ff" stroke-width="5.40" stroke-linecap="round"/>
<text transform="translate(196.66,72.60) scale(1.0700,1)" font-size="26.60" fill="#000">d</text>
<text transform="translate(196.66,109.00) scale(1.0700,1)" font-size="26.60" fill="#000">d-e</text>
<text transform="translate(234.59,116.18) scale(1.0700,1)" font-size="19.20" fill="#000">g</text>
<text transform="translate(196.66,149.90) scale(1.0700,1)" font-size="26.60" fill="#000">d-t</text>
<text transform="translate(230.93,158.68) scale(1.0700,1)" font-size="19.20" fill="#000">2</text>
<text transform="translate(241.29,149.90) scale(1.0700,1)" font-size="26.60" fill="#000">g</text>
<line x1="130.00" y1="399.80" x2="193.00" y2="399.80" stroke="#ff0000" stroke-width="5.40" stroke-linecap="round"/>
<line x1="130.00" y1="435.80" x2="193.00" y2="435.80" stroke="#00ff00" stroke-width="5.40" stroke-linecap="round"/>
<line x1="130.00" y1="477.50" x2="193.00" y2="477.50" stroke="#0000ff" stroke-width="5.40" stroke-linecap="round"/>
<text transform="translate(200.36,409.00) scale(1.0700,1)" font-size="26.60" fill="#000">d</text>
<text transform="translate(200.36,445.00) scale(1.0700,1)" font-size="26.60" fill="#000">d-e</text>
<text transform="translate(238.27,452.18) scale(1.0700,1)" font-size="20.00" fill="#000">g</text>
<text transform="translate(200.36,487.00) scale(1.0700,1)" font-size="26.60" fill="#000">d-t</text>
<text transform="translate(234.59,495.78) scale(1.0700,1)" font-size="20.00" fill="#000">2</text>
<text transform="translate(245.38,487.00) scale(1.0700,1)" font-size="26.60" fill="#000">g</text>
<line x1="993.30" y1="64.80" x2="1056.00" y2="64.80" stroke="#ff0000" stroke-width="5.40" stroke-linecap="round"/>
<line x1="993.30" y1="99.70" x2="1056.00" y2="99.70" stroke="#00ff00" stroke-width="5.40" stroke-linecap="round"/>
<line x1="993.30" y1="140.00" x2="1056.00" y2="140.00" stroke="#0000ff" stroke-width="5.40" stroke-linecap="round"/>
<text transform="translate(1062.23,73.90) scale(1.0300,1)" font-size="26.00" fill="#000">d</text>
<text transform="translate(1062.23,109.20) scale(1.0300,1)" font-size="26.00" fill="#000">d-e</text>
<text transform="translate(1097.94,116.22) scale(1.0300,1)" font-size="19.00" fill="#000">g</text>
<text transform="translate(1062.23,149.20) scale(1.0300,1)" font-size="26.00" fill="#000">d-t</text>
<text transform="translate(1094.48,156.48) scale(1.0300,1)" font-size="19.00" fill="#000">2</text>
<text transform="translate(1104.39,149.20) scale(1.0300,1)" font-size="26.00" fill="#000">g</text>
<line x1="1055.00" y1="400.90" x2="1116.00" y2="400.90" stroke="#ff0000" stroke-width="5.60" stroke-linecap="round"/>
<line x1="1055.00" y1="434.90" x2="1116.00" y2="434.90" stroke="#00ff00" stroke-width="5.60" stroke-linecap="round"/>
<text transform="translate(1122.75,409.92) scale(1.0158,1)" font-size="27.92" fill="#000">s</text>
<text transform="translate(1123.73,444.04) scale(0.9781,1)" font-size="27.74" fill="#000">p</text>
</svg>
</body></html>
